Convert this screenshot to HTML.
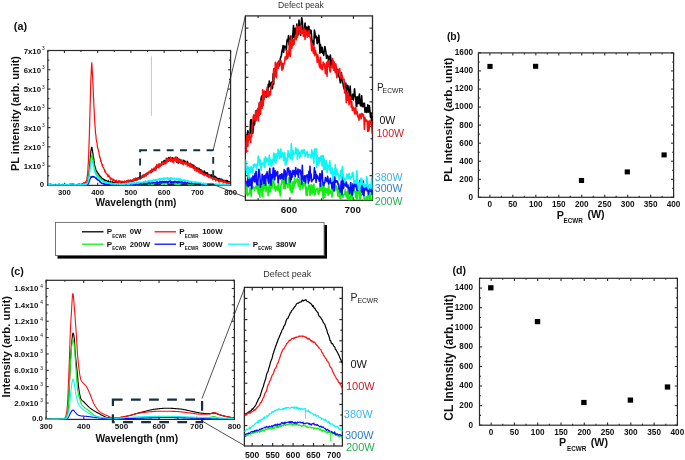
<!DOCTYPE html><html><head><meta charset="utf-8"><style>html,body{margin:0;padding:0;background:#fff;width:685px;height:460px;overflow:hidden}svg{display:block;filter:blur(0.3px)}</style></head><body><svg width="685" height="460" viewBox="0 0 685 460" font-family="'Liberation Sans', sans-serif">
<rect width="685" height="460" fill="#fff"/>
<rect x="47.8" y="50.5" width="182.8" height="134.9" fill="none" stroke="#2a2a2a" stroke-width="1.2"/>
<line x1="47.8" y1="185.4" x2="47.8" y2="183.9" stroke="#2a2a2a" stroke-width="1.08"/>
<line x1="47.8" y1="50.5" x2="47.8" y2="52" stroke="#2a2a2a" stroke-width="1.08"/>
<line x1="64.42" y1="185.4" x2="64.42" y2="182.8" stroke="#2a2a2a" stroke-width="1.08"/>
<line x1="64.42" y1="50.5" x2="64.42" y2="53.1" stroke="#2a2a2a" stroke-width="1.08"/>
<line x1="81.04" y1="185.4" x2="81.04" y2="183.9" stroke="#2a2a2a" stroke-width="1.08"/>
<line x1="81.04" y1="50.5" x2="81.04" y2="52" stroke="#2a2a2a" stroke-width="1.08"/>
<line x1="97.65" y1="185.4" x2="97.65" y2="182.8" stroke="#2a2a2a" stroke-width="1.08"/>
<line x1="97.65" y1="50.5" x2="97.65" y2="53.1" stroke="#2a2a2a" stroke-width="1.08"/>
<line x1="114.27" y1="185.4" x2="114.27" y2="183.9" stroke="#2a2a2a" stroke-width="1.08"/>
<line x1="114.27" y1="50.5" x2="114.27" y2="52" stroke="#2a2a2a" stroke-width="1.08"/>
<line x1="130.89" y1="185.4" x2="130.89" y2="182.8" stroke="#2a2a2a" stroke-width="1.08"/>
<line x1="130.89" y1="50.5" x2="130.89" y2="53.1" stroke="#2a2a2a" stroke-width="1.08"/>
<line x1="147.51" y1="185.4" x2="147.51" y2="183.9" stroke="#2a2a2a" stroke-width="1.08"/>
<line x1="147.51" y1="50.5" x2="147.51" y2="52" stroke="#2a2a2a" stroke-width="1.08"/>
<line x1="164.13" y1="185.4" x2="164.13" y2="182.8" stroke="#2a2a2a" stroke-width="1.08"/>
<line x1="164.13" y1="50.5" x2="164.13" y2="53.1" stroke="#2a2a2a" stroke-width="1.08"/>
<line x1="180.75" y1="185.4" x2="180.75" y2="183.9" stroke="#2a2a2a" stroke-width="1.08"/>
<line x1="180.75" y1="50.5" x2="180.75" y2="52" stroke="#2a2a2a" stroke-width="1.08"/>
<line x1="197.36" y1="185.4" x2="197.36" y2="182.8" stroke="#2a2a2a" stroke-width="1.08"/>
<line x1="197.36" y1="50.5" x2="197.36" y2="53.1" stroke="#2a2a2a" stroke-width="1.08"/>
<line x1="213.98" y1="185.4" x2="213.98" y2="183.9" stroke="#2a2a2a" stroke-width="1.08"/>
<line x1="213.98" y1="50.5" x2="213.98" y2="52" stroke="#2a2a2a" stroke-width="1.08"/>
<line x1="230.6" y1="185.4" x2="230.6" y2="182.8" stroke="#2a2a2a" stroke-width="1.08"/>
<line x1="230.6" y1="50.5" x2="230.6" y2="53.1" stroke="#2a2a2a" stroke-width="1.08"/>
<line x1="47.8" y1="185.4" x2="50.4" y2="185.4" stroke="#2a2a2a" stroke-width="1.08"/>
<line x1="230.6" y1="185.4" x2="228" y2="185.4" stroke="#2a2a2a" stroke-width="1.08"/>
<line x1="47.8" y1="175.76" x2="49.3" y2="175.76" stroke="#2a2a2a" stroke-width="1.08"/>
<line x1="230.6" y1="175.76" x2="229.1" y2="175.76" stroke="#2a2a2a" stroke-width="1.08"/>
<line x1="47.8" y1="166.13" x2="50.4" y2="166.13" stroke="#2a2a2a" stroke-width="1.08"/>
<line x1="230.6" y1="166.13" x2="228" y2="166.13" stroke="#2a2a2a" stroke-width="1.08"/>
<line x1="47.8" y1="156.49" x2="49.3" y2="156.49" stroke="#2a2a2a" stroke-width="1.08"/>
<line x1="230.6" y1="156.49" x2="229.1" y2="156.49" stroke="#2a2a2a" stroke-width="1.08"/>
<line x1="47.8" y1="146.86" x2="50.4" y2="146.86" stroke="#2a2a2a" stroke-width="1.08"/>
<line x1="230.6" y1="146.86" x2="228" y2="146.86" stroke="#2a2a2a" stroke-width="1.08"/>
<line x1="47.8" y1="137.22" x2="49.3" y2="137.22" stroke="#2a2a2a" stroke-width="1.08"/>
<line x1="230.6" y1="137.22" x2="229.1" y2="137.22" stroke="#2a2a2a" stroke-width="1.08"/>
<line x1="47.8" y1="127.59" x2="50.4" y2="127.59" stroke="#2a2a2a" stroke-width="1.08"/>
<line x1="230.6" y1="127.59" x2="228" y2="127.59" stroke="#2a2a2a" stroke-width="1.08"/>
<line x1="47.8" y1="117.95" x2="49.3" y2="117.95" stroke="#2a2a2a" stroke-width="1.08"/>
<line x1="230.6" y1="117.95" x2="229.1" y2="117.95" stroke="#2a2a2a" stroke-width="1.08"/>
<line x1="47.8" y1="108.31" x2="50.4" y2="108.31" stroke="#2a2a2a" stroke-width="1.08"/>
<line x1="230.6" y1="108.31" x2="228" y2="108.31" stroke="#2a2a2a" stroke-width="1.08"/>
<line x1="47.8" y1="98.68" x2="49.3" y2="98.68" stroke="#2a2a2a" stroke-width="1.08"/>
<line x1="230.6" y1="98.68" x2="229.1" y2="98.68" stroke="#2a2a2a" stroke-width="1.08"/>
<line x1="47.8" y1="89.04" x2="50.4" y2="89.04" stroke="#2a2a2a" stroke-width="1.08"/>
<line x1="230.6" y1="89.04" x2="228" y2="89.04" stroke="#2a2a2a" stroke-width="1.08"/>
<line x1="47.8" y1="79.41" x2="49.3" y2="79.41" stroke="#2a2a2a" stroke-width="1.08"/>
<line x1="230.6" y1="79.41" x2="229.1" y2="79.41" stroke="#2a2a2a" stroke-width="1.08"/>
<line x1="47.8" y1="69.77" x2="50.4" y2="69.77" stroke="#2a2a2a" stroke-width="1.08"/>
<line x1="230.6" y1="69.77" x2="228" y2="69.77" stroke="#2a2a2a" stroke-width="1.08"/>
<line x1="47.8" y1="60.14" x2="49.3" y2="60.14" stroke="#2a2a2a" stroke-width="1.08"/>
<line x1="230.6" y1="60.14" x2="229.1" y2="60.14" stroke="#2a2a2a" stroke-width="1.08"/>
<line x1="47.8" y1="50.5" x2="50.4" y2="50.5" stroke="#2a2a2a" stroke-width="1.08"/>
<line x1="230.6" y1="50.5" x2="228" y2="50.5" stroke="#2a2a2a" stroke-width="1.08"/>
<rect x="245.4" y="15.9" width="127.1" height="184.4" fill="none" stroke="#2a2a2a" stroke-width="1.3"/>
<line x1="258.11" y1="200.3" x2="258.11" y2="198.3" stroke="#2a2a2a" stroke-width="1.1700000000000002"/>
<line x1="258.11" y1="15.9" x2="258.11" y2="17.9" stroke="#2a2a2a" stroke-width="1.1700000000000002"/>
<line x1="289.88" y1="200.3" x2="289.88" y2="197.3" stroke="#2a2a2a" stroke-width="1.1700000000000002"/>
<line x1="289.88" y1="15.9" x2="289.88" y2="18.9" stroke="#2a2a2a" stroke-width="1.1700000000000002"/>
<line x1="321.66" y1="200.3" x2="321.66" y2="198.3" stroke="#2a2a2a" stroke-width="1.1700000000000002"/>
<line x1="321.66" y1="15.9" x2="321.66" y2="17.9" stroke="#2a2a2a" stroke-width="1.1700000000000002"/>
<line x1="353.44" y1="200.3" x2="353.44" y2="197.3" stroke="#2a2a2a" stroke-width="1.1700000000000002"/>
<line x1="353.44" y1="15.9" x2="353.44" y2="18.9" stroke="#2a2a2a" stroke-width="1.1700000000000002"/>
<line x1="245.4" y1="188" x2="247.4" y2="188" stroke="#2a2a2a" stroke-width="1.1700000000000002"/>
<line x1="372.5" y1="188" x2="370.5" y2="188" stroke="#2a2a2a" stroke-width="1.1700000000000002"/>
<line x1="245.4" y1="175.7" x2="248.4" y2="175.7" stroke="#2a2a2a" stroke-width="1.1700000000000002"/>
<line x1="372.5" y1="175.7" x2="369.5" y2="175.7" stroke="#2a2a2a" stroke-width="1.1700000000000002"/>
<line x1="245.4" y1="163.4" x2="247.4" y2="163.4" stroke="#2a2a2a" stroke-width="1.1700000000000002"/>
<line x1="372.5" y1="163.4" x2="370.5" y2="163.4" stroke="#2a2a2a" stroke-width="1.1700000000000002"/>
<line x1="245.4" y1="151.1" x2="248.4" y2="151.1" stroke="#2a2a2a" stroke-width="1.1700000000000002"/>
<line x1="372.5" y1="151.1" x2="369.5" y2="151.1" stroke="#2a2a2a" stroke-width="1.1700000000000002"/>
<line x1="245.4" y1="138.8" x2="247.4" y2="138.8" stroke="#2a2a2a" stroke-width="1.1700000000000002"/>
<line x1="372.5" y1="138.8" x2="370.5" y2="138.8" stroke="#2a2a2a" stroke-width="1.1700000000000002"/>
<line x1="245.4" y1="126.5" x2="248.4" y2="126.5" stroke="#2a2a2a" stroke-width="1.1700000000000002"/>
<line x1="372.5" y1="126.5" x2="369.5" y2="126.5" stroke="#2a2a2a" stroke-width="1.1700000000000002"/>
<line x1="245.4" y1="114.2" x2="247.4" y2="114.2" stroke="#2a2a2a" stroke-width="1.1700000000000002"/>
<line x1="372.5" y1="114.2" x2="370.5" y2="114.2" stroke="#2a2a2a" stroke-width="1.1700000000000002"/>
<line x1="245.4" y1="101.9" x2="248.4" y2="101.9" stroke="#2a2a2a" stroke-width="1.1700000000000002"/>
<line x1="372.5" y1="101.9" x2="369.5" y2="101.9" stroke="#2a2a2a" stroke-width="1.1700000000000002"/>
<line x1="245.4" y1="89.6" x2="247.4" y2="89.6" stroke="#2a2a2a" stroke-width="1.1700000000000002"/>
<line x1="372.5" y1="89.6" x2="370.5" y2="89.6" stroke="#2a2a2a" stroke-width="1.1700000000000002"/>
<line x1="245.4" y1="77.3" x2="248.4" y2="77.3" stroke="#2a2a2a" stroke-width="1.1700000000000002"/>
<line x1="372.5" y1="77.3" x2="369.5" y2="77.3" stroke="#2a2a2a" stroke-width="1.1700000000000002"/>
<line x1="245.4" y1="65" x2="247.4" y2="65" stroke="#2a2a2a" stroke-width="1.1700000000000002"/>
<line x1="372.5" y1="65" x2="370.5" y2="65" stroke="#2a2a2a" stroke-width="1.1700000000000002"/>
<line x1="245.4" y1="52.7" x2="248.4" y2="52.7" stroke="#2a2a2a" stroke-width="1.1700000000000002"/>
<line x1="372.5" y1="52.7" x2="369.5" y2="52.7" stroke="#2a2a2a" stroke-width="1.1700000000000002"/>
<line x1="245.4" y1="40.4" x2="247.4" y2="40.4" stroke="#2a2a2a" stroke-width="1.1700000000000002"/>
<line x1="372.5" y1="40.4" x2="370.5" y2="40.4" stroke="#2a2a2a" stroke-width="1.1700000000000002"/>
<line x1="245.4" y1="28.1" x2="248.4" y2="28.1" stroke="#2a2a2a" stroke-width="1.1700000000000002"/>
<line x1="372.5" y1="28.1" x2="369.5" y2="28.1" stroke="#2a2a2a" stroke-width="1.1700000000000002"/>
<rect x="46.1" y="280.3" width="188.3" height="139.1" fill="none" stroke="#2a2a2a" stroke-width="1.2"/>
<line x1="46.1" y1="419.4" x2="46.1" y2="416.8" stroke="#2a2a2a" stroke-width="1.08"/>
<line x1="46.1" y1="280.3" x2="46.1" y2="282.9" stroke="#2a2a2a" stroke-width="1.08"/>
<line x1="64.93" y1="419.4" x2="64.93" y2="417.9" stroke="#2a2a2a" stroke-width="1.08"/>
<line x1="64.93" y1="280.3" x2="64.93" y2="281.8" stroke="#2a2a2a" stroke-width="1.08"/>
<line x1="83.76" y1="419.4" x2="83.76" y2="416.8" stroke="#2a2a2a" stroke-width="1.08"/>
<line x1="83.76" y1="280.3" x2="83.76" y2="282.9" stroke="#2a2a2a" stroke-width="1.08"/>
<line x1="102.59" y1="419.4" x2="102.59" y2="417.9" stroke="#2a2a2a" stroke-width="1.08"/>
<line x1="102.59" y1="280.3" x2="102.59" y2="281.8" stroke="#2a2a2a" stroke-width="1.08"/>
<line x1="121.42" y1="419.4" x2="121.42" y2="416.8" stroke="#2a2a2a" stroke-width="1.08"/>
<line x1="121.42" y1="280.3" x2="121.42" y2="282.9" stroke="#2a2a2a" stroke-width="1.08"/>
<line x1="140.25" y1="419.4" x2="140.25" y2="417.9" stroke="#2a2a2a" stroke-width="1.08"/>
<line x1="140.25" y1="280.3" x2="140.25" y2="281.8" stroke="#2a2a2a" stroke-width="1.08"/>
<line x1="159.08" y1="419.4" x2="159.08" y2="416.8" stroke="#2a2a2a" stroke-width="1.08"/>
<line x1="159.08" y1="280.3" x2="159.08" y2="282.9" stroke="#2a2a2a" stroke-width="1.08"/>
<line x1="177.91" y1="419.4" x2="177.91" y2="417.9" stroke="#2a2a2a" stroke-width="1.08"/>
<line x1="177.91" y1="280.3" x2="177.91" y2="281.8" stroke="#2a2a2a" stroke-width="1.08"/>
<line x1="196.74" y1="419.4" x2="196.74" y2="416.8" stroke="#2a2a2a" stroke-width="1.08"/>
<line x1="196.74" y1="280.3" x2="196.74" y2="282.9" stroke="#2a2a2a" stroke-width="1.08"/>
<line x1="215.57" y1="419.4" x2="215.57" y2="417.9" stroke="#2a2a2a" stroke-width="1.08"/>
<line x1="215.57" y1="280.3" x2="215.57" y2="281.8" stroke="#2a2a2a" stroke-width="1.08"/>
<line x1="234.4" y1="419.4" x2="234.4" y2="416.8" stroke="#2a2a2a" stroke-width="1.08"/>
<line x1="234.4" y1="280.3" x2="234.4" y2="282.9" stroke="#2a2a2a" stroke-width="1.08"/>
<line x1="46.1" y1="419.4" x2="48.7" y2="419.4" stroke="#2a2a2a" stroke-width="1.08"/>
<line x1="234.4" y1="419.4" x2="231.8" y2="419.4" stroke="#2a2a2a" stroke-width="1.08"/>
<line x1="46.1" y1="411.22" x2="47.6" y2="411.22" stroke="#2a2a2a" stroke-width="1.08"/>
<line x1="234.4" y1="411.22" x2="232.9" y2="411.22" stroke="#2a2a2a" stroke-width="1.08"/>
<line x1="46.1" y1="403.04" x2="48.7" y2="403.04" stroke="#2a2a2a" stroke-width="1.08"/>
<line x1="234.4" y1="403.04" x2="231.8" y2="403.04" stroke="#2a2a2a" stroke-width="1.08"/>
<line x1="46.1" y1="394.85" x2="47.6" y2="394.85" stroke="#2a2a2a" stroke-width="1.08"/>
<line x1="234.4" y1="394.85" x2="232.9" y2="394.85" stroke="#2a2a2a" stroke-width="1.08"/>
<line x1="46.1" y1="386.67" x2="48.7" y2="386.67" stroke="#2a2a2a" stroke-width="1.08"/>
<line x1="234.4" y1="386.67" x2="231.8" y2="386.67" stroke="#2a2a2a" stroke-width="1.08"/>
<line x1="46.1" y1="378.49" x2="47.6" y2="378.49" stroke="#2a2a2a" stroke-width="1.08"/>
<line x1="234.4" y1="378.49" x2="232.9" y2="378.49" stroke="#2a2a2a" stroke-width="1.08"/>
<line x1="46.1" y1="370.31" x2="48.7" y2="370.31" stroke="#2a2a2a" stroke-width="1.08"/>
<line x1="234.4" y1="370.31" x2="231.8" y2="370.31" stroke="#2a2a2a" stroke-width="1.08"/>
<line x1="46.1" y1="362.12" x2="47.6" y2="362.12" stroke="#2a2a2a" stroke-width="1.08"/>
<line x1="234.4" y1="362.12" x2="232.9" y2="362.12" stroke="#2a2a2a" stroke-width="1.08"/>
<line x1="46.1" y1="353.94" x2="48.7" y2="353.94" stroke="#2a2a2a" stroke-width="1.08"/>
<line x1="234.4" y1="353.94" x2="231.8" y2="353.94" stroke="#2a2a2a" stroke-width="1.08"/>
<line x1="46.1" y1="345.76" x2="47.6" y2="345.76" stroke="#2a2a2a" stroke-width="1.08"/>
<line x1="234.4" y1="345.76" x2="232.9" y2="345.76" stroke="#2a2a2a" stroke-width="1.08"/>
<line x1="46.1" y1="337.58" x2="48.7" y2="337.58" stroke="#2a2a2a" stroke-width="1.08"/>
<line x1="234.4" y1="337.58" x2="231.8" y2="337.58" stroke="#2a2a2a" stroke-width="1.08"/>
<line x1="46.1" y1="329.39" x2="47.6" y2="329.39" stroke="#2a2a2a" stroke-width="1.08"/>
<line x1="234.4" y1="329.39" x2="232.9" y2="329.39" stroke="#2a2a2a" stroke-width="1.08"/>
<line x1="46.1" y1="321.21" x2="48.7" y2="321.21" stroke="#2a2a2a" stroke-width="1.08"/>
<line x1="234.4" y1="321.21" x2="231.8" y2="321.21" stroke="#2a2a2a" stroke-width="1.08"/>
<line x1="46.1" y1="313.03" x2="47.6" y2="313.03" stroke="#2a2a2a" stroke-width="1.08"/>
<line x1="234.4" y1="313.03" x2="232.9" y2="313.03" stroke="#2a2a2a" stroke-width="1.08"/>
<line x1="46.1" y1="304.85" x2="48.7" y2="304.85" stroke="#2a2a2a" stroke-width="1.08"/>
<line x1="234.4" y1="304.85" x2="231.8" y2="304.85" stroke="#2a2a2a" stroke-width="1.08"/>
<line x1="46.1" y1="296.66" x2="47.6" y2="296.66" stroke="#2a2a2a" stroke-width="1.08"/>
<line x1="234.4" y1="296.66" x2="232.9" y2="296.66" stroke="#2a2a2a" stroke-width="1.08"/>
<line x1="46.1" y1="288.48" x2="48.7" y2="288.48" stroke="#2a2a2a" stroke-width="1.08"/>
<line x1="234.4" y1="288.48" x2="231.8" y2="288.48" stroke="#2a2a2a" stroke-width="1.08"/>
<line x1="46.1" y1="280.3" x2="47.6" y2="280.3" stroke="#2a2a2a" stroke-width="1.08"/>
<line x1="234.4" y1="280.3" x2="232.9" y2="280.3" stroke="#2a2a2a" stroke-width="1.08"/>
<rect x="244.4" y="287.4" width="98" height="158.6" fill="none" stroke="#2a2a2a" stroke-width="1.3"/>
<line x1="252.2" y1="446" x2="252.2" y2="443" stroke="#2a2a2a" stroke-width="1.1700000000000002"/>
<line x1="252.2" y1="287.4" x2="252.2" y2="290.4" stroke="#2a2a2a" stroke-width="1.1700000000000002"/>
<line x1="262.42" y1="446" x2="262.42" y2="444" stroke="#2a2a2a" stroke-width="1.1700000000000002"/>
<line x1="262.42" y1="287.4" x2="262.42" y2="289.4" stroke="#2a2a2a" stroke-width="1.1700000000000002"/>
<line x1="272.64" y1="446" x2="272.64" y2="443" stroke="#2a2a2a" stroke-width="1.1700000000000002"/>
<line x1="272.64" y1="287.4" x2="272.64" y2="290.4" stroke="#2a2a2a" stroke-width="1.1700000000000002"/>
<line x1="282.86" y1="446" x2="282.86" y2="444" stroke="#2a2a2a" stroke-width="1.1700000000000002"/>
<line x1="282.86" y1="287.4" x2="282.86" y2="289.4" stroke="#2a2a2a" stroke-width="1.1700000000000002"/>
<line x1="293.08" y1="446" x2="293.08" y2="443" stroke="#2a2a2a" stroke-width="1.1700000000000002"/>
<line x1="293.08" y1="287.4" x2="293.08" y2="290.4" stroke="#2a2a2a" stroke-width="1.1700000000000002"/>
<line x1="303.3" y1="446" x2="303.3" y2="444" stroke="#2a2a2a" stroke-width="1.1700000000000002"/>
<line x1="303.3" y1="287.4" x2="303.3" y2="289.4" stroke="#2a2a2a" stroke-width="1.1700000000000002"/>
<line x1="313.52" y1="446" x2="313.52" y2="443" stroke="#2a2a2a" stroke-width="1.1700000000000002"/>
<line x1="313.52" y1="287.4" x2="313.52" y2="290.4" stroke="#2a2a2a" stroke-width="1.1700000000000002"/>
<line x1="323.74" y1="446" x2="323.74" y2="444" stroke="#2a2a2a" stroke-width="1.1700000000000002"/>
<line x1="323.74" y1="287.4" x2="323.74" y2="289.4" stroke="#2a2a2a" stroke-width="1.1700000000000002"/>
<line x1="333.96" y1="446" x2="333.96" y2="443" stroke="#2a2a2a" stroke-width="1.1700000000000002"/>
<line x1="333.96" y1="287.4" x2="333.96" y2="290.4" stroke="#2a2a2a" stroke-width="1.1700000000000002"/>
<line x1="244.4" y1="298.4" x2="247.4" y2="298.4" stroke="#2a2a2a" stroke-width="1.1700000000000002"/>
<line x1="342.4" y1="298.4" x2="339.4" y2="298.4" stroke="#2a2a2a" stroke-width="1.1700000000000002"/>
<line x1="244.4" y1="309" x2="246.4" y2="309" stroke="#2a2a2a" stroke-width="1.1700000000000002"/>
<line x1="342.4" y1="309" x2="340.4" y2="309" stroke="#2a2a2a" stroke-width="1.1700000000000002"/>
<line x1="244.4" y1="319.6" x2="247.4" y2="319.6" stroke="#2a2a2a" stroke-width="1.1700000000000002"/>
<line x1="342.4" y1="319.6" x2="339.4" y2="319.6" stroke="#2a2a2a" stroke-width="1.1700000000000002"/>
<line x1="244.4" y1="330.2" x2="246.4" y2="330.2" stroke="#2a2a2a" stroke-width="1.1700000000000002"/>
<line x1="342.4" y1="330.2" x2="340.4" y2="330.2" stroke="#2a2a2a" stroke-width="1.1700000000000002"/>
<line x1="244.4" y1="340.8" x2="247.4" y2="340.8" stroke="#2a2a2a" stroke-width="1.1700000000000002"/>
<line x1="342.4" y1="340.8" x2="339.4" y2="340.8" stroke="#2a2a2a" stroke-width="1.1700000000000002"/>
<line x1="244.4" y1="351.4" x2="246.4" y2="351.4" stroke="#2a2a2a" stroke-width="1.1700000000000002"/>
<line x1="342.4" y1="351.4" x2="340.4" y2="351.4" stroke="#2a2a2a" stroke-width="1.1700000000000002"/>
<line x1="244.4" y1="362" x2="247.4" y2="362" stroke="#2a2a2a" stroke-width="1.1700000000000002"/>
<line x1="342.4" y1="362" x2="339.4" y2="362" stroke="#2a2a2a" stroke-width="1.1700000000000002"/>
<line x1="244.4" y1="372.6" x2="246.4" y2="372.6" stroke="#2a2a2a" stroke-width="1.1700000000000002"/>
<line x1="342.4" y1="372.6" x2="340.4" y2="372.6" stroke="#2a2a2a" stroke-width="1.1700000000000002"/>
<line x1="244.4" y1="383.2" x2="247.4" y2="383.2" stroke="#2a2a2a" stroke-width="1.1700000000000002"/>
<line x1="342.4" y1="383.2" x2="339.4" y2="383.2" stroke="#2a2a2a" stroke-width="1.1700000000000002"/>
<line x1="244.4" y1="393.8" x2="246.4" y2="393.8" stroke="#2a2a2a" stroke-width="1.1700000000000002"/>
<line x1="342.4" y1="393.8" x2="340.4" y2="393.8" stroke="#2a2a2a" stroke-width="1.1700000000000002"/>
<line x1="244.4" y1="404.4" x2="247.4" y2="404.4" stroke="#2a2a2a" stroke-width="1.1700000000000002"/>
<line x1="342.4" y1="404.4" x2="339.4" y2="404.4" stroke="#2a2a2a" stroke-width="1.1700000000000002"/>
<line x1="244.4" y1="415" x2="246.4" y2="415" stroke="#2a2a2a" stroke-width="1.1700000000000002"/>
<line x1="342.4" y1="415" x2="340.4" y2="415" stroke="#2a2a2a" stroke-width="1.1700000000000002"/>
<line x1="244.4" y1="425.6" x2="247.4" y2="425.6" stroke="#2a2a2a" stroke-width="1.1700000000000002"/>
<line x1="342.4" y1="425.6" x2="339.4" y2="425.6" stroke="#2a2a2a" stroke-width="1.1700000000000002"/>
<line x1="244.4" y1="436.2" x2="246.4" y2="436.2" stroke="#2a2a2a" stroke-width="1.1700000000000002"/>
<line x1="342.4" y1="436.2" x2="340.4" y2="436.2" stroke="#2a2a2a" stroke-width="1.1700000000000002"/>
<rect x="478.4" y="52.9" width="195.2" height="144.4" fill="none" stroke="#2a2a2a" stroke-width="1.2"/>
<line x1="489.88" y1="197.3" x2="489.88" y2="194.7" stroke="#2a2a2a" stroke-width="1.08"/>
<line x1="489.88" y1="52.9" x2="489.88" y2="55.5" stroke="#2a2a2a" stroke-width="1.08"/>
<line x1="501.36" y1="197.3" x2="501.36" y2="195.8" stroke="#2a2a2a" stroke-width="1.08"/>
<line x1="501.36" y1="52.9" x2="501.36" y2="54.4" stroke="#2a2a2a" stroke-width="1.08"/>
<line x1="512.85" y1="197.3" x2="512.85" y2="194.7" stroke="#2a2a2a" stroke-width="1.08"/>
<line x1="512.85" y1="52.9" x2="512.85" y2="55.5" stroke="#2a2a2a" stroke-width="1.08"/>
<line x1="524.33" y1="197.3" x2="524.33" y2="195.8" stroke="#2a2a2a" stroke-width="1.08"/>
<line x1="524.33" y1="52.9" x2="524.33" y2="54.4" stroke="#2a2a2a" stroke-width="1.08"/>
<line x1="535.81" y1="197.3" x2="535.81" y2="194.7" stroke="#2a2a2a" stroke-width="1.08"/>
<line x1="535.81" y1="52.9" x2="535.81" y2="55.5" stroke="#2a2a2a" stroke-width="1.08"/>
<line x1="547.29" y1="197.3" x2="547.29" y2="195.8" stroke="#2a2a2a" stroke-width="1.08"/>
<line x1="547.29" y1="52.9" x2="547.29" y2="54.4" stroke="#2a2a2a" stroke-width="1.08"/>
<line x1="558.78" y1="197.3" x2="558.78" y2="194.7" stroke="#2a2a2a" stroke-width="1.08"/>
<line x1="558.78" y1="52.9" x2="558.78" y2="55.5" stroke="#2a2a2a" stroke-width="1.08"/>
<line x1="570.26" y1="197.3" x2="570.26" y2="195.8" stroke="#2a2a2a" stroke-width="1.08"/>
<line x1="570.26" y1="52.9" x2="570.26" y2="54.4" stroke="#2a2a2a" stroke-width="1.08"/>
<line x1="581.74" y1="197.3" x2="581.74" y2="194.7" stroke="#2a2a2a" stroke-width="1.08"/>
<line x1="581.74" y1="52.9" x2="581.74" y2="55.5" stroke="#2a2a2a" stroke-width="1.08"/>
<line x1="593.22" y1="197.3" x2="593.22" y2="195.8" stroke="#2a2a2a" stroke-width="1.08"/>
<line x1="593.22" y1="52.9" x2="593.22" y2="54.4" stroke="#2a2a2a" stroke-width="1.08"/>
<line x1="604.71" y1="197.3" x2="604.71" y2="194.7" stroke="#2a2a2a" stroke-width="1.08"/>
<line x1="604.71" y1="52.9" x2="604.71" y2="55.5" stroke="#2a2a2a" stroke-width="1.08"/>
<line x1="616.19" y1="197.3" x2="616.19" y2="195.8" stroke="#2a2a2a" stroke-width="1.08"/>
<line x1="616.19" y1="52.9" x2="616.19" y2="54.4" stroke="#2a2a2a" stroke-width="1.08"/>
<line x1="627.67" y1="197.3" x2="627.67" y2="194.7" stroke="#2a2a2a" stroke-width="1.08"/>
<line x1="627.67" y1="52.9" x2="627.67" y2="55.5" stroke="#2a2a2a" stroke-width="1.08"/>
<line x1="639.15" y1="197.3" x2="639.15" y2="195.8" stroke="#2a2a2a" stroke-width="1.08"/>
<line x1="639.15" y1="52.9" x2="639.15" y2="54.4" stroke="#2a2a2a" stroke-width="1.08"/>
<line x1="650.64" y1="197.3" x2="650.64" y2="194.7" stroke="#2a2a2a" stroke-width="1.08"/>
<line x1="650.64" y1="52.9" x2="650.64" y2="55.5" stroke="#2a2a2a" stroke-width="1.08"/>
<line x1="662.12" y1="197.3" x2="662.12" y2="195.8" stroke="#2a2a2a" stroke-width="1.08"/>
<line x1="662.12" y1="52.9" x2="662.12" y2="54.4" stroke="#2a2a2a" stroke-width="1.08"/>
<line x1="673.6" y1="197.3" x2="673.6" y2="194.7" stroke="#2a2a2a" stroke-width="1.08"/>
<line x1="673.6" y1="52.9" x2="673.6" y2="55.5" stroke="#2a2a2a" stroke-width="1.08"/>
<line x1="478.4" y1="197.3" x2="481" y2="197.3" stroke="#2a2a2a" stroke-width="1.08"/>
<line x1="673.6" y1="197.3" x2="671" y2="197.3" stroke="#2a2a2a" stroke-width="1.08"/>
<line x1="478.4" y1="188.28" x2="479.9" y2="188.28" stroke="#2a2a2a" stroke-width="1.08"/>
<line x1="673.6" y1="188.28" x2="672.1" y2="188.28" stroke="#2a2a2a" stroke-width="1.08"/>
<line x1="478.4" y1="179.25" x2="481" y2="179.25" stroke="#2a2a2a" stroke-width="1.08"/>
<line x1="673.6" y1="179.25" x2="671" y2="179.25" stroke="#2a2a2a" stroke-width="1.08"/>
<line x1="478.4" y1="170.23" x2="479.9" y2="170.23" stroke="#2a2a2a" stroke-width="1.08"/>
<line x1="673.6" y1="170.23" x2="672.1" y2="170.23" stroke="#2a2a2a" stroke-width="1.08"/>
<line x1="478.4" y1="161.2" x2="481" y2="161.2" stroke="#2a2a2a" stroke-width="1.08"/>
<line x1="673.6" y1="161.2" x2="671" y2="161.2" stroke="#2a2a2a" stroke-width="1.08"/>
<line x1="478.4" y1="152.18" x2="479.9" y2="152.18" stroke="#2a2a2a" stroke-width="1.08"/>
<line x1="673.6" y1="152.18" x2="672.1" y2="152.18" stroke="#2a2a2a" stroke-width="1.08"/>
<line x1="478.4" y1="143.15" x2="481" y2="143.15" stroke="#2a2a2a" stroke-width="1.08"/>
<line x1="673.6" y1="143.15" x2="671" y2="143.15" stroke="#2a2a2a" stroke-width="1.08"/>
<line x1="478.4" y1="134.12" x2="479.9" y2="134.12" stroke="#2a2a2a" stroke-width="1.08"/>
<line x1="673.6" y1="134.12" x2="672.1" y2="134.12" stroke="#2a2a2a" stroke-width="1.08"/>
<line x1="478.4" y1="125.1" x2="481" y2="125.1" stroke="#2a2a2a" stroke-width="1.08"/>
<line x1="673.6" y1="125.1" x2="671" y2="125.1" stroke="#2a2a2a" stroke-width="1.08"/>
<line x1="478.4" y1="116.08" x2="479.9" y2="116.08" stroke="#2a2a2a" stroke-width="1.08"/>
<line x1="673.6" y1="116.08" x2="672.1" y2="116.08" stroke="#2a2a2a" stroke-width="1.08"/>
<line x1="478.4" y1="107.05" x2="481" y2="107.05" stroke="#2a2a2a" stroke-width="1.08"/>
<line x1="673.6" y1="107.05" x2="671" y2="107.05" stroke="#2a2a2a" stroke-width="1.08"/>
<line x1="478.4" y1="98.03" x2="479.9" y2="98.03" stroke="#2a2a2a" stroke-width="1.08"/>
<line x1="673.6" y1="98.03" x2="672.1" y2="98.03" stroke="#2a2a2a" stroke-width="1.08"/>
<line x1="478.4" y1="89" x2="481" y2="89" stroke="#2a2a2a" stroke-width="1.08"/>
<line x1="673.6" y1="89" x2="671" y2="89" stroke="#2a2a2a" stroke-width="1.08"/>
<line x1="478.4" y1="79.98" x2="479.9" y2="79.98" stroke="#2a2a2a" stroke-width="1.08"/>
<line x1="673.6" y1="79.98" x2="672.1" y2="79.98" stroke="#2a2a2a" stroke-width="1.08"/>
<line x1="478.4" y1="70.95" x2="481" y2="70.95" stroke="#2a2a2a" stroke-width="1.08"/>
<line x1="673.6" y1="70.95" x2="671" y2="70.95" stroke="#2a2a2a" stroke-width="1.08"/>
<line x1="478.4" y1="61.93" x2="479.9" y2="61.93" stroke="#2a2a2a" stroke-width="1.08"/>
<line x1="673.6" y1="61.93" x2="672.1" y2="61.93" stroke="#2a2a2a" stroke-width="1.08"/>
<line x1="478.4" y1="52.9" x2="481" y2="52.9" stroke="#2a2a2a" stroke-width="1.08"/>
<line x1="673.6" y1="52.9" x2="671" y2="52.9" stroke="#2a2a2a" stroke-width="1.08"/>
<rect x="479.5" y="278.3" width="197.9" height="146.9" fill="none" stroke="#2a2a2a" stroke-width="1.2"/>
<line x1="491.14" y1="425.2" x2="491.14" y2="422.6" stroke="#2a2a2a" stroke-width="1.08"/>
<line x1="491.14" y1="278.3" x2="491.14" y2="280.9" stroke="#2a2a2a" stroke-width="1.08"/>
<line x1="502.78" y1="425.2" x2="502.78" y2="423.7" stroke="#2a2a2a" stroke-width="1.08"/>
<line x1="502.78" y1="278.3" x2="502.78" y2="279.8" stroke="#2a2a2a" stroke-width="1.08"/>
<line x1="514.42" y1="425.2" x2="514.42" y2="422.6" stroke="#2a2a2a" stroke-width="1.08"/>
<line x1="514.42" y1="278.3" x2="514.42" y2="280.9" stroke="#2a2a2a" stroke-width="1.08"/>
<line x1="526.06" y1="425.2" x2="526.06" y2="423.7" stroke="#2a2a2a" stroke-width="1.08"/>
<line x1="526.06" y1="278.3" x2="526.06" y2="279.8" stroke="#2a2a2a" stroke-width="1.08"/>
<line x1="537.71" y1="425.2" x2="537.71" y2="422.6" stroke="#2a2a2a" stroke-width="1.08"/>
<line x1="537.71" y1="278.3" x2="537.71" y2="280.9" stroke="#2a2a2a" stroke-width="1.08"/>
<line x1="549.35" y1="425.2" x2="549.35" y2="423.7" stroke="#2a2a2a" stroke-width="1.08"/>
<line x1="549.35" y1="278.3" x2="549.35" y2="279.8" stroke="#2a2a2a" stroke-width="1.08"/>
<line x1="560.99" y1="425.2" x2="560.99" y2="422.6" stroke="#2a2a2a" stroke-width="1.08"/>
<line x1="560.99" y1="278.3" x2="560.99" y2="280.9" stroke="#2a2a2a" stroke-width="1.08"/>
<line x1="572.63" y1="425.2" x2="572.63" y2="423.7" stroke="#2a2a2a" stroke-width="1.08"/>
<line x1="572.63" y1="278.3" x2="572.63" y2="279.8" stroke="#2a2a2a" stroke-width="1.08"/>
<line x1="584.27" y1="425.2" x2="584.27" y2="422.6" stroke="#2a2a2a" stroke-width="1.08"/>
<line x1="584.27" y1="278.3" x2="584.27" y2="280.9" stroke="#2a2a2a" stroke-width="1.08"/>
<line x1="595.91" y1="425.2" x2="595.91" y2="423.7" stroke="#2a2a2a" stroke-width="1.08"/>
<line x1="595.91" y1="278.3" x2="595.91" y2="279.8" stroke="#2a2a2a" stroke-width="1.08"/>
<line x1="607.55" y1="425.2" x2="607.55" y2="422.6" stroke="#2a2a2a" stroke-width="1.08"/>
<line x1="607.55" y1="278.3" x2="607.55" y2="280.9" stroke="#2a2a2a" stroke-width="1.08"/>
<line x1="619.19" y1="425.2" x2="619.19" y2="423.7" stroke="#2a2a2a" stroke-width="1.08"/>
<line x1="619.19" y1="278.3" x2="619.19" y2="279.8" stroke="#2a2a2a" stroke-width="1.08"/>
<line x1="630.84" y1="425.2" x2="630.84" y2="422.6" stroke="#2a2a2a" stroke-width="1.08"/>
<line x1="630.84" y1="278.3" x2="630.84" y2="280.9" stroke="#2a2a2a" stroke-width="1.08"/>
<line x1="642.48" y1="425.2" x2="642.48" y2="423.7" stroke="#2a2a2a" stroke-width="1.08"/>
<line x1="642.48" y1="278.3" x2="642.48" y2="279.8" stroke="#2a2a2a" stroke-width="1.08"/>
<line x1="654.12" y1="425.2" x2="654.12" y2="422.6" stroke="#2a2a2a" stroke-width="1.08"/>
<line x1="654.12" y1="278.3" x2="654.12" y2="280.9" stroke="#2a2a2a" stroke-width="1.08"/>
<line x1="665.76" y1="425.2" x2="665.76" y2="423.7" stroke="#2a2a2a" stroke-width="1.08"/>
<line x1="665.76" y1="278.3" x2="665.76" y2="279.8" stroke="#2a2a2a" stroke-width="1.08"/>
<line x1="677.4" y1="425.2" x2="677.4" y2="422.6" stroke="#2a2a2a" stroke-width="1.08"/>
<line x1="677.4" y1="278.3" x2="677.4" y2="280.9" stroke="#2a2a2a" stroke-width="1.08"/>
<line x1="479.5" y1="425.2" x2="482.1" y2="425.2" stroke="#2a2a2a" stroke-width="1.08"/>
<line x1="677.4" y1="425.2" x2="674.8" y2="425.2" stroke="#2a2a2a" stroke-width="1.08"/>
<line x1="479.5" y1="415.41" x2="481" y2="415.41" stroke="#2a2a2a" stroke-width="1.08"/>
<line x1="677.4" y1="415.41" x2="675.9" y2="415.41" stroke="#2a2a2a" stroke-width="1.08"/>
<line x1="479.5" y1="405.61" x2="482.1" y2="405.61" stroke="#2a2a2a" stroke-width="1.08"/>
<line x1="677.4" y1="405.61" x2="674.8" y2="405.61" stroke="#2a2a2a" stroke-width="1.08"/>
<line x1="479.5" y1="395.82" x2="481" y2="395.82" stroke="#2a2a2a" stroke-width="1.08"/>
<line x1="677.4" y1="395.82" x2="675.9" y2="395.82" stroke="#2a2a2a" stroke-width="1.08"/>
<line x1="479.5" y1="386.03" x2="482.1" y2="386.03" stroke="#2a2a2a" stroke-width="1.08"/>
<line x1="677.4" y1="386.03" x2="674.8" y2="386.03" stroke="#2a2a2a" stroke-width="1.08"/>
<line x1="479.5" y1="376.23" x2="481" y2="376.23" stroke="#2a2a2a" stroke-width="1.08"/>
<line x1="677.4" y1="376.23" x2="675.9" y2="376.23" stroke="#2a2a2a" stroke-width="1.08"/>
<line x1="479.5" y1="366.44" x2="482.1" y2="366.44" stroke="#2a2a2a" stroke-width="1.08"/>
<line x1="677.4" y1="366.44" x2="674.8" y2="366.44" stroke="#2a2a2a" stroke-width="1.08"/>
<line x1="479.5" y1="356.65" x2="481" y2="356.65" stroke="#2a2a2a" stroke-width="1.08"/>
<line x1="677.4" y1="356.65" x2="675.9" y2="356.65" stroke="#2a2a2a" stroke-width="1.08"/>
<line x1="479.5" y1="346.85" x2="482.1" y2="346.85" stroke="#2a2a2a" stroke-width="1.08"/>
<line x1="677.4" y1="346.85" x2="674.8" y2="346.85" stroke="#2a2a2a" stroke-width="1.08"/>
<line x1="479.5" y1="337.06" x2="481" y2="337.06" stroke="#2a2a2a" stroke-width="1.08"/>
<line x1="677.4" y1="337.06" x2="675.9" y2="337.06" stroke="#2a2a2a" stroke-width="1.08"/>
<line x1="479.5" y1="327.27" x2="482.1" y2="327.27" stroke="#2a2a2a" stroke-width="1.08"/>
<line x1="677.4" y1="327.27" x2="674.8" y2="327.27" stroke="#2a2a2a" stroke-width="1.08"/>
<line x1="479.5" y1="317.47" x2="481" y2="317.47" stroke="#2a2a2a" stroke-width="1.08"/>
<line x1="677.4" y1="317.47" x2="675.9" y2="317.47" stroke="#2a2a2a" stroke-width="1.08"/>
<line x1="479.5" y1="307.68" x2="482.1" y2="307.68" stroke="#2a2a2a" stroke-width="1.08"/>
<line x1="677.4" y1="307.68" x2="674.8" y2="307.68" stroke="#2a2a2a" stroke-width="1.08"/>
<line x1="479.5" y1="297.89" x2="481" y2="297.89" stroke="#2a2a2a" stroke-width="1.08"/>
<line x1="677.4" y1="297.89" x2="675.9" y2="297.89" stroke="#2a2a2a" stroke-width="1.08"/>
<line x1="479.5" y1="288.09" x2="482.1" y2="288.09" stroke="#2a2a2a" stroke-width="1.08"/>
<line x1="677.4" y1="288.09" x2="674.8" y2="288.09" stroke="#2a2a2a" stroke-width="1.08"/>
<line x1="479.5" y1="278.3" x2="481" y2="278.3" stroke="#2a2a2a" stroke-width="1.08"/>
<line x1="677.4" y1="278.3" x2="675.9" y2="278.3" stroke="#2a2a2a" stroke-width="1.08"/>
<clipPath id="ca"><rect x="47.8" y="50.5" width="182.8" height="134.9"/></clipPath>
<polyline points="47.8,185.1 48,184.59 48.2,184.64 48.4,185.31 48.6,185.22 48.8,185.31 49,184.89 49.2,185.13 49.4,184.82 49.59,185.82 49.79,184.51 49.99,185.15 50.19,184.85 50.39,185.16 50.59,185.26 50.79,184.93 50.99,184.79 51.19,185.19 51.39,185.17 51.59,184.85 51.79,185.44 51.99,185.69 52.19,184.96 52.39,185.37 52.59,185.85 52.79,185.42 52.98,185.29 53.18,185.57 53.38,185.68 53.58,185.09 53.78,184.76 53.98,185.2 54.18,185.4 54.38,184.96 54.58,184.83 54.78,185.22 54.98,184.9 55.18,184.71 55.38,185.19 55.58,185.42 55.78,184.97 55.98,185.01 56.18,184.68 56.37,185.6 56.57,185.36 56.77,185.43 56.97,185.78 57.17,185.06 57.37,184.9 57.57,185.39 57.77,184.57 57.97,184.79 58.17,184.87 58.37,184.95 58.57,184.74 58.77,185.62 58.97,184.87 59.17,184.87 59.37,185.79 59.57,184.97 59.77,185.2 59.96,184.8 60.16,185.28 60.36,185.11 60.56,184.97 60.76,185.44 60.96,184.87 61.16,185.15 61.36,184.92 61.56,185.31 61.76,184.69 61.96,184.87 62.16,185.17 62.36,184.86 62.56,184.62 62.76,184.41 62.96,185.71 63.16,184.76 63.35,184.92 63.55,185.14 63.75,185.49 63.95,184.62 64.15,185.59 64.35,184.88 64.55,184.6 64.75,185.72 64.95,185.22 65.15,185.61 65.35,185.01 65.55,184.52 65.75,184.32 65.95,185.79 66.15,185.32 66.35,184.83 66.55,184.49 66.74,184.94 66.94,185.39 67.14,184.98 67.34,185.1 67.54,185.17 67.74,185.38 67.94,184.95 68.14,184.98 68.34,185.13 68.54,185.18 68.74,185.59 68.94,185.28 69.14,184.63 69.34,185.16 69.54,185.65 69.74,184.57 69.94,184.88 70.13,184.27 70.33,185.06 70.53,185.26 70.73,185.64 70.93,184.57 71.13,184.09 71.33,185.4 71.53,185.33 71.73,184.85 71.93,185.4 72.13,185.18 72.33,185.21 72.53,185 72.73,184.65 72.93,185.06 73.13,184.71 73.33,185.23 73.52,184.94 73.72,185.89 73.92,185.62 74.12,184.75 74.32,185.29 74.52,184.83 74.72,184.84 74.92,184.54 75.12,184.73 75.32,184.65 75.52,185.09 75.72,185.31 75.92,185.32 76.12,185.22 76.32,185.47 76.52,185.24 76.72,185.06 76.92,184.92 77.11,185.15 77.31,185.75 77.51,185.03 77.71,184.91 77.91,184.58 78.11,184.77 78.31,185.23 78.51,185.26 78.71,184.19 78.91,184.67 79.11,184.25 79.31,184.13 79.51,185.26 79.71,184.79 79.91,184.75 80.11,184.7 80.31,184.7 80.5,184.82 80.7,184.82 80.9,185.46 81.1,184.93 81.3,185.14 81.5,184.79 81.7,185.01 81.9,184.57 82.1,184.48 82.3,184.66 82.5,184.64 82.7,184.71 82.9,184.9 83.1,184.77 83.3,184.88 83.5,184.51 83.7,184.63 83.89,184.39 84.09,185.1 84.29,184.21 84.49,184.82 84.69,184.77 84.89,184.52 85.09,184.62 85.29,184.22 85.49,184.49 85.69,184.6 85.89,184.42 86.09,183.44 86.29,183.78 86.49,184.07 86.69,183.36 86.89,183.67 87.09,181.97 87.28,182.83 87.48,181.46 87.68,180.75 87.88,180.75 88.08,179.07 88.28,177.66 88.48,176.58 88.68,175.2 88.88,173.24 89.08,171.76 89.28,169.69 89.48,167.78 89.68,165.18 89.88,163.61 90.08,160.43 90.28,158.74 90.48,156.79 90.67,153.93 90.87,151.31 91.07,149.99 91.27,149.37 91.47,147.65 91.67,147.56 91.87,147.2 92.07,147.93 92.27,150.21 92.47,150.01 92.67,151.9 92.87,153.07 93.07,154.88 93.27,156.34 93.47,157.5 93.67,158.05 93.87,159.04 94.07,161.19 94.26,161.91 94.46,163.72 94.66,165.56 94.86,165.56 95.06,166.31 95.26,167.52 95.46,167.91 95.66,168.44 95.86,169.69 96.06,170.51 96.26,170.44 96.46,170.9 96.66,171.39 96.86,171.2 97.06,171.26 97.26,172.58 97.46,172.43 97.65,172.67 97.85,173.09 98.05,173.26 98.25,174.19 98.45,173.99 98.65,173.72 98.85,174.53 99.05,175.42 99.25,175.15 99.45,175.12 99.65,175.75 99.85,176.39 100.05,175.72 100.25,177.14 100.45,176.61 100.65,177.05 100.85,177.76 101.04,176.93 101.24,177.5 101.44,178.33 101.64,177.76 101.84,178.38 102.04,179.17 102.24,178.83 102.44,178.59 102.64,178.59 102.84,178.95 103.04,179.15 103.24,179.11 103.44,179.54 103.64,179.09 103.84,179.66 104.04,179.73 104.24,179.75 104.43,180.53 104.63,180.51 104.83,179.69 105.03,180.29 105.23,180.66 105.43,180.5 105.63,180.94 105.83,180.72 106.03,181.21 106.23,180.91 106.43,181.77 106.63,180.64 106.83,181.49 107.03,182.02 107.23,181.53 107.43,181.66 107.63,181.52 107.82,182.13 108.02,181.55 108.22,180.28 108.42,182.38 108.62,181.76 108.82,182.09 109.02,181.94 109.22,182.82 109.42,182.6 109.62,181.98 109.82,182.24 110.02,181.59 110.22,182.6 110.42,182.28 110.62,181.18 110.82,182.75 111.02,182.85 111.21,182.52 111.41,182.56 111.61,182.22 111.81,182.55 112.01,182.95 112.21,182.57 112.41,181.58 112.61,182.18 112.81,183.9 113.01,182.81 113.21,183.14 113.41,182.53 113.61,182.89 113.81,182.02 114.01,182.45 114.21,182.48 114.41,182.8 114.61,182.9 114.8,182.75 115,182.36 115.2,182.69 115.4,183.07 115.6,182.39 115.8,182.85 116,182.97 116.2,183.28 116.4,183.19 116.6,183.22 116.8,184.15 117,182.51 117.2,182.7 117.4,183.04 117.6,182.49 117.8,182.75 118,182.77 118.19,184 118.39,183.02 118.59,182.68 118.79,182.2 118.99,182.09 119.19,182.26 119.39,183.38 119.59,183.83 119.79,182.6 119.99,182.83 120.19,182.4 120.39,182.86 120.59,182.7 120.79,183.44 120.99,182.56 121.19,182.94 121.39,182.57 121.58,182.5 121.78,182.73 121.98,182.52 122.18,182.65 122.38,182.27 122.58,182.37 122.78,182.82 122.98,182.81 123.18,181.73 123.38,182.54 123.58,182.01 123.78,182.26 123.98,182.67 124.18,182.73 124.38,182.3 124.58,182.2 124.78,182 124.97,182.85 125.17,182.5 125.37,182.24 125.57,181.41 125.77,183.23 125.97,181.88 126.17,182.31 126.37,181.81 126.57,182.21 126.77,181.76 126.97,181.15 127.17,181.69 127.37,181.61 127.57,181.6 127.77,182.1 127.97,181.43 128.17,181.75 128.36,182 128.56,181.58 128.76,181.62 128.96,181.1 129.16,181.44 129.36,181.63 129.56,180.6 129.76,180.78 129.96,180.59 130.16,180.87 130.36,181.18 130.56,181.28 130.76,181.16 130.96,180.48 131.16,180.85 131.36,181.61 131.56,180.82 131.76,181.47 131.95,180.6 132.15,181.25 132.35,181.22 132.55,180.44 132.75,180.49 132.95,181.26 133.15,179.93 133.35,179.11 133.55,180.98 133.75,179.16 133.95,180.43 134.15,180.26 134.35,180.03 134.55,180.65 134.75,179.09 134.95,179.46 135.15,180.07 135.34,179.74 135.54,180.35 135.74,179.63 135.94,178.85 136.14,180.25 136.34,179.46 136.54,179.06 136.74,178.47 136.94,178.22 137.14,179.17 137.34,179.26 137.54,178.49 137.74,178.88 137.94,178.77 138.14,177.88 138.34,177.43 138.54,178.18 138.73,178.37 138.93,177.83 139.13,179.2 139.33,178 139.53,178.54 139.73,176.37 139.93,177.29 140.13,177.55 140.33,177.66 140.53,178.99 140.73,176.92 140.93,176.25 141.13,177.62 141.33,176.64 141.53,176.52 141.73,177.85 141.93,176.18 142.12,175.81 142.32,176.43 142.52,176.51 142.72,175.86 142.92,177.27 143.12,176.1 143.32,175.37 143.52,176.77 143.72,175.19 143.92,176.02 144.12,177.02 144.32,175.59 144.52,176.07 144.72,175.08 144.92,175.99 145.12,174.35 145.32,175.47 145.51,174.6 145.71,175.15 145.91,174.84 146.11,173.66 146.31,174.23 146.51,174.54 146.71,175.04 146.91,173.19 147.11,173.37 147.31,174.02 147.51,173.48 147.71,174.29 147.91,174.16 148.11,173.9 148.31,172.9 148.51,172.81 148.71,173.47 148.91,172.22 149.1,172.05 149.3,172.39 149.5,171.59 149.7,172.48 149.9,172.21 150.1,171.63 150.3,171.89 150.5,171.1 150.7,172.58 150.9,170.33 151.1,171.95 151.3,171.32 151.5,172.16 151.7,170.43 151.9,169.74 152.1,169.76 152.3,169.81 152.49,171.65 152.69,170.87 152.89,170.46 153.09,170.72 153.29,168.84 153.49,169.49 153.69,169.53 153.89,168.94 154.09,170.04 154.29,169.86 154.49,169.7 154.69,168.35 154.89,168.34 155.09,167.98 155.29,167.39 155.49,169.41 155.69,168.56 155.88,167.78 156.08,168.98 156.28,168.1 156.48,166.54 156.68,166.31 156.88,166.18 157.08,166.98 157.28,167.07 157.48,165.72 157.68,166.93 157.88,166.11 158.08,165.03 158.28,166.49 158.48,166.57 158.68,165.85 158.88,165.11 159.08,165.08 159.27,165.25 159.47,164.71 159.67,166.68 159.87,165.81 160.07,164.65 160.27,165.6 160.47,165.87 160.67,165.6 160.87,165.16 161.07,164.27 161.27,164.99 161.47,163.57 161.67,161.92 161.87,163.68 162.07,162.06 162.27,162.94 162.47,164.28 162.66,163.24 162.86,163.87 163.06,161.89 163.26,163.79 163.46,161.02 163.66,161.68 163.86,164.34 164.06,161.19 164.26,160.23 164.46,162.64 164.66,160.59 164.86,163.5 165.06,161.14 165.26,163.12 165.46,160.64 165.66,163.04 165.86,163.87 166.05,160.39 166.25,158.17 166.45,161.29 166.65,159.58 166.85,160.29 167.05,160.68 167.25,159.52 167.45,158.26 167.65,161.44 167.85,159.3 168.05,159.46 168.25,161.41 168.45,157.85 168.65,157.39 168.85,160.66 169.05,157.5 169.25,159.38 169.45,159.58 169.64,157.61 169.84,159.05 170.04,158.92 170.24,157.53 170.44,157.79 170.64,158.26 170.84,160.92 171.04,161.12 171.24,158 171.44,160.39 171.64,159.15 171.84,160.58 172.04,159.56 172.24,160.84 172.44,157.49 172.64,160.57 172.84,159.55 173.03,159.64 173.23,158.05 173.43,161.1 173.63,159.52 173.83,159.75 174.03,158.92 174.23,159.01 174.43,160.11 174.63,159.33 174.83,160.07 175.03,159.13 175.23,159.82 175.43,160.48 175.63,159.8 175.83,159.38 176.03,157.24 176.23,160.43 176.42,159.56 176.62,158.28 176.82,162.36 177.02,162.01 177.22,161.43 177.42,160.25 177.62,157.4 177.82,159.77 178.02,158.89 178.22,160.56 178.42,163.13 178.62,163.01 178.82,159.31 179.02,160.3 179.22,162.02 179.42,159.37 179.62,162.4 179.81,159.47 180.01,159.17 180.21,161.7 180.41,162.14 180.61,160.04 180.81,162.25 181.01,160.15 181.21,162.48 181.41,160.34 181.61,161.19 181.81,161.84 182.01,162.41 182.21,161.24 182.41,163.64 182.61,161.94 182.81,162.14 183.01,161.05 183.2,163.22 183.4,160.08 183.6,162.35 183.8,163.31 184,160.68 184.2,160.46 184.4,162.52 184.6,163.35 184.8,162.47 185,163.3 185.2,162.98 185.4,161.08 185.6,162.4 185.8,162.74 186,162.62 186.2,163.13 186.4,162.28 186.6,162.33 186.79,163.72 186.99,163.31 187.19,161.02 187.39,163.17 187.59,163.88 187.79,161.68 187.99,163.87 188.19,165.09 188.39,163.38 188.59,165.07 188.79,164.76 188.99,164.02 189.19,164.57 189.39,165.31 189.59,165.19 189.79,165.33 189.99,163.67 190.18,165.65 190.38,165.6 190.58,163.12 190.78,165.77 190.98,163.87 191.18,164.15 191.38,165.68 191.58,167.01 191.78,165.3 191.98,165.19 192.18,165.01 192.38,165.98 192.58,165 192.78,164.93 192.98,167.36 193.18,165.11 193.38,166.4 193.57,167.21 193.77,167.08 193.97,165.14 194.17,166.08 194.37,168.76 194.57,167.13 194.77,167.44 194.97,167.58 195.17,168 195.37,168.96 195.57,166.96 195.77,168.7 195.97,168.29 196.17,168.61 196.37,168.83 196.57,167.62 196.77,168.05 196.96,169.1 197.16,169.44 197.36,169.13 197.56,167.98 197.76,168.83 197.96,168.85 198.16,169.44 198.36,169.49 198.56,169.19 198.76,171.06 198.96,168.22 199.16,170.37 199.36,170.29 199.56,168.8 199.76,169.84 199.96,170.1 200.16,170.73 200.35,171.65 200.55,170.31 200.75,169.59 200.95,171.42 201.15,169.68 201.35,171.82 201.55,171.6 201.75,170.71 201.95,171.23 202.15,170.78 202.35,172.03 202.55,172.37 202.75,173.13 202.95,172.71 203.15,172.71 203.35,173.09 203.55,171.84 203.75,172.7 203.94,173.83 204.14,170.5 204.34,173.14 204.54,173.57 204.74,171.78 204.94,171.94 205.14,173.79 205.34,174.13 205.54,173.88 205.74,172.4 205.94,173.57 206.14,174.04 206.34,173.57 206.54,172.77 206.74,174.76 206.94,174.13 207.14,174.95 207.33,172.49 207.53,172.85 207.73,173.58 207.93,174.45 208.13,173.99 208.33,176.03 208.53,174.45 208.73,175.68 208.93,175.76 209.13,175.43 209.33,175.28 209.53,174.74 209.73,174.75 209.93,175.15 210.13,176.06 210.33,175.06 210.53,175.69 210.72,174.91 210.92,176.4 211.12,177.72 211.32,176.29 211.52,174.66 211.72,175.85 211.92,176.38 212.12,175.77 212.32,176.11 212.52,176.22 212.72,176.94 212.92,176.65 213.12,176.66 213.32,177.28 213.52,177.66 213.72,176.96 213.92,176.53 214.11,176.81 214.31,176.99 214.51,177.07 214.71,175.88 214.91,177.39 215.11,177 215.31,176.53 215.51,177.76 215.71,177.72 215.91,177.33 216.11,177.03 216.31,177.93 216.51,177.98 216.71,178.22 216.91,179.06 217.11,177.77 217.31,178.65 217.5,179.58 217.7,178.74 217.9,179.73 218.1,179.38 218.3,178.87 218.5,179.47 218.7,178.41 218.9,179.92 219.1,179.01 219.3,178.92 219.5,178.49 219.7,178.86 219.9,179.31 220.1,179.47 220.3,179.61 220.5,179.02 220.7,180.07 220.89,179.49 221.09,179.89 221.29,179.78 221.49,180.12 221.69,178.89 221.89,180.45 222.09,180.03 222.29,180.08 222.49,179.97 222.69,180.11 222.89,180.19 223.09,179.96 223.29,181.32 223.49,180.58 223.69,181.29 223.89,180.58 224.09,181.37 224.29,181.31 224.48,180.91 224.68,180.22 224.88,180.69 225.08,180.89 225.28,180.39 225.48,181.63 225.68,182.25 225.88,181.47 226.08,181.45 226.28,180.74 226.48,180.35 226.68,182.12 226.88,180.29 227.08,180.79 227.28,181.2 227.48,181.48 227.68,180.52 227.87,181.71 228.07,182.03 228.27,181.78 228.47,182.55 228.67,181.71 228.87,182.04 229.07,181.87 229.27,181.9 229.47,182.62 229.67,181.53 229.87,182.68 230.07,181.82 230.27,183.03 230.47,182.15" fill="none" stroke="#000000" stroke-width="1.2" stroke-linejoin="round" clip-path="url(#ca)"/>
<polyline points="47.8,185.11 48,184.55 48.2,184.71 48.4,184.72 48.6,184.24 48.8,185.76 49,185.45 49.2,185.82 49.4,185.17 49.59,184.57 49.79,185.12 49.99,184.84 50.19,186.14 50.39,185.03 50.59,185.6 50.79,184.15 50.99,184.63 51.19,184.6 51.39,185.14 51.59,184.78 51.79,184.75 51.99,185.3 52.19,185.38 52.39,185.17 52.59,185.44 52.79,185.43 52.98,185.26 53.18,185.5 53.38,184.7 53.58,185.97 53.78,184.66 53.98,185.45 54.18,185.4 54.38,185.84 54.58,185.19 54.78,185.24 54.98,185 55.18,185.4 55.38,185.06 55.58,184.13 55.78,184.89 55.98,185.42 56.18,184.59 56.37,185.18 56.57,184.79 56.77,184.78 56.97,185.32 57.17,186.15 57.37,185.29 57.57,184.81 57.77,185.31 57.97,184.87 58.17,184.58 58.37,185.4 58.57,184.44 58.77,184.23 58.97,184.52 59.17,184.48 59.37,184.51 59.57,183.89 59.77,185 59.96,185.1 60.16,184.78 60.36,185.59 60.56,185.94 60.76,185.58 60.96,184.9 61.16,184.85 61.36,185.93 61.56,186.12 61.76,185.27 61.96,185.2 62.16,185.13 62.36,184.74 62.56,184.44 62.76,184.98 62.96,184.77 63.16,185.69 63.35,185.73 63.55,184.97 63.75,184.74 63.95,184.71 64.15,184.78 64.35,184.67 64.55,184.66 64.75,186.04 64.95,185.49 65.15,184.85 65.35,184.77 65.55,185.91 65.75,184.46 65.95,185.33 66.15,185.22 66.35,184.94 66.55,184.69 66.74,185.86 66.94,184.55 67.14,185.05 67.34,185.5 67.54,185.23 67.74,186.26 67.94,185.43 68.14,184.98 68.34,185.46 68.54,185.26 68.74,185.16 68.94,185.05 69.14,184.52 69.34,185.09 69.54,185.21 69.74,184.78 69.94,183.95 70.13,185.25 70.33,184.79 70.53,185.91 70.73,184.33 70.93,184.7 71.13,184.33 71.33,185.08 71.53,185.61 71.73,184.57 71.93,184.64 72.13,185.51 72.33,185.83 72.53,184.79 72.73,185.12 72.93,183.61 73.13,185.35 73.33,185.3 73.52,185.07 73.72,185.91 73.92,185.48 74.12,184.11 74.32,185.06 74.52,185.31 74.72,185.66 74.92,184.66 75.12,184.61 75.32,184.82 75.52,185.16 75.72,184.77 75.92,184.72 76.12,185.29 76.32,184.57 76.52,186.05 76.72,185.59 76.92,185.04 77.11,184.93 77.31,185.48 77.51,184.66 77.71,184.25 77.91,184.57 78.11,184.67 78.31,184.33 78.51,184.54 78.71,185.36 78.91,184.83 79.11,184 79.31,185.3 79.51,184.63 79.71,184.85 79.91,185.1 80.11,185.13 80.31,184.5 80.5,184.35 80.7,184.33 80.9,185.25 81.1,184.58 81.3,184.2 81.5,183.83 81.7,183.94 81.9,183.81 82.1,183.62 82.3,183.72 82.5,184.56 82.7,184.03 82.9,184.4 83.1,185.25 83.3,184.8 83.5,182.67 83.7,184.35 83.89,184.89 84.09,183.9 84.29,182.65 84.49,183.41 84.69,183.04 84.89,183.28 85.09,183.03 85.29,182.11 85.49,182.15 85.69,182.37 85.89,181.51 86.09,181.01 86.29,181.23 86.49,180.34 86.69,179.58 86.89,179.13 87.09,176.9 87.28,176.19 87.48,174.66 87.68,173.13 87.88,170.32 88.08,165.55 88.28,163.64 88.48,158.53 88.68,154.37 88.88,148.52 89.08,142.64 89.28,137.32 89.48,130.21 89.68,122.79 89.88,115.41 90.08,108.07 90.28,100.92 90.48,92.92 90.67,85.51 90.87,80.08 91.07,75.96 91.27,70.38 91.47,67.31 91.67,64.64 91.87,62.65 92.07,67.45 92.27,70.42 92.47,74.9 92.67,78.3 92.87,82.85 93.07,85.32 93.27,91.16 93.47,96.59 93.67,98.95 93.87,106.24 94.07,108.59 94.26,112.46 94.46,116.54 94.66,120.62 94.86,123.63 95.06,126.62 95.26,128.3 95.46,132.99 95.66,133.7 95.86,135.11 96.06,137.39 96.26,139.89 96.46,140.22 96.66,141.97 96.86,142.16 97.06,142.97 97.26,145.09 97.46,147.62 97.65,147.48 97.85,149.03 98.05,148.93 98.25,149.22 98.45,151.11 98.65,150.87 98.85,152.12 99.05,153.54 99.25,155.43 99.45,155.53 99.65,157.35 99.85,156.48 100.05,157.84 100.25,157.75 100.45,159.17 100.65,161.3 100.85,160.3 101.04,160.77 101.24,160.94 101.44,163.24 101.64,163.81 101.84,163.76 102.04,165.04 102.24,165.79 102.44,166.15 102.64,164.36 102.84,166.89 103.04,167.62 103.24,167.75 103.44,167.94 103.64,167.6 103.84,168.26 104.04,168.78 104.24,169.65 104.43,169.99 104.63,170.86 104.83,171.77 105.03,169.99 105.23,171.86 105.43,171.32 105.63,172.46 105.83,172.65 106.03,173.01 106.23,174.06 106.43,173.58 106.63,173.6 106.83,173.61 107.03,174.09 107.23,174.04 107.43,174.74 107.63,175.17 107.82,176.58 108.02,175.97 108.22,174.96 108.42,176.03 108.62,175.85 108.82,176.66 109.02,177.13 109.22,175.72 109.42,176.91 109.62,176.43 109.82,177.18 110.02,177.84 110.22,179.16 110.42,177.95 110.62,179.08 110.82,179.62 111.02,177.74 111.21,178.18 111.41,178.37 111.61,178.86 111.81,179.04 112.01,178.9 112.21,179.18 112.41,179.34 112.61,179.07 112.81,181.05 113.01,179.2 113.21,180.19 113.41,179.42 113.61,179.33 113.81,180.61 114.01,179.74 114.21,179.84 114.41,180.8 114.61,180.78 114.8,180.49 115,181.94 115.2,180.97 115.4,180.67 115.6,181.11 115.8,181.85 116,181.2 116.2,180.14 116.4,180.3 116.6,181.21 116.8,181.67 117,181.25 117.2,181.28 117.4,181.73 117.6,181.57 117.8,181.04 118,180.9 118.19,182.93 118.39,180.94 118.59,181.47 118.79,180.9 118.99,181.62 119.19,181.37 119.39,180.68 119.59,183.46 119.79,180.75 119.99,181.61 120.19,182.83 120.39,183.35 120.59,181.58 120.79,182.4 120.99,181.19 121.19,181.67 121.39,181.89 121.58,181.21 121.78,181.7 121.98,181.37 122.18,181.32 122.38,181.63 122.58,181.34 122.78,181.34 122.98,182.65 123.18,181.98 123.38,181.88 123.58,182.03 123.78,182.77 123.98,182.13 124.18,181.56 124.38,181.64 124.58,180.8 124.78,182.11 124.97,181.98 125.17,182.05 125.37,181.88 125.57,182.04 125.77,182.81 125.97,181.4 126.17,180.98 126.37,180.87 126.57,182.23 126.77,181.64 126.97,180.33 127.17,181.54 127.37,181.22 127.57,181.51 127.77,180.74 127.97,180.73 128.17,179.82 128.36,180.96 128.56,180.96 128.76,181.99 128.96,181.44 129.16,181.59 129.36,181.31 129.56,181.91 129.76,180.22 129.96,181.66 130.16,180.75 130.36,181.71 130.56,180.61 130.76,179.7 130.96,181.29 131.16,180.46 131.36,180.7 131.56,180.42 131.76,180.27 131.95,180.93 132.15,180.57 132.35,180.8 132.55,180.9 132.75,181.12 132.95,179.58 133.15,180.68 133.35,179.67 133.55,179.68 133.75,180.69 133.95,179.22 134.15,180.48 134.35,179.38 134.55,178.74 134.75,180.19 134.95,180.28 135.15,180.22 135.34,177.88 135.54,179.69 135.74,180.25 135.94,178.71 136.14,179.35 136.34,179.17 136.54,179.79 136.74,180.61 136.94,179.46 137.14,179.62 137.34,179.96 137.54,179.5 137.74,179.32 137.94,177.96 138.14,177.95 138.34,178.01 138.54,178.71 138.73,179.17 138.93,177.93 139.13,177.72 139.33,177.23 139.53,177.91 139.73,177.9 139.93,177.48 140.13,178.34 140.33,178.16 140.53,176.96 140.73,178.33 140.93,177.33 141.13,176.57 141.33,176.89 141.53,176.65 141.73,177.76 141.93,176.89 142.12,176.9 142.32,176.11 142.52,176.16 142.72,176.36 142.92,174.76 143.12,175.74 143.32,176.31 143.52,176.47 143.72,175.89 143.92,176.23 144.12,174.31 144.32,175.07 144.52,175.69 144.72,175.87 144.92,176.11 145.12,175.33 145.32,173.88 145.51,174.16 145.71,174.8 145.91,174.52 146.11,176.12 146.31,173.76 146.51,174.48 146.71,172.98 146.91,174.21 147.11,174.36 147.31,173.62 147.51,174.25 147.71,172.38 147.91,173.19 148.11,172.99 148.31,172.89 148.51,173.38 148.71,172.5 148.91,172.65 149.1,171.08 149.3,172.5 149.5,172.08 149.7,172.71 149.9,172.5 150.1,172.3 150.3,170.68 150.5,171.67 150.7,170.69 150.9,171.72 151.1,171.68 151.3,173.03 151.5,170.26 151.7,168.94 151.9,171 152.1,169.25 152.3,169.67 152.49,171.03 152.69,169.47 152.89,170.97 153.09,170.24 153.29,168.58 153.49,169.5 153.69,170.69 153.89,167.94 154.09,170.34 154.29,169.25 154.49,169.29 154.69,168.96 154.89,169.53 155.09,170.2 155.29,166.44 155.49,169.2 155.69,169 155.88,170.49 156.08,167.69 156.28,166.27 156.48,166 156.68,164.39 156.88,165.58 157.08,166.6 157.28,166.87 157.48,165.19 157.68,166.64 157.88,166.23 158.08,167.36 158.28,166.05 158.48,163.82 158.68,165.94 158.88,165.27 159.08,168.27 159.27,163.91 159.47,164.86 159.67,163.54 159.87,164.72 160.07,165.83 160.27,166.28 160.47,164 160.67,164.47 160.87,165.43 161.07,164.24 161.27,164.77 161.47,163.05 161.67,164.25 161.87,165.08 162.07,163.6 162.27,164.04 162.47,161.48 162.66,163.67 162.86,164.57 163.06,162.93 163.26,163.04 163.46,162.28 163.66,162.22 163.86,163.62 164.06,162.3 164.26,162.25 164.46,163.48 164.66,162.59 164.86,161.51 165.06,163.63 165.26,162.89 165.46,162.01 165.66,161.43 165.86,160.57 166.05,162.82 166.25,160.62 166.45,160.11 166.65,158.83 166.85,161.23 167.05,161.77 167.25,162.47 167.45,159.71 167.65,158.67 167.85,161.12 168.05,159.58 168.25,158.95 168.45,158.74 168.65,160.41 168.85,158.98 169.05,159.8 169.25,160.9 169.45,159.26 169.64,159.08 169.84,160.77 170.04,158.9 170.24,156.86 170.44,161.42 170.64,158.55 170.84,158.27 171.04,159.4 171.24,159.05 171.44,159.83 171.64,157.73 171.84,160.74 172.04,159.72 172.24,162.09 172.44,159.16 172.64,159.12 172.84,161.81 173.03,160.79 173.23,159.06 173.43,160.35 173.63,161.32 173.83,163.03 174.03,159.36 174.23,157.33 174.43,160.48 174.63,159.36 174.83,159.41 175.03,160.1 175.23,159.9 175.43,159.92 175.63,161.23 175.83,156.93 176.03,156.68 176.23,159.83 176.42,157.98 176.62,161.38 176.82,160.66 177.02,158.97 177.22,161.94 177.42,162.18 177.62,160.13 177.82,163.15 178.02,158.48 178.22,159.77 178.42,160.47 178.62,159.98 178.82,162.04 179.02,162.13 179.22,159.95 179.42,159.88 179.62,160.94 179.81,161.25 180.01,161.93 180.21,159.57 180.41,163.25 180.61,162.53 180.81,162.2 181.01,163.5 181.21,163.33 181.41,163.03 181.61,160.57 181.81,159.67 182.01,161.55 182.21,164.06 182.41,162.89 182.61,162.39 182.81,162.64 183.01,162.84 183.2,161.85 183.4,164.93 183.6,163.35 183.8,162.48 184,161.96 184.2,162.57 184.4,162.98 184.6,163.25 184.8,163.98 185,163.16 185.2,163.6 185.4,164.29 185.6,162.12 185.8,162.23 186,164.17 186.2,163.1 186.4,162.52 186.6,163.71 186.79,163.98 186.99,163.65 187.19,166.24 187.39,166.08 187.59,163.92 187.79,164.31 187.99,163.16 188.19,165.41 188.39,163.69 188.59,163.84 188.79,162.92 188.99,166.17 189.19,165.77 189.39,165.17 189.59,165.29 189.79,166.81 189.99,166.44 190.18,167.37 190.38,163.47 190.58,166.22 190.78,166.26 190.98,167.04 191.18,166.45 191.38,165.73 191.58,167.07 191.78,166.85 191.98,164.59 192.18,166.06 192.38,166.91 192.58,167.73 192.78,167.42 192.98,168.31 193.18,167.34 193.38,168.46 193.57,168.64 193.77,168.42 193.97,169.23 194.17,168.03 194.37,165.74 194.57,169.12 194.77,170.31 194.97,167.74 195.17,168.95 195.37,166.94 195.57,168.7 195.77,168.27 195.97,170.12 196.17,171.06 196.37,169.76 196.57,169.03 196.77,170.68 196.96,171.53 197.16,170.66 197.36,170.63 197.56,170.63 197.76,170.47 197.96,168.22 198.16,170.65 198.36,171.28 198.56,171.96 198.76,170.26 198.96,172.67 199.16,169.89 199.36,171.39 199.56,172.93 199.76,171.45 199.96,171.85 200.16,170.71 200.35,173.37 200.55,171.9 200.75,172.22 200.95,171.47 201.15,173.48 201.35,173.26 201.55,170.87 201.75,172.27 201.95,174.23 202.15,172.71 202.35,173.83 202.55,173.85 202.75,174.43 202.95,172.58 203.15,174.04 203.35,173.5 203.55,173.72 203.75,175.23 203.94,174.65 204.14,173.45 204.34,175.58 204.54,174.12 204.74,174.53 204.94,173.99 205.14,174.07 205.34,174.06 205.54,174.81 205.74,174.75 205.94,175.66 206.14,175.63 206.34,174.53 206.54,175.87 206.74,174.63 206.94,174.76 207.14,176.34 207.33,175.32 207.53,176.55 207.73,175.71 207.93,176.71 208.13,175.91 208.33,176.14 208.53,177.21 208.73,174.83 208.93,175.8 209.13,177.93 209.33,176.48 209.53,177.18 209.73,175.33 209.93,177.08 210.13,176.82 210.33,177.36 210.53,176.82 210.72,177.81 210.92,178.18 211.12,177.96 211.32,177.99 211.52,177.28 211.72,177.78 211.92,178.26 212.12,178.32 212.32,178.79 212.52,178.09 212.72,179.78 212.92,178.52 213.12,177.56 213.32,178.79 213.52,179.08 213.72,178.65 213.92,179.44 214.11,179.4 214.31,178.43 214.51,179.46 214.71,177.67 214.91,178.77 215.11,179.31 215.31,179.75 215.51,179.57 215.71,181.07 215.91,179.36 216.11,178.98 216.31,179.28 216.51,180.06 216.71,179.4 216.91,179.45 217.11,180.06 217.31,179.8 217.5,179.39 217.7,179.86 217.9,180.5 218.1,180.3 218.3,180.27 218.5,181.53 218.7,180.42 218.9,180.66 219.1,182.09 219.3,181.85 219.5,179.56 219.7,180.75 219.9,179.99 220.1,181.19 220.3,179.99 220.5,180.69 220.7,181.57 220.89,181 221.09,180.21 221.29,179.73 221.49,181.01 221.69,181.69 221.89,182.02 222.09,181.07 222.29,180.86 222.49,181.52 222.69,181.74 222.89,181.19 223.09,181.46 223.29,181.57 223.49,182.84 223.69,182.13 223.89,180.77 224.09,182.02 224.29,180.53 224.48,181.87 224.68,182.33 224.88,182.02 225.08,181.87 225.28,182.74 225.48,182.18 225.68,182.64 225.88,181.52 226.08,182.75 226.28,182.44 226.48,183.48 226.68,183.43 226.88,182.69 227.08,183.23 227.28,182.89 227.48,182.61 227.68,182.45 227.87,183.69 228.07,182.98 228.27,182.51 228.47,183.35 228.67,183.77 228.87,183.43 229.07,182.07 229.27,183.07 229.47,182.19 229.67,183.34 229.87,182.48 230.07,184.08 230.27,183.4 230.47,183.23" fill="none" stroke="#ff0d0d" stroke-width="1.2" stroke-linejoin="round" clip-path="url(#ca)"/>
<polyline points="47.8,184.41 48,186.3 48.2,184.74 48.4,185.08 48.6,184.6 48.8,184.96 49,184.41 49.2,185.1 49.4,185.31 49.59,184.89 49.79,184.94 49.99,185.25 50.19,185.21 50.39,184.83 50.59,184.84 50.79,185.3 50.99,185.25 51.19,185.81 51.39,184.46 51.59,185.2 51.79,184.6 51.99,184.95 52.19,184.36 52.39,184.52 52.59,184.99 52.79,184.54 52.98,185.48 53.18,184.63 53.38,185.68 53.58,184.98 53.78,184.7 53.98,185.02 54.18,185.25 54.38,185.42 54.58,185.24 54.78,184.71 54.98,184.77 55.18,185.21 55.38,185.59 55.58,184.85 55.78,185.67 55.98,185.32 56.18,185.39 56.37,184.82 56.57,185.02 56.77,184.93 56.97,185.01 57.17,185.37 57.37,184.9 57.57,184.57 57.77,185.12 57.97,184.87 58.17,185.16 58.37,184.71 58.57,184.85 58.77,184.77 58.97,184.98 59.17,184.48 59.37,185.25 59.57,185.24 59.77,185.34 59.96,184.87 60.16,185.35 60.36,185.36 60.56,184.83 60.76,184.66 60.96,184.89 61.16,186.14 61.36,185.48 61.56,185.52 61.76,185.57 61.96,185.27 62.16,184.41 62.36,185.23 62.56,185.39 62.76,184.84 62.96,185.08 63.16,185.06 63.35,185.37 63.55,185.11 63.75,184.94 63.95,185.85 64.15,185.73 64.35,184.69 64.55,184.78 64.75,185.3 64.95,185.5 65.15,185.18 65.35,185.57 65.55,185.24 65.75,184.47 65.95,185.06 66.15,184.66 66.35,185.19 66.55,184.96 66.74,184.57 66.94,185.62 67.14,185.24 67.34,185.17 67.54,185 67.74,184.51 67.94,184.84 68.14,185.68 68.34,185.21 68.54,185.45 68.74,185.46 68.94,184.32 69.14,185.51 69.34,185.01 69.54,185.38 69.74,184.77 69.94,184.97 70.13,185.05 70.33,185.13 70.53,184.66 70.73,185.46 70.93,185.38 71.13,185.53 71.33,184.58 71.53,185.21 71.73,185.5 71.93,185.26 72.13,184.13 72.33,185.14 72.53,184.77 72.73,184.91 72.93,185.1 73.13,185.36 73.33,185.22 73.52,185.23 73.72,185.94 73.92,184.09 74.12,184.73 74.32,185.04 74.52,185.16 74.72,185.39 74.92,184.71 75.12,185.15 75.32,184.89 75.52,185.61 75.72,184.93 75.92,184.3 76.12,185.18 76.32,184.76 76.52,185.05 76.72,184.63 76.92,184.65 77.11,185.03 77.31,185.27 77.51,184.94 77.71,185.03 77.91,185.28 78.11,184.86 78.31,184.87 78.51,185.37 78.71,185.07 78.91,183.89 79.11,184.7 79.31,184.97 79.51,184.03 79.71,185.17 79.91,185.95 80.11,185.72 80.31,185.57 80.5,184.87 80.7,184.59 80.9,185.79 81.1,184.52 81.3,185.41 81.5,184.83 81.7,184.74 81.9,184.74 82.1,184.89 82.3,184.82 82.5,185.31 82.7,184.75 82.9,184.47 83.1,184.47 83.3,183.8 83.5,184.38 83.7,184.5 83.89,184.12 84.09,184.65 84.29,185.22 84.49,185.56 84.69,184.17 84.89,184.41 85.09,184.27 85.29,184.68 85.49,184.36 85.69,183.7 85.89,184.22 86.09,184.69 86.29,184.3 86.49,183.44 86.69,184.21 86.89,184.56 87.09,184.16 87.28,183.42 87.48,182.13 87.68,181.88 87.88,181.58 88.08,181.04 88.28,179.69 88.48,178.69 88.68,177.7 88.88,176.27 89.08,175.06 89.28,172.39 89.48,172.54 89.68,169.68 89.88,168.38 90.08,165.75 90.28,164.36 90.48,162.3 90.67,160.55 90.87,159.19 91.07,157.47 91.27,157.56 91.47,155.55 91.67,155.58 91.87,155.13 92.07,155.21 92.27,156.21 92.47,156.69 92.67,159.76 92.87,160.18 93.07,160.37 93.27,162.52 93.47,163.21 93.67,163.45 93.87,164.95 94.07,166.84 94.26,167.18 94.46,168.01 94.66,169.11 94.86,169.96 95.06,170.55 95.26,171.91 95.46,171.76 95.66,172.76 95.86,172.63 96.06,173.05 96.26,174.02 96.46,173.74 96.66,174.19 96.86,174.68 97.06,174.66 97.26,175.4 97.46,175.66 97.65,175.78 97.85,176.09 98.05,175.84 98.25,177.56 98.45,176.93 98.65,177.87 98.85,177.47 99.05,177.36 99.25,177.68 99.45,177.48 99.65,177.95 99.85,179.41 100.05,178.93 100.25,178.01 100.45,178.19 100.65,178.96 100.85,179.81 101.04,178.44 101.24,180.35 101.44,179.52 101.64,179.82 101.84,179.85 102.04,180.56 102.24,180.39 102.44,179.92 102.64,180.69 102.84,181.18 103.04,180.75 103.24,180.83 103.44,181.03 103.64,181.41 103.84,180.98 104.04,181.36 104.24,181.89 104.43,181.43 104.63,181.62 104.83,181.65 105.03,182.48 105.23,182.2 105.43,181.79 105.63,181.69 105.83,182 106.03,182.16 106.23,182.01 106.43,181.98 106.63,181.74 106.83,182.32 107.03,182.8 107.23,182.45 107.43,183.48 107.63,182.75 107.82,183.01 108.02,182.9 108.22,182.75 108.42,182.98 108.62,183.63 108.82,183.25 109.02,183.48 109.22,183.22 109.42,183.12 109.62,183.69 109.82,183.07 110.02,182.89 110.22,183.55 110.42,183.2 110.62,184.11 110.82,183.78 111.02,183.23 111.21,184.34 111.41,183.88 111.61,184.07 111.81,183.3 112.01,183.34 112.21,184.06 112.41,183.8 112.61,184.91 112.81,183.58 113.01,183.8 113.21,183.45 113.41,184.93 113.61,183.89 113.81,184.19 114.01,185.1 114.21,184.37 114.41,184.15 114.61,183.83 114.8,184.09 115,184.39 115.2,184.04 115.4,184.27 115.6,184.5 115.8,184.67 116,184.23 116.2,184.24 116.4,183.6 116.6,184.51 116.8,183.73 117,184.23 117.2,183.92 117.4,184.75 117.6,184.76 117.8,184.55 118,184.09 118.19,184.38 118.39,184.17 118.59,184.35 118.79,184.08 118.99,184.42 119.19,184.71 119.39,184.32 119.59,184.49 119.79,183.85 119.99,184.61 120.19,184.51 120.39,184.68 120.59,184.12 120.79,184.24 120.99,184.33 121.19,185.08 121.39,185.2 121.58,184.51 121.78,184.33 121.98,184.04 122.18,185.33 122.38,184.7 122.58,185.3 122.78,185.02 122.98,184.73 123.18,184.27 123.38,184.86 123.58,184.94 123.78,184.79 123.98,184.17 124.18,183.72 124.38,185.28 124.58,184.79 124.78,184.85 124.97,184.22 125.17,184.51 125.37,184.08 125.57,185.09 125.77,184.69 125.97,184.87 126.17,185.13 126.37,184.76 126.57,185.16 126.77,183.84 126.97,184.54 127.17,185.1 127.37,184.94 127.57,184.02 127.77,184.89 127.97,184.43 128.17,184.47 128.36,184.27 128.56,184.45 128.76,184.78 128.96,184.93 129.16,185.4 129.36,184.72 129.56,184.64 129.76,184.84 129.96,184.75 130.16,185.17 130.36,183.83 130.56,184.89 130.76,185.1 130.96,184.92 131.16,184.75 131.36,184.39 131.56,185.64 131.76,184.47 131.95,184.92 132.15,184.74 132.35,184.27 132.55,184.36 132.75,184.93 132.95,184.7 133.15,183.91 133.35,184.11 133.55,184.31 133.75,184.64 133.95,184.26 134.15,184.48 134.35,184.86 134.55,185.03 134.75,184.42 134.95,184.47 135.15,184.14 135.34,184.81 135.54,184.05 135.74,184.76 135.94,184.1 136.14,184.38 136.34,184.83 136.54,184.97 136.74,184.64 136.94,184.69 137.14,184.2 137.34,184.85 137.54,185.16 137.74,184.57 137.94,183.79 138.14,183.9 138.34,184.8 138.54,184.65 138.73,184.41 138.93,184.8 139.13,184.63 139.33,184.63 139.53,184.94 139.73,184.76 139.93,184.7 140.13,184.4 140.33,184.97 140.53,184.44 140.73,184.88 140.93,184.8 141.13,184.92 141.33,182.84 141.53,183.95 141.73,183.91 141.93,184.11 142.12,184.53 142.32,184.4 142.52,184.31 142.72,184.24 142.92,184.17 143.12,183.78 143.32,185.6 143.52,184.62 143.72,184.11 143.92,184.52 144.12,184.43 144.32,183.76 144.52,184.28 144.72,183.62 144.92,184.36 145.12,184.24 145.32,184.76 145.51,185.13 145.71,184.48 145.91,184.28 146.11,184.44 146.31,184.84 146.51,184.01 146.71,184.25 146.91,184.26 147.11,184.58 147.31,183.57 147.51,183.64 147.71,184.11 147.91,184.28 148.11,184.12 148.31,183.51 148.51,183.04 148.71,184.19 148.91,184.36 149.1,184.93 149.3,183.01 149.5,184.62 149.7,183.79 149.9,183.94 150.1,183.59 150.3,184.49 150.5,184.79 150.7,184.05 150.9,183.93 151.1,183.62 151.3,184.79 151.5,184.27 151.7,184.18 151.9,184.63 152.1,184.12 152.3,183.71 152.49,184.05 152.69,184.63 152.89,183.88 153.09,183.65 153.29,183.78 153.49,183.66 153.69,184.68 153.89,183.78 154.09,183.72 154.29,184.12 154.49,183.98 154.69,184.27 154.89,183.42 155.09,184.05 155.29,184.32 155.49,183.83 155.69,183.85 155.88,183.61 156.08,184.24 156.28,184.16 156.48,183.71 156.68,182.91 156.88,183.65 157.08,184.42 157.28,183.76 157.48,184.16 157.68,184.6 157.88,184.1 158.08,184.05 158.28,183.62 158.48,183.22 158.68,183.29 158.88,183.43 159.08,183.95 159.27,183.69 159.47,183.76 159.67,183.14 159.87,184.01 160.07,183.96 160.27,183.08 160.47,183.46 160.67,183.9 160.87,183.63 161.07,183.62 161.27,183.6 161.47,183.33 161.67,183.51 161.87,183.74 162.07,183.87 162.27,184.39 162.47,183.83 162.66,183.14 162.86,183.53 163.06,183.91 163.26,183.72 163.46,183.98 163.66,183.48 163.86,182.74 164.06,182.82 164.26,183.08 164.46,183.25 164.66,183.68 164.86,184.12 165.06,183.57 165.26,183.77 165.46,183.21 165.66,183.5 165.86,183.81 166.05,183.37 166.25,182.3 166.45,183.96 166.65,183.07 166.85,183.31 167.05,183.61 167.25,183.89 167.45,183.56 167.65,183.47 167.85,183.23 168.05,183.26 168.25,183.43 168.45,183.87 168.65,183.44 168.85,183.78 169.05,184.03 169.25,183.19 169.45,183.87 169.64,184.1 169.84,183.55 170.04,184.42 170.24,183.62 170.44,183.4 170.64,183.78 170.84,183.5 171.04,182.67 171.24,182.99 171.44,183.21 171.64,183.35 171.84,183.84 172.04,183.68 172.24,183.75 172.44,183.62 172.64,183.58 172.84,183.99 173.03,182.95 173.23,184.09 173.43,183.49 173.63,183.21 173.83,183.67 174.03,183.95 174.23,183.66 174.43,182.84 174.63,183.41 174.83,183.81 175.03,183.44 175.23,183.78 175.43,184.5 175.63,183.6 175.83,183.27 176.03,183.22 176.23,183.75 176.42,184.33 176.62,183.22 176.82,183.81 177.02,183.43 177.22,183.27 177.42,183.62 177.62,183.79 177.82,184.04 178.02,183.97 178.22,183.77 178.42,183.99 178.62,183.65 178.82,184.64 179.02,184.25 179.22,183.84 179.42,184.13 179.62,184.07 179.81,184.33 180.01,183.57 180.21,183.17 180.41,184.3 180.61,183.39 180.81,184.5 181.01,183.83 181.21,184.75 181.41,183.7 181.61,183.91 181.81,183.87 182.01,183.42 182.21,183.69 182.41,183.96 182.61,184.3 182.81,183.95 183.01,184.27 183.2,184.16 183.4,183.37 183.6,183.63 183.8,183.89 184,183.75 184.2,184.63 184.4,183.99 184.6,184.75 184.8,184.33 185,183.91 185.2,183.91 185.4,183.79 185.6,184.02 185.8,184.08 186,184.11 186.2,183.53 186.4,183.58 186.6,184.74 186.79,184.09 186.99,183.62 187.19,184.27 187.39,184.08 187.59,184.43 187.79,184.69 187.99,184.15 188.19,184.38 188.39,184.29 188.59,184.83 188.79,184.72 188.99,184.31 189.19,184.45 189.39,184.05 189.59,184.72 189.79,184.01 189.99,184.07 190.18,184.28 190.38,184.06 190.58,184.37 190.78,184.43 190.98,184.37 191.18,184.89 191.38,184.39 191.58,184.06 191.78,185.05 191.98,184.13 192.18,184.67 192.38,184.57 192.58,184.4 192.78,184.34 192.98,183.89 193.18,184.52 193.38,183.77 193.57,184.46 193.77,184.28 193.97,184.21 194.17,184.76 194.37,184.95 194.57,184.46 194.77,184.23 194.97,184.17 195.17,184.67 195.37,183.82 195.57,184.59 195.77,184.81 195.97,184.07 196.17,184.05 196.37,184.93 196.57,184.22 196.77,185.06 196.96,184.54 197.16,183.65 197.36,184.05 197.56,184.28 197.76,184.31 197.96,184.91 198.16,184.45 198.36,184.41 198.56,185 198.76,184.51 198.96,184.38 199.16,184.52 199.36,184.44 199.56,184.71 199.76,185.07 199.96,184.62 200.16,185.4 200.35,184.93 200.55,184.21 200.75,183.94 200.95,184.5 201.15,185.62 201.35,184.14 201.55,184.46 201.75,184.76 201.95,184.39 202.15,184.47 202.35,185.17 202.55,185.22 202.75,184.3 202.95,185.62 203.15,184.48 203.35,184.6 203.55,184.34 203.75,184.04 203.94,184.21 204.14,184.13 204.34,184.42 204.54,184.55 204.74,184.33 204.94,184.76 205.14,185.12 205.34,184.8 205.54,185.41 205.74,185 205.94,183.97 206.14,184.59 206.34,184.86 206.54,185.04 206.74,185.5 206.94,185.02 207.14,185.12 207.33,184.82 207.53,184.8 207.73,184.86 207.93,185.59 208.13,184.27 208.33,184.67 208.53,184.85 208.73,184.98 208.93,184.69 209.13,184.38 209.33,184.63 209.53,185.33 209.73,185.37 209.93,185.81 210.13,184.84 210.33,184.62 210.53,184.43 210.72,184.86 210.92,184.59 211.12,185.27 211.32,184.72 211.52,184.97 211.72,185.19 211.92,185.59 212.12,184.49 212.32,185.82 212.52,184.7 212.72,185.26 212.92,184.72 213.12,185.17 213.32,184.67 213.52,185.05 213.72,185.37 213.92,185.17 214.11,185.6 214.31,184.87 214.51,184.57 214.71,184.82 214.91,184.94 215.11,184.48 215.31,185.44 215.51,184.77 215.71,184.99 215.91,185.18 216.11,184.78 216.31,185.44 216.51,185.05 216.71,184.87 216.91,185.46 217.11,185.1 217.31,184.81 217.5,184.64 217.7,185.38 217.9,184.67 218.1,185.13 218.3,184.99 218.5,185.24 218.7,184.72 218.9,185.3 219.1,184.92 219.3,184.88 219.5,184.74 219.7,185.44 219.9,184.74 220.1,185.02 220.3,184.48 220.5,185.17 220.7,185.26 220.89,185.07 221.09,185.17 221.29,185.11 221.49,185.54 221.69,185.86 221.89,185.62 222.09,185.28 222.29,184.89 222.49,185.18 222.69,185.43 222.89,185.12 223.09,185.04 223.29,183.99 223.49,184.57 223.69,184.99 223.89,185.63 224.09,185.14 224.29,185.19 224.48,184.85 224.68,184.25 224.88,185.1 225.08,185.83 225.28,185.12 225.48,185.72 225.68,184.75 225.88,184.65 226.08,184.95 226.28,185.65 226.48,185.15 226.68,184.61 226.88,185.47 227.08,185.31 227.28,184.98 227.48,184.89 227.68,185.05 227.87,184.95 228.07,185 228.27,185.31 228.47,185.12 228.67,184.98 228.87,185.51 229.07,185.01 229.27,185.05 229.47,184.91 229.67,184.95 229.87,185.49 230.07,185.57 230.27,184.99 230.47,185.15" fill="none" stroke="#12ee12" stroke-width="1.2" stroke-linejoin="round" clip-path="url(#ca)"/>
<polyline points="47.8,184.84 48,185.49 48.2,185.72 48.4,186.24 48.6,185.25 48.8,184.63 49,185.1 49.2,184.91 49.4,184.72 49.59,185.45 49.79,184.09 49.99,185.45 50.19,184.97 50.39,184.05 50.59,185.15 50.79,185.07 50.99,185.31 51.19,184.98 51.39,185.93 51.59,185.36 51.79,184.46 51.99,185.03 52.19,185.2 52.39,184.97 52.59,184.95 52.79,185.05 52.98,184.89 53.18,185.75 53.38,184.88 53.58,185.37 53.78,184.81 53.98,185.12 54.18,185.5 54.38,185.14 54.58,185.5 54.78,184.72 54.98,185.12 55.18,184.78 55.38,185.54 55.58,184.49 55.78,185.23 55.98,184.58 56.18,184.78 56.37,185.53 56.57,184.99 56.77,185.32 56.97,184.95 57.17,184.56 57.37,184.84 57.57,184.7 57.77,185.56 57.97,185.03 58.17,184.97 58.37,184.69 58.57,185.35 58.77,184.89 58.97,184.94 59.17,185.7 59.37,185.51 59.57,184.94 59.77,185.56 59.96,185.58 60.16,184.76 60.36,185 60.56,185.2 60.76,185.07 60.96,185.27 61.16,185.32 61.36,185.29 61.56,184.96 61.76,184.6 61.96,185.29 62.16,185.14 62.36,185.19 62.56,185.6 62.76,185.01 62.96,184.78 63.16,185.43 63.35,184.79 63.55,185.33 63.75,184.67 63.95,184.64 64.15,185.26 64.35,185.88 64.55,185.24 64.75,185.65 64.95,185.62 65.15,185.21 65.35,184.58 65.55,185.14 65.75,185.19 65.95,185.82 66.15,185.34 66.35,185.65 66.55,184.91 66.74,185.31 66.94,185.13 67.14,185.11 67.34,185.18 67.54,184.74 67.74,184.92 67.94,185.23 68.14,185.05 68.34,184.89 68.54,184.58 68.74,185.06 68.94,184.55 69.14,185.34 69.34,185.2 69.54,185.68 69.74,184.79 69.94,185.51 70.13,185.51 70.33,184.78 70.53,185.31 70.73,185.4 70.93,184.74 71.13,185.18 71.33,184.75 71.53,185.26 71.73,184.83 71.93,184.69 72.13,185.07 72.33,184.41 72.53,185.26 72.73,185.19 72.93,185.08 73.13,184.72 73.33,185.22 73.52,185.27 73.72,185.01 73.92,184.62 74.12,185.27 74.32,185.6 74.52,185.16 74.72,184.86 74.92,185.31 75.12,185.06 75.32,185.83 75.52,185.1 75.72,185.06 75.92,184.86 76.12,184.98 76.32,184.81 76.52,185.49 76.72,184.85 76.92,185.74 77.11,185.33 77.31,184.68 77.51,184.77 77.71,185.82 77.91,184.88 78.11,185.27 78.31,185.4 78.51,185.02 78.71,185.05 78.91,184.56 79.11,185.66 79.31,185.27 79.51,185.16 79.71,185.81 79.91,184.65 80.11,184.42 80.31,185.34 80.5,184.95 80.7,185.2 80.9,185 81.1,185.36 81.3,184.78 81.5,185.55 81.7,184.57 81.9,184.96 82.1,184.16 82.3,185.74 82.5,185.13 82.7,185.59 82.9,185.15 83.1,184.93 83.3,185.45 83.5,185.65 83.7,185.76 83.89,185.01 84.09,184.6 84.29,184.64 84.49,185.08 84.69,185.46 84.89,185.23 85.09,185.66 85.29,185.68 85.49,184.65 85.69,185.16 85.89,184.92 86.09,185.12 86.29,184.47 86.49,184.39 86.69,185.19 86.89,184.96 87.09,185 87.28,184.11 87.48,184 87.68,184.44 87.88,183.22 88.08,183.87 88.28,184.08 88.48,184.08 88.68,182.97 88.88,182.38 89.08,182.29 89.28,181.42 89.48,180.57 89.68,180.54 89.88,179.62 90.08,178.74 90.28,178.69 90.48,178.63 90.67,177.76 90.87,177.32 91.07,176.33 91.27,177.17 91.47,177.49 91.67,176.67 91.87,176.65 92.07,176.97 92.27,176.55 92.47,176.66 92.67,176.28 92.87,177.14 93.07,177.11 93.27,176.85 93.47,177.09 93.67,176.4 93.87,176.75 94.07,177.07 94.26,176.51 94.46,177.03 94.66,176.93 94.86,177.12 95.06,177.64 95.26,177.77 95.46,177.84 95.66,178.44 95.86,178.28 96.06,177.95 96.26,178.34 96.46,179.02 96.66,177.83 96.86,179.41 97.06,178.91 97.26,179.05 97.46,179.01 97.65,180.07 97.85,179.89 98.05,180.17 98.25,179.81 98.45,180.3 98.65,180.48 98.85,180.61 99.05,180.22 99.25,180.91 99.45,181.01 99.65,181.91 99.85,181.42 100.05,182.36 100.25,181.65 100.45,182.12 100.65,182.68 100.85,182.93 101.04,182.65 101.24,182.71 101.44,183.11 101.64,183.14 101.84,183.26 102.04,183.46 102.24,183.44 102.44,183.36 102.64,183.06 102.84,183.41 103.04,183.98 103.24,183.2 103.44,183.45 103.64,184.09 103.84,183.67 104.04,184.34 104.24,184.49 104.43,184.54 104.63,183.68 104.83,184.31 105.03,184.28 105.23,184.42 105.43,184.65 105.63,184.34 105.83,184.3 106.03,183.83 106.23,184.95 106.43,184.05 106.63,184.41 106.83,185.37 107.03,184.34 107.23,184.1 107.43,184.32 107.63,184.67 107.82,184.72 108.02,185.56 108.22,184.68 108.42,184.74 108.62,185.18 108.82,184.75 109.02,185.09 109.22,183.96 109.42,185.32 109.62,185.2 109.82,185.7 110.02,185.02 110.22,184.82 110.42,184.87 110.62,185.13 110.82,184.54 111.02,184.79 111.21,184.42 111.41,184.92 111.61,185.57 111.81,184.94 112.01,185.28 112.21,184.56 112.41,185.12 112.61,184.98 112.81,184.89 113.01,185.47 113.21,185.03 113.41,184.53 113.61,185.1 113.81,184.94 114.01,184.81 114.21,185.13 114.41,184.98 114.61,184.69 114.8,185.01 115,184.84 115.2,184.91 115.4,185.26 115.6,185.36 115.8,184.07 116,184.3 116.2,184.89 116.4,184.46 116.6,184.4 116.8,184.45 117,184.97 117.2,185.38 117.4,185.31 117.6,184.9 117.8,184.27 118,184.19 118.19,184.89 118.39,184.92 118.59,184.31 118.79,183.97 118.99,185.14 119.19,184.58 119.39,184.71 119.59,184.89 119.79,184.88 119.99,184.88 120.19,184.74 120.39,185.35 120.59,184.73 120.79,184.41 120.99,184.42 121.19,184.4 121.39,184.58 121.58,184.63 121.78,183.93 121.98,184.76 122.18,184.62 122.38,184.18 122.58,184.66 122.78,185.18 122.98,184.88 123.18,184.82 123.38,184.71 123.58,184.82 123.78,184.24 123.98,184.34 124.18,184.43 124.38,184.77 124.58,184.2 124.78,184.2 124.97,183.72 125.17,184.83 125.37,184.62 125.57,184.01 125.77,184.99 125.97,184.45 126.17,184.46 126.37,184.51 126.57,184.91 126.77,184.5 126.97,185.11 127.17,184.03 127.37,184.69 127.57,184.43 127.77,184.49 127.97,184.4 128.17,184.42 128.36,184.29 128.56,184.6 128.76,184.43 128.96,184.88 129.16,184.85 129.36,184.76 129.56,184.82 129.76,184.95 129.96,184.64 130.16,184.13 130.36,184.21 130.56,184.53 130.76,184.23 130.96,184.2 131.16,183.25 131.36,184.97 131.56,184.21 131.76,184.84 131.95,183.78 132.15,184.37 132.35,184.09 132.55,184.18 132.75,183.96 132.95,185.43 133.15,184.7 133.35,184.18 133.55,184.75 133.75,183.96 133.95,183.67 134.15,184.7 134.35,184.33 134.55,183.89 134.75,183.39 134.95,183.7 135.15,183.81 135.34,184.46 135.54,184.07 135.74,184.02 135.94,184.31 136.14,183.88 136.34,184.16 136.54,184.21 136.74,183.13 136.94,184.07 137.14,183.2 137.34,184.13 137.54,183.99 137.74,184.47 137.94,184.17 138.14,183.26 138.34,183.9 138.54,184.73 138.73,183.29 138.93,184.24 139.13,184.03 139.33,183.86 139.53,184.62 139.73,183.17 139.93,183.26 140.13,183.93 140.33,183.62 140.53,183.88 140.73,184 140.93,183.83 141.13,184.33 141.33,183.87 141.53,183.92 141.73,182.85 141.93,184.28 142.12,183.1 142.32,183.32 142.52,183.54 142.72,183.85 142.92,182.8 143.12,182.93 143.32,183.56 143.52,183.61 143.72,183.43 143.92,182.71 144.12,183.87 144.32,183.42 144.52,182.95 144.72,184.03 144.92,183.44 145.12,182.91 145.32,183.57 145.51,183.41 145.71,184.02 145.91,183.16 146.11,183.82 146.31,183.46 146.51,183.12 146.71,183.5 146.91,182.85 147.11,182.9 147.31,182.98 147.51,182.75 147.71,183.23 147.91,184.1 148.11,182.74 148.31,182.76 148.51,183.3 148.71,183.44 148.91,182.54 149.1,183.24 149.3,183.19 149.5,183.2 149.7,181.93 149.9,183.28 150.1,184.11 150.3,182.98 150.5,183.39 150.7,183.7 150.9,182.84 151.1,183.12 151.3,182.47 151.5,183 151.7,182.3 151.9,182.37 152.1,182.78 152.3,182.43 152.49,181.94 152.69,182.43 152.89,183.37 153.09,182.67 153.29,182.59 153.49,182.09 153.69,182.7 153.89,182.11 154.09,182.66 154.29,182.57 154.49,182.68 154.69,182.54 154.89,182.6 155.09,182.36 155.29,182.85 155.49,182.96 155.69,182.5 155.88,182.37 156.08,182.61 156.28,182.22 156.48,182.23 156.68,181.58 156.88,183.03 157.08,181.41 157.28,183.41 157.48,183.13 157.68,182.17 157.88,182.72 158.08,182.4 158.28,182.46 158.48,182.85 158.68,182.86 158.88,182.38 159.08,182.02 159.27,181.88 159.47,182.07 159.67,182.29 159.87,181.55 160.07,183.14 160.27,182.07 160.47,181.47 160.67,181.29 160.87,181.46 161.07,181.38 161.27,181.51 161.47,181.92 161.67,183.04 161.87,182.19 162.07,182.07 162.27,181.16 162.47,182.11 162.66,182.06 162.86,181.56 163.06,182.33 163.26,181.83 163.46,181.57 163.66,181.98 163.86,181.84 164.06,182.66 164.26,182.39 164.46,181.9 164.66,181.22 164.86,182.04 165.06,182.21 165.26,182.14 165.46,181.43 165.66,182.43 165.86,181.66 166.05,181.91 166.25,181.7 166.45,182.1 166.65,181.69 166.85,181.07 167.05,181.87 167.25,181.97 167.45,182.98 167.65,181.51 167.85,182.05 168.05,181.56 168.25,181.69 168.45,182.13 168.65,182.06 168.85,182.41 169.05,180.79 169.25,181.31 169.45,181.36 169.64,181.18 169.84,181.09 170.04,181.35 170.24,181.28 170.44,180.58 170.64,182.61 170.84,181.69 171.04,182.09 171.24,181.77 171.44,183.02 171.64,182.33 171.84,181.42 172.04,182.42 172.24,181.56 172.44,182.23 172.64,181.92 172.84,182.58 173.03,182.15 173.23,182.59 173.43,181.61 173.63,182.72 173.83,181.73 174.03,182.16 174.23,181.99 174.43,181.23 174.63,182.05 174.83,182.24 175.03,181.93 175.23,181.62 175.43,182.22 175.63,181.16 175.83,181.9 176.03,182.16 176.23,182.31 176.42,182.09 176.62,181.76 176.82,181.53 177.02,182.01 177.22,182.34 177.42,182.09 177.62,183.08 177.82,181.57 178.02,181.72 178.22,182.22 178.42,181.81 178.62,182.61 178.82,181.31 179.02,182.22 179.22,182.37 179.42,181.18 179.62,182.6 179.81,181.96 180.01,182.56 180.21,182.43 180.41,182.32 180.61,182.47 180.81,181.53 181.01,181.72 181.21,182.51 181.41,181.15 181.61,182.3 181.81,182.38 182.01,182.13 182.21,182.81 182.41,181.73 182.61,182.79 182.81,182.97 183.01,181.92 183.2,182.86 183.4,182.57 183.6,183.04 183.8,182.71 184,182.48 184.2,183.65 184.4,182.61 184.6,182.97 184.8,181.98 185,181.72 185.2,182.43 185.4,182.42 185.6,182.23 185.8,182.25 186,183.4 186.2,183.37 186.4,183.02 186.6,183.45 186.79,183 186.99,182.82 187.19,183.25 187.39,182.7 187.59,182.29 187.79,182.93 187.99,182.78 188.19,183.01 188.39,183.05 188.59,183.27 188.79,183.56 188.99,182.83 189.19,182.62 189.39,183.14 189.59,183.09 189.79,183.76 189.99,183.29 190.18,183.07 190.38,183.26 190.58,183.22 190.78,183.7 190.98,183.84 191.18,183.41 191.38,182.67 191.58,183.51 191.78,184.01 191.98,183.66 192.18,183.49 192.38,182.9 192.58,182.97 192.78,183.8 192.98,183.91 193.18,183.6 193.38,183.52 193.57,183.96 193.77,183.14 193.97,183.76 194.17,183.48 194.37,183.69 194.57,183.41 194.77,183.69 194.97,183.56 195.17,183.16 195.37,183.6 195.57,183.1 195.77,184.27 195.97,183.83 196.17,184.21 196.37,184.38 196.57,183.82 196.77,183.02 196.96,183.74 197.16,183.44 197.36,184.67 197.56,183.79 197.76,184.39 197.96,183.83 198.16,183.52 198.36,184.16 198.56,183.53 198.76,184.32 198.96,183.97 199.16,184.29 199.36,184.01 199.56,184.13 199.76,184.99 199.96,184.25 200.16,184.32 200.35,183.44 200.55,185.17 200.75,184.13 200.95,183.84 201.15,183.42 201.35,183.68 201.55,184.24 201.75,183.65 201.95,184.3 202.15,184.34 202.35,184.42 202.55,184.44 202.75,183.69 202.95,184.98 203.15,184.96 203.35,183.96 203.55,184.17 203.75,184.03 203.94,184.49 204.14,184.14 204.34,184.51 204.54,184.64 204.74,184.62 204.94,184.4 205.14,184.44 205.34,184.64 205.54,183.86 205.74,184.33 205.94,184.66 206.14,185.06 206.34,184.57 206.54,185.21 206.74,184.92 206.94,185.04 207.14,184.95 207.33,184.53 207.53,185.91 207.73,184.05 207.93,184.47 208.13,184.83 208.33,184.92 208.53,184.4 208.73,184.74 208.93,184.01 209.13,184.77 209.33,185.09 209.53,185.3 209.73,184.78 209.93,184.34 210.13,185.24 210.33,184.27 210.53,184.44 210.72,184.91 210.92,184.28 211.12,185.48 211.32,185.67 211.52,184.7 211.72,184.65 211.92,184.68 212.12,184.85 212.32,185.42 212.52,184.63 212.72,184.99 212.92,184.52 213.12,184.78 213.32,185.33 213.52,184.64 213.72,184.57 213.92,184.58 214.11,185.17 214.31,185.31 214.51,184.6 214.71,184.94 214.91,184.97 215.11,184.53 215.31,184.52 215.51,184.74 215.71,185.03 215.91,184.36 216.11,185.36 216.31,184.96 216.51,184.83 216.71,185.5 216.91,185.25 217.11,184.63 217.31,185.01 217.5,185.4 217.7,184.34 217.9,184.92 218.1,184.95 218.3,184.29 218.5,185.58 218.7,185.22 218.9,185.37 219.1,184.5 219.3,185.34 219.5,184.1 219.7,184.84 219.9,184.91 220.1,184.65 220.3,185.12 220.5,185.39 220.7,185.28 220.89,185.04 221.09,185.43 221.29,185 221.49,185.3 221.69,185.14 221.89,185.09 222.09,184.45 222.29,184.17 222.49,184.33 222.69,185.1 222.89,185.3 223.09,184.61 223.29,184.5 223.49,184.65 223.69,185.24 223.89,184.89 224.09,185.11 224.29,184.61 224.48,184.65 224.68,184.93 224.88,185.17 225.08,184.34 225.28,184.94 225.48,184.69 225.68,184.8 225.88,184.71 226.08,184.56 226.28,185.15 226.48,185.19 226.68,184.78 226.88,186.26 227.08,185.05 227.28,185.21 227.48,184.74 227.68,184.89 227.87,185.1 228.07,185.48 228.27,185.1 228.47,185.16 228.67,185.01 228.87,184.95 229.07,185.31 229.27,184.84 229.47,185.25 229.67,184.89 229.87,184.94 230.07,184.56 230.27,185.05 230.47,184.43" fill="none" stroke="#0c0cff" stroke-width="1.2" stroke-linejoin="round" clip-path="url(#ca)"/>
<polyline points="47.8,185.66 48,185.47 48.2,184.96 48.4,185.31 48.6,184.91 48.8,184.8 49,185.67 49.2,184.72 49.4,185.34 49.59,184.3 49.79,184.83 49.99,185.32 50.19,185.03 50.39,185.03 50.59,184.98 50.79,184.57 50.99,184.9 51.19,184.47 51.39,184.87 51.59,185.18 51.79,185.7 51.99,185.71 52.19,185.03 52.39,184.84 52.59,184.55 52.79,185.35 52.98,185.08 53.18,185.42 53.38,185.27 53.58,185.99 53.78,184.82 53.98,185.39 54.18,185.14 54.38,184.94 54.58,184.98 54.78,185.62 54.98,184.52 55.18,184.82 55.38,184.92 55.58,185.36 55.78,185.73 55.98,185.74 56.18,185.19 56.37,185.05 56.57,185.38 56.77,184.4 56.97,184.99 57.17,184.72 57.37,184.76 57.57,185.52 57.77,184.73 57.97,184.94 58.17,185.6 58.37,184.83 58.57,184.7 58.77,184.73 58.97,184.7 59.17,185.65 59.37,185.2 59.57,185.32 59.77,185.09 59.96,185.07 60.16,184.67 60.36,184.82 60.56,185.43 60.76,184.76 60.96,184.48 61.16,184.99 61.36,185.69 61.56,185.36 61.76,185.18 61.96,185.73 62.16,185.16 62.36,185.6 62.56,184.8 62.76,184.84 62.96,185.14 63.16,185.59 63.35,185 63.55,185.35 63.75,185.37 63.95,184.68 64.15,185.4 64.35,185.64 64.55,184.8 64.75,184.42 64.95,184.48 65.15,184.8 65.35,184.3 65.55,185.24 65.75,184.27 65.95,184.3 66.15,185.24 66.35,184.94 66.55,185.6 66.74,185.5 66.94,184.89 67.14,185.55 67.34,185.02 67.54,184.92 67.74,185.05 67.94,184.72 68.14,184.35 68.34,185.03 68.54,184.71 68.74,184.52 68.94,185.27 69.14,185.35 69.34,186.03 69.54,184.92 69.74,184.68 69.94,184.92 70.13,184.28 70.33,184.5 70.53,184.77 70.73,185.1 70.93,185.42 71.13,185.04 71.33,184.89 71.53,185.11 71.73,185.2 71.93,185.23 72.13,184.81 72.33,185.74 72.53,185.2 72.73,185.05 72.93,184.81 73.13,184.8 73.33,185.16 73.52,185.3 73.72,185.52 73.92,184.62 74.12,184.84 74.32,184.99 74.52,185.35 74.72,185.5 74.92,184.61 75.12,185.07 75.32,184.88 75.52,184.36 75.72,185.65 75.92,185.35 76.12,184.91 76.32,184.81 76.52,185.45 76.72,185.08 76.92,185.28 77.11,185.26 77.31,184.89 77.51,184.96 77.71,184.57 77.91,184.79 78.11,184.45 78.31,185.34 78.51,184.86 78.71,185.56 78.91,185.66 79.11,185.55 79.31,184.73 79.51,184.92 79.71,185.63 79.91,184.49 80.11,184.61 80.31,185.05 80.5,185.07 80.7,184.97 80.9,185.43 81.1,184.05 81.3,185.13 81.5,185.01 81.7,185.06 81.9,185.18 82.1,185.26 82.3,184.77 82.5,185.37 82.7,185.28 82.9,185.18 83.1,184.54 83.3,185.23 83.5,185.21 83.7,184.68 83.89,185.23 84.09,184.9 84.29,184.41 84.49,184.57 84.69,184.7 84.89,184.09 85.09,184.81 85.29,184.85 85.49,185.25 85.69,184.5 85.89,184.2 86.09,184.62 86.29,183.52 86.49,183.72 86.69,183.6 86.89,184.23 87.09,183.39 87.28,183.05 87.48,183.63 87.68,182.37 87.88,181.91 88.08,181.87 88.28,180.22 88.48,178.71 88.68,178.26 88.88,177.82 89.08,176.35 89.28,174.43 89.48,173.85 89.68,171.83 89.88,170.42 90.08,168.78 90.28,166.54 90.48,166.51 90.67,163.83 90.87,162.96 91.07,162 91.27,161.82 91.47,160.15 91.67,160.02 91.87,161.14 92.07,160.93 92.27,161.52 92.47,162.18 92.67,162.83 92.87,163.83 93.07,163.65 93.27,164.86 93.47,166.37 93.67,166.66 93.87,167.25 94.07,168.9 94.26,170.55 94.46,170.57 94.66,170.82 94.86,172.55 95.06,172.7 95.26,172.83 95.46,173.21 95.66,173.79 95.86,174.4 96.06,174.99 96.26,175.51 96.46,175.14 96.66,175.47 96.86,176.34 97.06,176.69 97.26,176.11 97.46,176.46 97.65,177.43 97.85,178.02 98.05,177.49 98.25,177.4 98.45,177.54 98.65,177.79 98.85,178.97 99.05,178.48 99.25,178.84 99.45,179.16 99.65,177.93 99.85,179.18 100.05,179.23 100.25,179.62 100.45,179.36 100.65,179.3 100.85,180.04 101.04,180.07 101.24,180.38 101.44,180.74 101.64,180.52 101.84,180.43 102.04,180.68 102.24,180.9 102.44,181.68 102.64,180.89 102.84,181.06 103.04,180.61 103.24,181.59 103.44,181.99 103.64,182.31 103.84,181.88 104.04,181.73 104.24,181.69 104.43,182.51 104.63,182.18 104.83,181.63 105.03,182.08 105.23,182.32 105.43,182.4 105.63,182.96 105.83,182.96 106.03,182.67 106.23,182.03 106.43,182.12 106.63,182.71 106.83,182.45 107.03,182.59 107.23,182.35 107.43,183.15 107.63,182.81 107.82,182.58 108.02,183.52 108.22,183.09 108.42,183 108.62,182.98 108.82,182.98 109.02,182.99 109.22,182.87 109.42,182.75 109.62,183.19 109.82,182.5 110.02,183.6 110.22,183.52 110.42,183.34 110.62,183.82 110.82,184.13 111.02,184.09 111.21,183.13 111.41,183.88 111.61,184.18 111.81,182.91 112.01,183.54 112.21,183.64 112.41,184.13 112.61,183.65 112.81,183.99 113.01,183.71 113.21,183.83 113.41,183.94 113.61,183.78 113.81,184.24 114.01,184.07 114.21,184.23 114.41,183.77 114.61,183.66 114.8,183.63 115,184.74 115.2,183.28 115.4,184.08 115.6,184.05 115.8,184.03 116,184.05 116.2,183.52 116.4,183.99 116.6,183.93 116.8,183.67 117,183.53 117.2,184.47 117.4,184.56 117.6,184.85 117.8,184.85 118,183.96 118.19,184.05 118.39,184.1 118.59,183.96 118.79,183.97 118.99,183.61 119.19,183.41 119.39,184.42 119.59,183.49 119.79,183.66 119.99,184.42 120.19,184.02 120.39,184.27 120.59,184.78 120.79,184.07 120.99,184.75 121.19,184.07 121.39,184.51 121.58,184.21 121.78,183.75 121.98,184.02 122.18,184.4 122.38,183.97 122.58,183.78 122.78,183.66 122.98,184.39 123.18,183.58 123.38,184.11 123.58,184.26 123.78,183.54 123.98,183.76 124.18,183.73 124.38,183.95 124.58,184.73 124.78,183.79 124.97,183.74 125.17,184.01 125.37,183.25 125.57,183.89 125.77,183.23 125.97,183.43 126.17,184.19 126.37,184.25 126.57,184.02 126.77,183.9 126.97,183.58 127.17,184.11 127.37,184.28 127.57,182.93 127.77,183.8 127.97,183.68 128.17,183.05 128.36,183.73 128.56,184.74 128.76,183.54 128.96,183.99 129.16,183.3 129.36,184.46 129.56,183.61 129.76,183.33 129.96,183.05 130.16,183.23 130.36,183.22 130.56,183.61 130.76,183.6 130.96,184 131.16,183.15 131.36,182.88 131.56,183.26 131.76,183.88 131.95,184.09 132.15,183.69 132.35,182.77 132.55,183.36 132.75,183.83 132.95,183.55 133.15,183.02 133.35,183.64 133.55,183.54 133.75,183.55 133.95,183.69 134.15,182.43 134.35,183.61 134.55,183.12 134.75,182.7 134.95,183.24 135.15,183.35 135.34,183.22 135.54,183.13 135.74,183.2 135.94,183.28 136.14,183.23 136.34,182.99 136.54,182.23 136.74,183.18 136.94,182.61 137.14,183.03 137.34,183.35 137.54,183.41 137.74,182.73 137.94,183.43 138.14,182.63 138.34,182.95 138.54,182.01 138.73,183.22 138.93,182.22 139.13,182.06 139.33,182.29 139.53,182.88 139.73,182.45 139.93,182.52 140.13,182.63 140.33,182.12 140.53,182.54 140.73,182.36 140.93,181.95 141.13,182.46 141.33,182.56 141.53,182.27 141.73,182.56 141.93,183.38 142.12,182.51 142.32,182.32 142.52,182.77 142.72,183.06 142.92,181.94 143.12,182.44 143.32,181.8 143.52,181.85 143.72,181.31 143.92,181.73 144.12,181.54 144.32,181.29 144.52,182.07 144.72,181.34 144.92,181.27 145.12,182.68 145.32,182.29 145.51,181.68 145.71,180.89 145.91,181.84 146.11,182.27 146.31,182.39 146.51,181.44 146.71,181.45 146.91,181.84 147.11,181.35 147.31,181.64 147.51,180.86 147.71,182.08 147.91,181.59 148.11,180.77 148.31,181.6 148.51,181.69 148.71,181.37 148.91,180.27 149.1,181.02 149.3,180.41 149.5,181.55 149.7,181.15 149.9,180.67 150.1,180.85 150.3,181.21 150.5,182.04 150.7,180.6 150.9,180.46 151.1,180.56 151.3,181.64 151.5,181.46 151.7,181 151.9,181.19 152.1,180.09 152.3,181.16 152.49,180.73 152.69,181.1 152.89,181.4 153.09,179.93 153.29,180.33 153.49,180.75 153.69,180.33 153.89,181.46 154.09,179.44 154.29,180.78 154.49,181.21 154.69,180.73 154.89,180.01 155.09,180.09 155.29,179.7 155.49,179.65 155.69,179.96 155.88,179.4 156.08,180.9 156.28,179.62 156.48,179.59 156.68,179.62 156.88,179.86 157.08,180.03 157.28,180.03 157.48,180.59 157.68,179.91 157.88,179.01 158.08,178.77 158.28,179.79 158.48,179.8 158.68,179.74 158.88,179.51 159.08,179.4 159.27,179.1 159.47,178.54 159.67,180.43 159.87,179.86 160.07,179.5 160.27,179.24 160.47,178.95 160.67,178.15 160.87,179.64 161.07,178.72 161.27,179.1 161.47,178.99 161.67,178.82 161.87,178.48 162.07,178.86 162.27,179.53 162.47,178.61 162.66,178.58 162.86,179.72 163.06,178.56 163.26,178.83 163.46,178.86 163.66,178.69 163.86,177.72 164.06,179.65 164.26,178.57 164.46,179.74 164.66,178.63 164.86,178.1 165.06,179.66 165.26,177.94 165.46,178.31 165.66,178.64 165.86,178.66 166.05,178.56 166.25,178.51 166.45,178.57 166.65,177.94 166.85,178.08 167.05,179.06 167.25,177.92 167.45,177.48 167.65,177.61 167.85,178.37 168.05,179.46 168.25,178.85 168.45,178.62 168.65,178.61 168.85,179.41 169.05,178.22 169.25,178.05 169.45,179.36 169.64,179.02 169.84,179.17 170.04,178.58 170.24,177.95 170.44,179.81 170.64,177.72 170.84,178.07 171.04,179.4 171.24,177.72 171.44,177.99 171.64,178.37 171.84,178.51 172.04,179.23 172.24,178.45 172.44,179.21 172.64,178.72 172.84,178.18 173.03,179.01 173.23,179.18 173.43,178.53 173.63,178.31 173.83,178.31 174.03,179.01 174.23,178.12 174.43,178 174.63,179.14 174.83,178.64 175.03,180.01 175.23,179.11 175.43,179.64 175.63,179 175.83,179.45 176.03,180.44 176.23,178.8 176.42,179.74 176.62,178.54 176.82,178.42 177.02,178.93 177.22,179.32 177.42,179.17 177.62,180.13 177.82,179.31 178.02,178.85 178.22,179.03 178.42,180.02 178.62,178.64 178.82,179.23 179.02,180.06 179.22,179.32 179.42,180.11 179.62,179.9 179.81,179.64 180.01,178.68 180.21,178.37 180.41,180.58 180.61,179.83 180.81,179.91 181.01,179.5 181.21,179.7 181.41,180.25 181.61,179.79 181.81,180.35 182.01,180.47 182.21,179.77 182.41,180.01 182.61,180.46 182.81,179.83 183.01,180.42 183.2,180.65 183.4,180.34 183.6,179.99 183.8,180.67 184,179.63 184.2,180.54 184.4,180.3 184.6,180.08 184.8,180.53 185,180.89 185.2,180.7 185.4,180.14 185.6,180.02 185.8,180.38 186,180.97 186.2,181.27 186.4,181.1 186.6,181.08 186.79,180.77 186.99,180.93 187.19,181.35 187.39,180.64 187.59,181.39 187.79,181.02 187.99,181.47 188.19,180.61 188.39,180.97 188.59,181.1 188.79,180.69 188.99,180.81 189.19,181.94 189.39,181.25 189.59,181.89 189.79,181.71 189.99,181.67 190.18,182.19 190.38,182.13 190.58,181.52 190.78,181.55 190.98,181.39 191.18,181.75 191.38,181.91 191.58,181.91 191.78,181.94 191.98,182.2 192.18,181.82 192.38,182.35 192.58,182.42 192.78,182.69 192.98,181.96 193.18,182.38 193.38,182.21 193.57,182.08 193.77,182.58 193.97,182.11 194.17,182.21 194.37,182.28 194.57,183.17 194.77,181.86 194.97,182.12 195.17,182.12 195.37,181.64 195.57,182.93 195.77,181.61 195.97,182.61 196.17,182.14 196.37,182.05 196.57,183.07 196.77,182.51 196.96,182.93 197.16,182.5 197.36,183.38 197.56,182 197.76,182.6 197.96,182.93 198.16,183.23 198.36,182.29 198.56,183.13 198.76,182.59 198.96,183.49 199.16,182.76 199.36,183.85 199.56,182.91 199.76,183.52 199.96,183.56 200.16,182.75 200.35,182.88 200.55,183.47 200.75,183.56 200.95,182.8 201.15,183.94 201.35,183.44 201.55,183.66 201.75,183.37 201.95,183.43 202.15,183.5 202.35,183.97 202.55,183.37 202.75,183.3 202.95,183.71 203.15,182.83 203.35,183.76 203.55,183.6 203.75,182.79 203.94,183.76 204.14,183.72 204.34,184.31 204.54,183.71 204.74,183.91 204.94,183.63 205.14,184.23 205.34,183.31 205.54,183.61 205.74,183.48 205.94,184.02 206.14,184.61 206.34,183.77 206.54,183.94 206.74,184.14 206.94,183.3 207.14,183.87 207.33,183.94 207.53,183.83 207.73,183.9 207.93,183.89 208.13,183.75 208.33,184.04 208.53,184.28 208.73,184.45 208.93,184.05 209.13,183.96 209.33,183.86 209.53,184.51 209.73,184.81 209.93,184.8 210.13,183.66 210.33,184.02 210.53,184.28 210.72,184.41 210.92,183.43 211.12,184 211.32,184.05 211.52,184.56 211.72,183.9 211.92,184.53 212.12,184.69 212.32,183.86 212.52,184.28 212.72,184.16 212.92,185.03 213.12,184.61 213.32,184.81 213.52,184.4 213.72,184.54 213.92,184.52 214.11,184.83 214.31,183.99 214.51,185.07 214.71,184.39 214.91,184.6 215.11,184.19 215.31,184.99 215.51,184.22 215.71,184.96 215.91,184.54 216.11,184.73 216.31,183.73 216.51,185.18 216.71,184.95 216.91,185.41 217.11,185.12 217.31,184.8 217.5,184.89 217.7,185.08 217.9,185.03 218.1,184.86 218.3,184.74 218.5,184.15 218.7,184.65 218.9,184.82 219.1,184.96 219.3,184.56 219.5,184.32 219.7,184.94 219.9,184.47 220.1,184.65 220.3,185.67 220.5,184.12 220.7,184.51 220.89,185.41 221.09,185.63 221.29,184.81 221.49,185.08 221.69,184.7 221.89,185.05 222.09,184.43 222.29,185.13 222.49,184.75 222.69,184.66 222.89,185.03 223.09,184.57 223.29,184.88 223.49,184.93 223.69,185.01 223.89,185.85 224.09,185.33 224.29,184.24 224.48,185.09 224.68,185.26 224.88,185.03 225.08,185.04 225.28,184.16 225.48,185.39 225.68,185.24 225.88,184.73 226.08,185.66 226.28,185.6 226.48,185.47 226.68,185.26 226.88,184.6 227.08,184.49 227.28,184.8 227.48,184.24 227.68,185.72 227.87,184.6 228.07,185.27 228.27,184.82 228.47,185.12 228.67,185.56 228.87,184.57 229.07,184.47 229.27,184.92 229.47,185.34 229.67,184.25 229.87,185.92 230.07,184.95 230.27,185.37 230.47,185.3" fill="none" stroke="#0cf6f6" stroke-width="1.2" stroke-linejoin="round" clip-path="url(#ca)"/>
<line x1="151.4" y1="56.3" x2="151.4" y2="115.8" stroke="#b8b8b8" stroke-width="0.8"/>
<text x="64.42" y="194.9" font-size="7.7" font-weight="bold" text-anchor="middle" fill="#111">300</text>
<text x="97.65" y="194.9" font-size="7.7" font-weight="bold" text-anchor="middle" fill="#111">400</text>
<text x="130.89" y="194.9" font-size="7.7" font-weight="bold" text-anchor="middle" fill="#111">500</text>
<text x="164.13" y="194.9" font-size="7.7" font-weight="bold" text-anchor="middle" fill="#111">600</text>
<text x="197.36" y="194.9" font-size="7.7" font-weight="bold" text-anchor="middle" fill="#111">700</text>
<text x="230.6" y="194.9" font-size="7.7" font-weight="bold" text-anchor="middle" fill="#111">800</text>
<text x="44.2" y="187.4" font-size="7.8" font-weight="bold" text-anchor="end" fill="#111">0</text>
<text x="41" y="169.23" font-size="7.8" font-weight="bold" text-anchor="end" fill="#111">1x10</text>
<text x="42.1" y="165.73" font-size="4.8" font-weight="normal" text-anchor="start" fill="#111">3</text>
<text x="41" y="149.96" font-size="7.8" font-weight="bold" text-anchor="end" fill="#111">2x10</text>
<text x="42.1" y="146.46" font-size="4.8" font-weight="normal" text-anchor="start" fill="#111">3</text>
<text x="41" y="130.69" font-size="7.8" font-weight="bold" text-anchor="end" fill="#111">3x10</text>
<text x="42.1" y="127.19" font-size="4.8" font-weight="normal" text-anchor="start" fill="#111">3</text>
<text x="41" y="111.41" font-size="7.8" font-weight="bold" text-anchor="end" fill="#111">4x10</text>
<text x="42.1" y="107.91" font-size="4.8" font-weight="normal" text-anchor="start" fill="#111">3</text>
<text x="41" y="92.14" font-size="7.8" font-weight="bold" text-anchor="end" fill="#111">5x10</text>
<text x="42.1" y="88.64" font-size="4.8" font-weight="normal" text-anchor="start" fill="#111">3</text>
<text x="41" y="72.87" font-size="7.8" font-weight="bold" text-anchor="end" fill="#111">6x10</text>
<text x="42.1" y="69.37" font-size="4.8" font-weight="normal" text-anchor="start" fill="#111">3</text>
<text x="41" y="53.6" font-size="7.8" font-weight="bold" text-anchor="end" fill="#111">7x10</text>
<text x="42.1" y="50.1" font-size="4.8" font-weight="normal" text-anchor="start" fill="#111">3</text>
<text x="136" y="205.6" font-size="10.1" font-weight="bold" text-anchor="middle" fill="#111">Wavelength (nm)</text>
<text x="18.6" y="113.5" font-size="10.92" font-weight="bold" text-anchor="middle" fill="#111" transform="rotate(-90 18.6 113.5)">PL intensity (arb. unit)</text>
<text x="13.8" y="30.1" font-size="10.8" font-weight="bold" text-anchor="start" fill="#111">(a)</text>
<rect x="140.1" y="150.2" width="73.1" height="34.3" fill="none" stroke="#16303f" stroke-width="1.9" stroke-dasharray="6.9 6.4"/>
<line x1="213.2" y1="150.1" x2="245.4" y2="16" stroke="#222" stroke-width="0.8"/>
<line x1="213.2" y1="184.4" x2="245.4" y2="197.2" stroke="#222" stroke-width="0.8"/>
<clipPath id="cia"><rect x="245.4" y="15.9" width="127.1" height="184.4"/></clipPath>
<polyline points="244,148.76 244.55,152.82 245.1,135.08 245.65,150.54 246.2,140.49 246.75,135.25 247.3,133.71 247.85,130.81 248.4,133.51 248.95,137.2 249.5,134.48 250.05,133.27 250.6,120.37 251.15,119.53 251.7,133.4 252.25,129.1 252.8,133.21 253.35,127.43 253.9,115.07 254.45,124.98 255,120.36 255.55,116.95 256.1,110.51 256.65,113.18 257.2,111.11 257.75,114.88 258.3,109.82 258.85,115.69 259.4,102.88 259.95,107.75 260.5,106.69 261.05,98.84 261.6,96.13 262.15,105.76 262.7,102.22 263.25,97.79 263.8,99.43 264.35,93.13 264.9,96.58 265.45,91.45 266,94.37 266.55,97.32 267.1,89.88 267.65,94.76 268.2,84.58 268.75,87.28 269.3,81.03 269.85,86.22 270.4,86.07 270.95,83.64 271.5,82.18 272.05,88.89 272.6,88.08 273.15,73.85 273.7,84.2 274.25,68.6 274.8,71.98 275.35,73.24 275.9,73.1 276.45,65.88 277,65.9 277.55,68.24 278.1,62.8 278.65,61.29 279.2,65.86 279.75,65.3 280.3,58.57 280.85,57.12 281.4,55.16 281.95,51.35 282.5,49.52 283.05,45.55 283.6,52.48 284.15,47.6 284.7,46.1 285.25,46.55 285.8,47.02 286.35,50.29 286.9,40.95 287.45,39.35 288,41.39 288.55,35.43 289.1,45.03 289.65,42.6 290.2,40.76 290.75,36.11 291.3,39.69 291.85,40.62 292.4,37.35 292.95,32.98 293.5,25.56 294.05,37.95 294.6,31.09 295.15,28.21 295.7,36.23 296.25,33.06 296.8,24.01 297.35,30.05 297.9,28.81 298.45,34.61 299,20.11 299.55,27.19 300.1,28.12 300.65,35.48 301.2,22.95 301.75,17.7 302.3,20.95 302.85,28.79 303.4,31.27 303.95,35.64 304.5,29.01 305.05,23.07 305.6,31.45 306.15,27.45 306.7,27.11 307.25,28.93 307.8,35.96 308.35,26.23 308.9,26.58 309.45,32.19 310,33.03 310.55,30.14 311.1,30.63 311.65,37.61 312.2,43.15 312.75,40.92 313.3,41.6 313.85,45.14 314.4,30.04 314.95,33.13 315.5,37.77 316.05,36.06 316.6,37.74 317.15,43.59 317.7,37.61 318.25,42.39 318.8,35.22 319.35,41.14 319.9,53.2 320.45,44.67 321,49.66 321.55,52.3 322.1,47.19 322.65,53.22 323.2,52.21 323.75,55.37 324.3,49.62 324.85,46.46 325.4,49.29 325.95,52.35 326.5,58.46 327.05,55.59 327.6,55.4 328.15,57.23 328.7,64.25 329.25,56.8 329.8,67.78 330.35,55.12 330.9,58.99 331.45,66.84 332,65.95 332.55,59.96 333.1,64.33 333.65,62.1 334.2,70.46 334.75,69.65 335.3,64.26 335.85,70.48 336.4,67.56 336.95,69.88 337.5,71.49 338.05,69.5 338.6,75.56 339.15,77.03 339.7,78.18 340.25,82.8 340.8,77.26 341.35,72.43 341.9,78.38 342.45,82.83 343,83.02 343.55,86.79 344.1,88.92 344.65,85.4 345.2,86.41 345.75,83.06 346.3,93.88 346.85,88.41 347.4,85.24 347.95,85.9 348.5,90.11 349.05,100.49 349.6,97.36 350.15,85.94 350.7,94.29 351.25,96.81 351.8,99.2 352.35,98.41 352.9,94.17 353.45,99.91 354,95.76 354.55,88.78 355.1,96.17 355.65,96.85 356.2,105.43 356.75,106.48 357.3,96.73 357.85,103.24 358.4,103.37 358.95,96.43 359.5,93.94 360.05,104.1 360.6,105.77 361.15,102.73 361.7,95.9 362.25,106.59 362.8,104.44 363.35,103.45 363.9,106.76 364.45,103.37 365,112.18 365.55,110.04 366.1,107.8 366.65,112.48 367.2,111.51 367.75,104.8 368.3,112.11 368.85,111.16 369.4,105.46 369.95,111.4 370.5,117.28 371.05,112.77 371.6,123.31 372.15,125.36 372.7,116.16" fill="none" stroke="#000000" stroke-width="1.6" stroke-linejoin="round" clip-path="url(#cia)"/>
<polyline points="244,145.15 244.55,144.37 245.1,142.18 245.65,143.8 246.2,152.25 246.75,135.64 247.3,146.44 247.85,146.34 248.4,136.76 248.95,133.44 249.5,137.56 250.05,139.58 250.6,142.32 251.15,134.81 251.7,136.67 252.25,125.08 252.8,121.44 253.35,115.74 253.9,116.96 254.45,119.3 255,120.5 255.55,111.61 256.1,120.54 256.65,114.56 257.2,110.46 257.75,108.42 258.3,120.66 258.85,110.2 259.4,103.6 259.95,101.96 260.5,114.3 261.05,101.13 261.6,108.48 262.15,108.33 262.7,89.8 263.25,105.45 263.8,96.58 264.35,91.08 264.9,92.55 265.45,96.81 266,94.79 266.55,93.98 267.1,87.3 267.65,96.09 268.2,96.17 268.75,96.78 269.3,91.66 269.85,95 270.4,94.9 270.95,86.97 271.5,86.67 272.05,83.94 272.6,82.45 273.15,82.59 273.7,68.55 274.25,73.89 274.8,76.43 275.35,62.33 275.9,64.19 276.45,77.71 277,63.54 277.55,65.34 278.1,68.46 278.65,63.45 279.2,60.84 279.75,61.87 280.3,61.71 280.85,60.42 281.4,63.62 281.95,70.09 282.5,63.42 283.05,69.07 283.6,64.11 284.15,63.91 284.7,61.96 285.25,56.88 285.8,59.63 286.35,58.23 286.9,50.43 287.45,58.64 288,56.83 288.55,54.74 289.1,49.03 289.65,40.22 290.2,56.39 290.75,47.51 291.3,36.2 291.85,48.29 292.4,40.16 292.95,45.35 293.5,39.86 294.05,44.31 294.6,38.38 295.15,37.23 295.7,35.42 296.25,39.69 296.8,26.25 297.35,37.33 297.9,33.97 298.45,27.04 299,29.08 299.55,26.47 300.1,28.79 300.65,33.11 301.2,25.19 301.75,32.19 302.3,33.19 302.85,31.75 303.4,36.34 303.95,28.39 304.5,32.22 305.05,39.53 305.6,30.24 306.15,30.61 306.7,32.74 307.25,37.17 307.8,32.88 308.35,36.27 308.9,30.32 309.45,35.33 310,37.16 310.55,38.24 311.1,43.51 311.65,50.8 312.2,47.12 312.75,43.94 313.3,52.83 313.85,53.61 314.4,46.99 314.95,55.59 315.5,50.56 316.05,53.6 316.6,53.92 317.15,62.32 317.7,54.98 318.25,58.16 318.8,61.32 319.35,66.15 319.9,67.52 320.45,57.34 321,68.7 321.55,64.86 322.1,69.71 322.65,69.4 323.2,61.94 323.75,65.01 324.3,63.63 324.85,67.13 325.4,73.61 325.95,65.97 326.5,62.63 327.05,76.34 327.6,61.33 328.15,66.35 328.7,66.4 329.25,60.37 329.8,70.58 330.35,71.99 330.9,66.46 331.45,67.21 332,66.2 332.55,58.45 333.1,68.36 333.65,61.19 334.2,62.73 334.75,69.53 335.3,72.37 335.85,63.93 336.4,74.19 336.95,77.77 337.5,70.53 338.05,69.97 338.6,72.06 339.15,69.88 339.7,68.51 340.25,76.74 340.8,78.13 341.35,73.63 341.9,75.95 342.45,76.99 343,78.84 343.55,79.77 344.1,79.25 344.65,92.93 345.2,88.63 345.75,92.54 346.3,102.8 346.85,93.42 347.4,100.26 347.95,92.33 348.5,97.17 349.05,104.79 349.6,101.23 350.15,96.57 350.7,97.06 351.25,107.12 351.8,101.83 352.35,110.53 352.9,109.37 353.45,107.25 354,109.24 354.55,113.94 355.1,111.15 355.65,107.06 356.2,113.95 356.75,111.25 357.3,112.45 357.85,116.92 358.4,116.31 358.95,120.18 359.5,114.85 360.05,114.02 360.6,115.03 361.15,118.9 361.7,113.55 362.25,116.04 362.8,114.04 363.35,114.69 363.9,117.91 364.45,129.44 365,117.65 365.55,121.14 366.1,120.82 366.65,120.03 367.2,121.55 367.75,131.39 368.3,121.34 368.85,130.93 369.4,127.02 369.95,120.44 370.5,122.23 371.05,123.89 371.6,121.68 372.15,133.19 372.7,130.5" fill="none" stroke="#ff0d0d" stroke-width="1.6" stroke-linejoin="round" clip-path="url(#cia)"/>
<polyline points="244,195.09 244.55,193.37 245.1,191.92 245.65,182.52 246.2,193.7 246.75,182.1 247.3,195.44 247.85,193.87 248.4,194.67 248.95,194.47 249.5,191.89 250.05,187.95 250.6,188.79 251.15,196.77 251.7,187.19 252.25,188.61 252.8,186.21 253.35,186.98 253.9,187.77 254.45,190.15 255,187.53 255.55,187.12 256.1,185.81 256.65,188.87 257.2,182.3 257.75,188.48 258.3,194.04 258.85,184.6 259.4,187.77 259.95,197.36 260.5,183.38 261.05,180.49 261.6,185.8 262.15,195.8 262.7,196.78 263.25,182.1 263.8,190.09 264.35,187.5 264.9,184.78 265.45,178.63 266,191.96 266.55,183.44 267.1,188.62 267.65,187.61 268.2,195.62 268.75,192.46 269.3,181.94 269.85,185.93 270.4,191.74 270.95,181.05 271.5,185.25 272.05,188.01 272.6,179.69 273.15,181.37 273.7,179.23 274.25,188.17 274.8,184.32 275.35,190.99 275.9,187.3 276.45,189.33 277,186.35 277.55,190.08 278.1,186.19 278.65,182.2 279.2,191.91 279.75,190.96 280.3,195.96 280.85,185.83 281.4,183.82 281.95,179.88 282.5,176.89 283.05,180.41 283.6,188.43 284.15,182.2 284.7,176.67 285.25,188.79 285.8,183.31 286.35,184.27 286.9,183.88 287.45,185.13 288,187.79 288.55,177.76 289.1,184.46 289.65,183.11 290.2,190.43 290.75,180.58 291.3,192.53 291.85,187.82 292.4,192.33 292.95,181.78 293.5,188.52 294.05,186.47 294.6,178.06 295.15,183.58 295.7,182.69 296.25,180.36 296.8,181.24 297.35,178.23 297.9,182.63 298.45,186.28 299,181.34 299.55,177.89 300.1,189.73 300.65,183.46 301.2,185.38 301.75,184.34 302.3,183.1 302.85,188.38 303.4,183.44 303.95,186.11 304.5,179.63 305.05,178.91 305.6,184.68 306.15,195.17 306.7,187.53 307.25,195.54 307.8,188.99 308.35,189.11 308.9,184.55 309.45,187.18 310,195.45 310.55,192.83 311.1,184.79 311.65,185.6 312.2,193.84 312.75,185.61 313.3,192.17 313.85,184.05 314.4,191.07 314.95,195.22 315.5,192.21 316.05,189.66 316.6,189.3 317.15,188.39 317.7,188.77 318.25,194.28 318.8,194.27 319.35,191.01 319.9,183.61 320.45,187.04 321,190.82 321.55,189.81 322.1,183.59 322.65,192.76 323.2,199.32 323.75,184.45 324.3,190.35 324.85,197.45 325.4,188.37 325.95,188.51 326.5,191.2 327.05,193.08 327.6,188.77 328.15,195.12 328.7,182.22 329.25,193.83 329.8,192.63 330.35,190.34 330.9,192.88 331.45,191.44 332,197.29 332.55,189.31 333.1,191.29 333.65,185.31 334.2,186.58 334.75,190.64 335.3,184.81 335.85,188.08 336.4,186.01 336.95,189.83 337.5,192.67 338.05,196.47 338.6,183.57 339.15,191.48 339.7,196.36 340.25,198.75 340.8,198.95 341.35,186.25 341.9,190.47 342.45,195.4 343,197.16 343.55,194.29 344.1,194.29 344.65,194.26 345.2,189.8 345.75,194.06 346.3,197.06 346.85,191.96 347.4,198.84 347.95,184.18 348.5,192.24 349.05,201.44 349.6,197.79 350.15,200.43 350.7,194.66 351.25,188.76 351.8,191.86 352.35,201.08 352.9,186.03 353.45,190.08 354,186.73 354.55,192.11 355.1,192.69 355.65,197.26 356.2,191.01 356.75,202.5 357.3,197.77 357.85,192.81 358.4,190.54 358.95,188.32 359.5,195.68 360.05,204.12 360.6,194.54 361.15,190.71 361.7,195.14 362.25,193.14 362.8,191.46 363.35,187.06 363.9,195.4 364.45,202.41 365,201.31 365.55,200.27 366.1,196.86 366.65,198.1 367.2,200.59 367.75,195.85 368.3,197.43 368.85,194.42 369.4,201.37 369.95,192.17 370.5,199.46 371.05,200.3 371.6,200.27 372.15,199.76 372.7,194.53" fill="none" stroke="#12ee12" stroke-width="1.6" stroke-linejoin="round" clip-path="url(#cia)"/>
<polyline points="244,190.78 244.55,185.96 245.1,178.9 245.65,183 246.2,182.03 246.75,182.25 247.3,185.69 247.85,176.97 248.4,186.8 248.95,177.11 249.5,181.07 250.05,185.65 250.6,184.39 251.15,178.05 251.7,188.88 252.25,182.33 252.8,176.17 253.35,180.44 253.9,176.3 254.45,181.8 255,173.62 255.55,181.64 256.1,171.34 256.65,184.09 257.2,180.24 257.75,184.99 258.3,175.57 258.85,169.24 259.4,172.42 259.95,177.41 260.5,187.28 261.05,180.96 261.6,184.23 262.15,174.33 262.7,175.83 263.25,176.68 263.8,183.4 264.35,175.55 264.9,176.74 265.45,185.31 266,174.05 266.55,177.8 267.1,171.86 267.65,176.82 268.2,181.58 268.75,183.19 269.3,171.53 269.85,168.32 270.4,180.17 270.95,185.22 271.5,174.54 272.05,178.86 272.6,177.77 273.15,168.17 273.7,168.15 274.25,177.27 274.8,179.74 275.35,170.7 275.9,176.02 276.45,173.9 277,173.1 277.55,171.6 278.1,182.64 278.65,177.39 279.2,176.26 279.75,175.07 280.3,178.94 280.85,174.87 281.4,177.82 281.95,173.57 282.5,178.54 283.05,175.52 283.6,179.36 284.15,169.67 284.7,173.03 285.25,170.92 285.8,183.43 286.35,173.47 286.9,175.79 287.45,168.18 288,171.5 288.55,167.93 289.1,174.96 289.65,170.95 290.2,182.06 290.75,171.05 291.3,179.41 291.85,174.13 292.4,176.96 292.95,170.4 293.5,174.22 294.05,173.64 294.6,170.73 295.15,176.72 295.7,167.45 296.25,173.36 296.8,173.21 297.35,174.53 297.9,168.95 298.45,177.14 299,170.11 299.55,171.48 300.1,169.89 300.65,172.51 301.2,175.98 301.75,184.23 302.3,165.37 302.85,178.54 303.4,178.47 303.95,181.18 304.5,175.78 305.05,176.79 305.6,182.84 306.15,175.33 306.7,175.77 307.25,175.01 307.8,177.11 308.35,183.17 308.9,171.28 309.45,180.68 310,166.32 310.55,177.78 311.1,173.93 311.65,181.76 312.2,179.82 312.75,179.92 313.3,179.15 313.85,178.29 314.4,167.86 314.95,178.54 315.5,171.32 316.05,182.39 316.6,174.86 317.15,178.11 317.7,176.06 318.25,178.85 318.8,179.56 319.35,181.22 319.9,173.5 320.45,186.28 321,174.61 321.55,178.82 322.1,170.77 322.65,181.21 323.2,184.42 323.75,185.62 324.3,182.68 324.85,182.67 325.4,177.65 325.95,178.96 326.5,180.01 327.05,181.73 327.6,176.36 328.15,179.7 328.7,183.87 329.25,182.37 329.8,181.18 330.35,178.24 330.9,183.36 331.45,183.02 332,189.02 332.55,182.54 333.1,187.01 333.65,176.8 334.2,190.87 334.75,176.83 335.3,182.72 335.85,181.56 336.4,180.65 336.95,181.97 337.5,181.08 338.05,184.09 338.6,184.97 339.15,189.02 339.7,189.59 340.25,192.08 340.8,186.46 341.35,180.85 341.9,194.73 342.45,187.27 343,176.1 343.55,188.49 344.1,184.55 344.65,182.13 345.2,182.74 345.75,185.85 346.3,182.07 346.85,186.93 347.4,185.24 347.95,185.33 348.5,188.32 349.05,187.92 349.6,193.79 350.15,188.87 350.7,182.58 351.25,187.12 351.8,194.82 352.35,195 352.9,183.88 353.45,190.64 354,185.66 354.55,186.68 355.1,181.1 355.65,180.81 356.2,186.93 356.75,189.5 357.3,190.76 357.85,184.76 358.4,187.71 358.95,189.44 359.5,188.3 360.05,180.23 360.6,184.53 361.15,189.84 361.7,192.1 362.25,185.48 362.8,194.36 363.35,181.01 363.9,195.66 364.45,186.89 365,190.22 365.55,186.1 366.1,185.07 366.65,189.12 367.2,190.92 367.75,185.7 368.3,194.52 368.85,189.11 369.4,191.58 369.95,188.05 370.5,188.43 371.05,191.36 371.6,185.48 372.15,194.82 372.7,186.09" fill="none" stroke="#0c0cff" stroke-width="1.6" stroke-linejoin="round" clip-path="url(#cia)"/>
<polyline points="244,171.59 244.55,169.86 245.1,167.36 245.65,160.17 246.2,169.57 246.75,173.51 247.3,173.88 247.85,166.61 248.4,178.3 248.95,177.43 249.5,167.47 250.05,167.62 250.6,172.44 251.15,166.79 251.7,168.74 252.25,173.01 252.8,172.67 253.35,164.72 253.9,164.83 254.45,164.19 255,166.37 255.55,166.54 256.1,164.22 256.65,169.21 257.2,165.71 257.75,165.3 258.3,156.13 258.85,158.51 259.4,161.36 259.95,165.85 260.5,160.03 261.05,170.61 261.6,163.9 262.15,164 262.7,162.97 263.25,164.22 263.8,165.72 264.35,158.64 264.9,167.73 265.45,156.71 266,162.11 266.55,158.42 267.1,158.18 267.65,161.55 268.2,159.06 268.75,165.04 269.3,155.21 269.85,159.55 270.4,159.62 270.95,166.26 271.5,163.92 272.05,159.77 272.6,164.07 273.15,160.32 273.7,152.94 274.25,157.92 274.8,161.92 275.35,154.02 275.9,163.22 276.45,157.92 277,153.47 277.55,158.37 278.1,149.2 278.65,153.15 279.2,151.52 279.75,158.45 280.3,151.57 280.85,149.11 281.4,157.49 281.95,153.92 282.5,152.78 283.05,153.31 283.6,160.64 284.15,156.61 284.7,152.34 285.25,165.03 285.8,157.62 286.35,163.87 286.9,159.79 287.45,161.01 288,150.71 288.55,151.86 289.1,157.11 289.65,153.61 290.2,154.11 290.75,158.44 291.3,143.88 291.85,151.62 292.4,159.83 292.95,150.63 293.5,152.76 294.05,154.14 294.6,153.72 295.15,153.59 295.7,147.89 296.25,153.53 296.8,149.29 297.35,159.12 297.9,149.26 298.45,153.35 299,151.47 299.55,157.67 300.1,153.37 300.65,156.3 301.2,150.87 301.75,152.02 302.3,149.81 302.85,153.64 303.4,153.48 303.95,150 304.5,149.78 305.05,156.48 305.6,155.29 306.15,153.15 306.7,152.44 307.25,151.8 307.8,157.39 308.35,154.67 308.9,154.32 309.45,154.75 310,155.24 310.55,156.06 311.1,157.91 311.65,149.68 312.2,156.49 312.75,152.31 313.3,156.09 313.85,163.43 314.4,149.26 314.95,152.12 315.5,155.64 316.05,148.59 316.6,167.55 317.15,155.3 317.7,165.5 318.25,157.92 318.8,163.72 319.35,162.12 319.9,157.19 320.45,160.94 321,155.84 321.55,156.79 322.1,165.83 322.65,155.53 323.2,155.72 323.75,169.77 324.3,159.14 324.85,162.86 325.4,169.57 325.95,160.72 326.5,161.13 327.05,172.66 327.6,165.1 328.15,167.15 328.7,165.19 329.25,169.76 329.8,160.88 330.35,169.36 330.9,173.62 331.45,173.87 332,167.71 332.55,173.31 333.1,180.33 333.65,171.86 334.2,174.76 334.75,170.53 335.3,164.73 335.85,176.24 336.4,168.96 336.95,170.46 337.5,174.2 338.05,174.17 338.6,173.99 339.15,179.83 339.7,175.69 340.25,175.49 340.8,170.65 341.35,179.79 341.9,170.12 342.45,166.59 343,172.53 343.55,179.5 344.1,178.05 344.65,182.33 345.2,178.54 345.75,178.52 346.3,178.45 346.85,174.19 347.4,175.12 347.95,175.24 348.5,178.24 349.05,173.35 349.6,175.76 350.15,179.03 350.7,177.58 351.25,176.81 351.8,177.29 352.35,172.83 352.9,172.45 353.45,175.14 354,183.24 354.55,182.74 355.1,180.69 355.65,182.52 356.2,183.57 356.75,170.88 357.3,178.15 357.85,184.71 358.4,189.2 358.95,182.41 359.5,189.68 360.05,187.47 360.6,183.19 361.15,178.15 361.7,178.63 362.25,183.19 362.8,184.6 363.35,183.67 363.9,186.97 364.45,187.01 365,184.84 365.55,186.78 366.1,186.31 366.65,176.64 367.2,179.51 367.75,186.82 368.3,188.98 368.85,186.11 369.4,184.47 369.95,186.86 370.5,188.09 371.05,186.91 371.6,177.3 372.15,187.74 372.7,189.67" fill="none" stroke="#0cf6f6" stroke-width="1.6" stroke-linejoin="round" clip-path="url(#cia)"/>
<text x="289" y="213.2" font-size="9.8" font-weight="bold" text-anchor="middle" fill="#111">600</text>
<text x="352.7" y="213.2" font-size="9.8" font-weight="bold" text-anchor="middle" fill="#111">700</text>
<text x="300.9" y="7.6" font-size="8.6" font-weight="normal" text-anchor="middle" fill="#333">Defect peak</text>
<text x="376.9" y="90.5" font-size="10" font-weight="normal" text-anchor="start" fill="#222">P</text>
<text x="382.6" y="92.8" font-size="6.8" font-weight="normal" text-anchor="start" fill="#222">ECWR</text>
<text x="379.4" y="124" font-size="10.6" font-weight="normal" text-anchor="start" fill="#111">0W</text>
<text x="376.4" y="136.9" font-size="10.6" font-weight="normal" text-anchor="start" fill="#c8202a">100W</text>
<text x="374.8" y="180.7" font-size="10.6" font-weight="normal" text-anchor="start" fill="#3cb4ee">380W</text>
<text x="374.8" y="191.9" font-size="10.6" font-weight="normal" text-anchor="start" fill="#2f7dcc">300W</text>
<text x="374.8" y="204.6" font-size="10.6" font-weight="normal" text-anchor="start" fill="#27ae55">200W</text>
<rect x="57.5" y="225" width="269.5" height="33.6" fill="#000"/>
<rect x="55.5" y="222.4" width="268.6" height="33.1" fill="#fff" stroke="#666" stroke-width="0.9"/>
<line x1="82" y1="231.8" x2="103.5" y2="231.8" stroke="#000000" stroke-width="1.3"/>
<text x="106.8" y="234.4" font-size="8.0" font-weight="bold" text-anchor="start" fill="#111">P</text>
<text x="112.2" y="237.8" font-size="4.5" font-weight="bold" text-anchor="start" fill="#111">ECWR</text>
<text x="129.7" y="234.4" font-size="7.8" font-weight="bold" text-anchor="start" fill="#111">0W</text>
<line x1="154.5" y1="231.8" x2="176" y2="231.8" stroke="#ff0d0d" stroke-width="1.3"/>
<text x="179.3" y="234.4" font-size="8.0" font-weight="bold" text-anchor="start" fill="#111">P</text>
<text x="184.7" y="237.8" font-size="4.5" font-weight="bold" text-anchor="start" fill="#111">ECWR</text>
<text x="202.2" y="234.4" font-size="7.8" font-weight="bold" text-anchor="start" fill="#111">100W</text>
<line x1="82" y1="244.2" x2="103.5" y2="244.2" stroke="#12ee12" stroke-width="1.3"/>
<text x="106.8" y="246.8" font-size="8.0" font-weight="bold" text-anchor="start" fill="#111">P</text>
<text x="112.2" y="250.2" font-size="4.5" font-weight="bold" text-anchor="start" fill="#111">ECWR</text>
<text x="129.7" y="246.8" font-size="7.8" font-weight="bold" text-anchor="start" fill="#111">200W</text>
<line x1="154.5" y1="244.2" x2="176" y2="244.2" stroke="#0c0cff" stroke-width="1.3"/>
<text x="179.3" y="246.8" font-size="8.0" font-weight="bold" text-anchor="start" fill="#111">P</text>
<text x="184.7" y="250.2" font-size="4.5" font-weight="bold" text-anchor="start" fill="#111">ECWR</text>
<text x="202.2" y="246.8" font-size="7.8" font-weight="bold" text-anchor="start" fill="#111">300W</text>
<line x1="228" y1="244.2" x2="249.5" y2="244.2" stroke="#0cf6f6" stroke-width="1.3"/>
<text x="252.8" y="246.8" font-size="8.0" font-weight="bold" text-anchor="start" fill="#111">P</text>
<text x="258.2" y="250.2" font-size="4.5" font-weight="bold" text-anchor="start" fill="#111">ECWR</text>
<text x="275.7" y="246.8" font-size="7.8" font-weight="bold" text-anchor="start" fill="#111">380W</text>
<clipPath id="cc"><rect x="46.1" y="280.3" width="188.3" height="142.1"/></clipPath>
<polyline points="45.5,419.1 46,419.1 46.5,419.1 47,419.1 47.5,419.1 48,419.1 48.5,419.1 49,419.1 49.5,419.09 50,419.09 50.5,419.09 51,419.09 51.5,419.09 52,419.08 52.5,419.08 53,419.08 53.5,419.07 54,419.07 54.5,419.06 55,419.06 55.5,419.06 56,419.05 56.5,419.05 57,419.04 57.5,419.03 58,419.03 58.5,419.02 59,419.01 59.5,419.01 60,419 60.5,418.99 61,418.97 61.5,418.93 62,418.89 62.5,418.84 63,418.77 63.5,418.69 64,418.6 64.5,418.42 65,418.08 65.5,417.6 66,417 66.5,416.1 67,414.66 67.5,412.65 68,410 68.5,403.77 69,393.04 69.5,380.78 70,370 70.5,360.7 71,351.87 71.5,345 72,339.49 72.5,334.91 73,333 73.5,333.88 74,336.31 74.5,340 75,350 75.5,356.21 76,361.07 76.5,365.4 77,370 77.5,375.36 78,380.95 78.5,386.07 79,390 79.5,392.99 80,395.62 80.5,397.7 81,399 81.5,399.75 82,400.32 82.5,400.77 83,401.16 83.5,401.55 84,402 84.5,402.51 85,403.03 85.5,403.56 86,404.1 86.5,404.64 87,405.17 87.5,405.69 88,406.2 88.5,406.69 89,407.15 89.5,407.59 90,408 90.5,408.38 91,408.75 91.5,409.11 92,409.46 92.5,409.79 93,410.12 93.5,410.44 94,410.74 94.5,411.05 95,411.34 95.5,411.63 96,411.91 96.5,412.19 97,412.46 97.5,412.73 98,413 98.5,413.27 99,413.55 99.5,413.84 100,414.13 100.5,414.42 101,414.72 101.5,415.01 102,415.29 102.5,415.57 103,415.84 103.5,416.11 104,416.35 104.5,416.58 105,416.8 105.5,416.99 106,417.17 106.5,417.32 107,417.44 107.5,417.54 108,417.6 108.5,417.65 109,417.69 109.5,417.74 110,417.78 110.5,417.82 111,417.85 111.5,417.89 112,417.91 112.5,417.94 113,417.96 113.5,417.98 114,417.99 114.5,418 115,418 115.5,417.99 116,417.98 116.5,417.95 117,417.91 117.5,417.87 118,417.81 118.5,417.75 119,417.68 119.5,417.6 120,417.52 120.5,417.44 121,417.35 121.5,417.26 122,417.17 122.5,417.07 123,416.98 123.5,416.88 124,416.78 124.5,416.69 125,416.6 125.5,416.51 126,416.41 126.5,416.3 127,416.19 127.5,416.08 128,415.96 128.5,415.83 129,415.7 129.5,415.57 130,415.44 130.5,415.3 131,415.16 131.5,415.01 132,414.87 132.5,414.72 133,414.57 133.5,414.43 134,414.28 134.5,414.13 135,413.98 135.5,413.83 136,413.69 136.5,413.54 137,413.4 137.5,413.26 138,413.12 138.5,412.99 139,412.85 139.5,412.72 140,412.6 140.5,412.48 141,412.35 141.5,412.22 142,412.09 142.5,411.96 143,411.83 143.5,411.7 144,411.57 144.5,411.44 145,411.31 145.5,411.18 146,411.05 146.5,410.92 147,410.79 147.5,410.67 148,410.54 148.5,410.42 149,410.3 149.5,410.19 150,410.08 150.5,409.97 151,409.86 151.5,409.76 152,409.67 152.5,409.57 153,409.49 153.5,409.41 154,409.33 154.5,409.26 155,409.2 155.5,409.14 156,409.08 156.5,409.02 157,408.96 157.5,408.9 158,408.84 158.5,408.78 159,408.73 159.5,408.67 160,408.62 160.5,408.57 161,408.52 161.5,408.47 162,408.43 162.5,408.39 163,408.35 163.5,408.32 164,408.29 164.5,408.26 165,408.24 165.5,408.22 166,408.21 166.5,408.2 167,408.2 167.5,408.2 168,408.21 168.5,408.22 169,408.23 169.5,408.24 170,408.26 170.5,408.28 171,408.3 171.5,408.33 172,408.35 172.5,408.38 173,408.42 173.5,408.45 174,408.48 174.5,408.52 175,408.56 175.5,408.6 176,408.64 176.5,408.68 177,408.73 177.5,408.77 178,408.82 178.5,408.86 179,408.91 179.5,408.95 180,409 180.5,409.05 181,409.11 181.5,409.17 182,409.25 182.5,409.32 183,409.41 183.5,409.5 184,409.59 184.5,409.69 185,409.8 185.5,409.9 186,410.01 186.5,410.12 187,410.24 187.5,410.36 188,410.47 188.5,410.59 189,410.71 189.5,410.83 190,410.95 190.5,411.07 191,411.18 191.5,411.3 192,411.41 192.5,411.52 193,411.62 193.5,411.72 194,411.82 194.5,411.91 195,412 195.5,412.09 196,412.18 196.5,412.27 197,412.36 197.5,412.46 198,412.55 198.5,412.65 199,412.74 199.5,412.83 200,412.92 200.5,413.01 201,413.09 201.5,413.16 202,413.24 202.5,413.3 203,413.36 203.5,413.41 204,413.45 204.5,413.48 205,413.5 205.5,413.52 206,413.53 206.5,413.55 207,413.56 207.5,413.57 208,413.58 208.5,413.59 209,413.59 209.5,413.6 210,413.6 210.5,413.58 211,413.54 211.5,413.47 212,413.4 212.5,413.33 213,413.26 213.5,413.22 214,413.2 214.5,413.22 215,413.27 215.5,413.36 216,413.47 216.5,413.6 217,413.76 217.5,413.93 218,414.11 218.5,414.3 219,414.49 219.5,414.68 220,414.87 220.5,415.05 221,415.22 221.5,415.37 222,415.5 222.5,415.62 223,415.74 223.5,415.86 224,415.97 224.5,416.09 225,416.2 225.5,416.31 226,416.42 226.5,416.53 227,416.64 227.5,416.75 228,416.85 228.5,416.95 229,417.05 229.5,417.15 230,417.25 230.5,417.34 231,417.43 231.5,417.52 232,417.61 232.5,417.7 233,417.78 233.5,417.86 234,417.94" fill="none" stroke="#000000" stroke-width="1.1" stroke-linejoin="round" clip-path="url(#cc)"/>
<polyline points="45.5,419.1 46,419.1 46.5,419.1 47,419.1 47.5,419.1 48,419.1 48.5,419.1 49,419.1 49.5,419.09 50,419.09 50.5,419.09 51,419.09 51.5,419.09 52,419.08 52.5,419.08 53,419.08 53.5,419.07 54,419.07 54.5,419.06 55,419.06 55.5,419.06 56,419.05 56.5,419.05 57,419.04 57.5,419.03 58,419.03 58.5,419.02 59,419.01 59.5,419.01 60,419 60.5,418.99 61,418.97 61.5,418.93 62,418.89 62.5,418.84 63,418.77 63.5,418.69 64,418.6 64.5,418.4 65,418 65.5,417.1 66,415.43 66.5,413.03 67,410 67.5,404.1 68,394.28 68.5,382.31 69,370 69.5,355.87 70,340.34 70.5,327.92 71,318.85 71.5,311 72,302.18 72.5,294.7 73,293.49 73.5,297.19 74,303.28 74.5,309.81 75,315.96 75.5,322.85 76,330 76.5,337.8 77,346.18 77.5,353.98 78,360 78.5,364.62 79,368.9 79.5,372.72 80,375.93 80.5,378.4 81,380 81.5,380.99 82,381.77 82.5,382.41 83,382.95 83.5,383.46 84,384 84.5,384.51 85,384.96 85.5,385.43 86,386 86.5,386.71 87,387.56 87.5,388.5 88,389.53 88.5,390.62 89,391.74 89.5,392.88 90,394 90.5,395.18 91,396.48 91.5,397.84 92,399.22 92.5,400.58 93,401.86 93.5,403.01 94,404 94.5,404.87 95,405.72 95.5,406.54 96,407.32 96.5,408.07 97,408.77 97.5,409.44 98,410.05 98.5,410.62 99,411.14 99.5,411.6 100,412 100.5,412.36 101,412.7 101.5,413.01 102,413.3 102.5,413.58 103,413.84 103.5,414.09 104,414.32 104.5,414.55 105,414.76 105.5,414.98 106,415.18 106.5,415.38 107,415.59 107.5,415.79 108,416 108.5,416.22 109,416.45 109.5,416.7 110,416.94 110.5,417.18 111,417.41 111.5,417.63 112,417.82 112.5,417.97 113,418.1 113.5,418.17 114,418.2 114.5,418.19 115,418.18 115.5,418.15 116,418.11 116.5,418.06 117,418 117.5,417.93 118,417.86 118.5,417.78 119,417.69 119.5,417.6 120,417.51 120.5,417.41 121,417.31 121.5,417.21 122,417.1 122.5,417 123,416.89 123.5,416.79 124,416.69 124.5,416.59 125,416.5 125.5,416.4 126,416.3 126.5,416.2 127,416.08 127.5,415.97 128,415.85 128.5,415.72 129,415.59 129.5,415.46 130,415.33 130.5,415.2 131,415.06 131.5,414.93 132,414.79 132.5,414.65 133,414.52 133.5,414.39 134,414.25 134.5,414.12 135,414 135.5,413.87 136,413.76 136.5,413.64 137,413.53 137.5,413.43 138,413.33 138.5,413.23 139,413.15 139.5,413.07 140,413 140.5,412.93 141,412.87 141.5,412.8 142,412.73 142.5,412.67 143,412.6 143.5,412.54 144,412.47 144.5,412.41 145,412.35 145.5,412.28 146,412.22 146.5,412.16 147,412.1 147.5,412.04 148,411.98 148.5,411.93 149,411.87 149.5,411.82 150,411.77 150.5,411.72 151,411.67 151.5,411.62 152,411.58 152.5,411.54 153,411.5 153.5,411.46 154,411.42 154.5,411.39 155,411.36 155.5,411.33 156,411.3 156.5,411.28 157,411.26 157.5,411.24 158,411.23 158.5,411.22 159,411.21 159.5,411.2 160,411.2 160.5,411.2 161,411.2 161.5,411.2 162,411.2 162.5,411.21 163,411.21 163.5,411.21 164,411.22 164.5,411.22 165,411.23 165.5,411.23 166,411.24 166.5,411.24 167,411.25 167.5,411.26 168,411.26 168.5,411.27 169,411.28 169.5,411.29 170,411.3 170.5,411.3 171,411.31 171.5,411.32 172,411.33 172.5,411.34 173,411.35 173.5,411.37 174,411.38 174.5,411.39 175,411.4 175.5,411.41 176,411.43 176.5,411.46 177,411.49 177.5,411.52 178,411.56 178.5,411.6 179,411.65 179.5,411.7 180,411.75 180.5,411.8 181,411.86 181.5,411.92 182,411.98 182.5,412.04 183,412.11 183.5,412.17 184,412.24 184.5,412.31 185,412.37 185.5,412.44 186,412.51 186.5,412.57 187,412.64 187.5,412.7 188,412.77 188.5,412.83 189,412.89 189.5,412.94 190,413 190.5,413.06 191,413.12 191.5,413.18 192,413.25 192.5,413.31 193,413.38 193.5,413.46 194,413.53 194.5,413.6 195,413.67 195.5,413.74 196,413.81 196.5,413.88 197,413.94 197.5,414 198,414.06 198.5,414.11 199,414.16 199.5,414.2 200,414.23 200.5,414.26 201,414.28 201.5,414.3 202,414.3 202.5,414.3 203,414.29 203.5,414.28 204,414.27 204.5,414.26 205,414.24 205.5,414.22 206,414.19 206.5,414.17 207,414.14 207.5,414.11 208,414.07 208.5,414.04 209,414 209.5,413.93 210,413.8 210.5,413.64 211,413.45 211.5,413.25 212,413.06 212.5,412.88 213,412.73 213.5,412.64 214,412.6 214.5,412.64 215,412.74 215.5,412.91 216,413.11 216.5,413.34 217,413.59 217.5,413.85 218,414.09 218.5,414.31 219,414.5 219.5,414.66 220,414.83 220.5,414.98 221,415.14 221.5,415.3 222,415.45 222.5,415.59 223,415.74 223.5,415.88 224,416.01 224.5,416.14 225,416.27 225.5,416.39 226,416.5 226.5,416.61 227,416.72 227.5,416.82 228,416.93 228.5,417.03 229,417.13 229.5,417.23 230,417.32 230.5,417.41 231,417.5 231.5,417.58 232,417.66 232.5,417.74 233,417.82 233.5,417.88 234,417.95" fill="none" stroke="#ff0d0d" stroke-width="1.1" stroke-linejoin="round" clip-path="url(#cc)"/>
<polyline points="45.5,419.1 46,419.1 46.5,419.1 47,419.1 47.5,419.1 48,419.1 48.5,419.1 49,419.1 49.5,419.09 50,419.09 50.5,419.09 51,419.09 51.5,419.09 52,419.08 52.5,419.08 53,419.08 53.5,419.07 54,419.07 54.5,419.06 55,419.06 55.5,419.06 56,419.05 56.5,419.05 57,419.04 57.5,419.03 58,419.03 58.5,419.02 59,419.01 59.5,419.01 60,419 60.5,418.99 61,418.97 61.5,418.93 62,418.89 62.5,418.84 63,418.77 63.5,418.69 64,418.6 64.5,418.42 65,418.08 65.5,417.6 66,417 66.5,416.09 67,414.65 67.5,412.63 68,410 68.5,404.02 69,393.85 69.5,382.25 70,372 70.5,363 71,354.43 71.5,348 72,343.22 72.5,339.71 73,339.18 73.5,340.88 74,343.73 74.5,347.64 75,354.41 75.5,362.5 76,370 76.5,377.05 77,384 77.5,389.28 78,392.36 78.5,394.78 79,396.75 79.5,398.44 80,400 80.5,401.53 81,402.93 81.5,404.13 82,405 82.5,405.64 83,406.21 83.5,406.71 84,407.16 84.5,407.56 85,407.93 85.5,408.27 86,408.61 86.5,408.93 87,409.27 87.5,409.62 88,410 88.5,410.4 89,410.82 89.5,411.25 90,411.68 90.5,412.12 91,412.56 91.5,412.99 92,413.41 92.5,413.81 93,414.21 93.5,414.58 94,414.93 94.5,415.25 95,415.53 95.5,415.79 96,416 96.5,416.19 97,416.38 97.5,416.56 98,416.74 98.5,416.91 99,417.07 99.5,417.23 100,417.38 100.5,417.52 101,417.65 101.5,417.78 102,417.89 102.5,417.99 103,418.08 103.5,418.15 104,418.22 104.5,418.27 105,418.3 105.5,418.33 106,418.35 106.5,418.38 107,418.4 107.5,418.42 108,418.44 108.5,418.47 109,418.48 109.5,418.5 110,418.52 110.5,418.53 111,418.55 111.5,418.56 112,418.57 112.5,418.58 113,418.59 113.5,418.59 114,418.6 114.5,418.6 115,418.6 115.5,418.6 116,418.6 116.5,418.6 117,418.59 117.5,418.59 118,418.58 118.5,418.58 119,418.57 119.5,418.57 120,418.56 120.5,418.55 121,418.54 121.5,418.53 122,418.52 122.5,418.51 123,418.5 123.5,418.49 124,418.47 124.5,418.46 125,418.45 125.5,418.44 126,418.42 126.5,418.41 127,418.39 127.5,418.38 128,418.36 128.5,418.35 129,418.33 129.5,418.32 130,418.3 130.5,418.29 131,418.27 131.5,418.25 132,418.24 132.5,418.22 133,418.21 133.5,418.19 134,418.17 134.5,418.16 135,418.14 135.5,418.13 136,418.11 136.5,418.1 137,418.08 137.5,418.07 138,418.05 138.5,418.04 139,418.03 139.5,418.01 140,418 140.5,417.99 141,417.97 141.5,417.96 142,417.95 142.5,417.93 143,417.92 143.5,417.9 144,417.89 144.5,417.87 145,417.85 145.5,417.84 146,417.82 146.5,417.8 147,417.79 147.5,417.77 148,417.75 148.5,417.74 149,417.72 149.5,417.7 150,417.68 150.5,417.67 151,417.65 151.5,417.63 152,417.62 152.5,417.6 153,417.58 153.5,417.57 154,417.55 154.5,417.53 155,417.52 155.5,417.5 156,417.49 156.5,417.47 157,417.46 157.5,417.45 158,417.43 158.5,417.42 159,417.41 159.5,417.39 160,417.38 160.5,417.37 161,417.36 161.5,417.35 162,417.34 162.5,417.34 163,417.33 163.5,417.32 164,417.32 164.5,417.31 165,417.31 165.5,417.3 166,417.3 166.5,417.3 167,417.3 167.5,417.3 168,417.3 168.5,417.3 169,417.31 169.5,417.31 170,417.31 170.5,417.32 171,417.33 171.5,417.33 172,417.34 172.5,417.35 173,417.35 173.5,417.36 174,417.37 174.5,417.38 175,417.39 175.5,417.4 176,417.42 176.5,417.43 177,417.44 177.5,417.45 178,417.47 178.5,417.48 179,417.49 179.5,417.51 180,417.52 180.5,417.54 181,417.55 181.5,417.57 182,417.58 182.5,417.6 183,417.62 183.5,417.63 184,417.65 184.5,417.67 185,417.68 185.5,417.7 186,417.71 186.5,417.73 187,417.75 187.5,417.76 188,417.78 188.5,417.8 189,417.81 189.5,417.83 190,417.85 190.5,417.86 191,417.88 191.5,417.9 192,417.91 192.5,417.93 193,417.94 193.5,417.96 194,417.97 194.5,417.99 195,418 195.5,418.01 196,418.03 196.5,418.05 197,418.07 197.5,418.09 198,418.11 198.5,418.13 199,418.15 199.5,418.17 200,418.18 200.5,418.2 201,418.22 201.5,418.24 202,418.25 202.5,418.27 203,418.28 203.5,418.29 204,418.29 204.5,418.3 205,418.3 205.5,418.28 206,418.24 206.5,418.17 207,418.09 207.5,417.98 208,417.86 208.5,417.73 209,417.59 209.5,417.45 210,417.31 210.5,417.17 211,417.04 211.5,416.92 212,416.81 212.5,416.73 213,416.66 213.5,416.62 214,416.6 214.5,416.63 215,416.71 215.5,416.83 216,416.98 216.5,417.15 217,417.34 217.5,417.53 218,417.71 218.5,417.88 219,418.03 219.5,418.13 220,418.2 220.5,418.24 221,418.28 221.5,418.31 222,418.35 222.5,418.38 223,418.42 223.5,418.45 224,418.48 224.5,418.51 225,418.54 225.5,418.56 226,418.59 226.5,418.61 227,418.64 227.5,418.66 228,418.68 228.5,418.69 229,418.71 229.5,418.73 230,418.74 230.5,418.75 231,418.76 231.5,418.77 232,418.78 232.5,418.79 233,418.79 233.5,418.8 234,418.8" fill="none" stroke="#12ee12" stroke-width="1.1" stroke-linejoin="round" clip-path="url(#cc)"/>
<polyline points="45.5,419.3 46,419.3 46.5,419.3 47,419.3 47.5,419.3 48,419.3 48.5,419.3 49,419.3 49.5,419.29 50,419.29 50.5,419.29 51,419.29 51.5,419.29 52,419.29 52.5,419.28 53,419.28 53.5,419.28 54,419.28 54.5,419.27 55,419.27 55.5,419.27 56,419.26 56.5,419.26 57,419.25 57.5,419.25 58,419.24 58.5,419.24 59,419.23 59.5,419.23 60,419.22 60.5,419.22 61,419.21 61.5,419.21 62,419.2 62.5,419.19 63,419.18 63.5,419.16 64,419.14 64.5,419.12 65,419.09 65.5,419.05 66,419 66.5,418.89 67,418.67 67.5,418.37 68,418 68.5,417.3 69,416.21 69.5,415.01 70,414 70.5,413.14 71,412.24 71.5,411.39 72,410.68 72.5,410.18 73,410 73.5,410.22 74,410.75 74.5,411.41 75,412 75.5,412.54 76,413.13 76.5,413.72 77,414.26 77.5,414.7 78,415 78.5,415.19 79,415.37 79.5,415.52 80,415.65 80.5,415.76 81,415.86 81.5,415.94 82,416 82.5,416.05 83,416.1 83.5,416.13 84,416.16 84.5,416.19 85,416.22 85.5,416.26 86,416.3 86.5,416.35 87,416.4 87.5,416.45 88,416.51 88.5,416.57 89,416.63 89.5,416.69 90,416.76 90.5,416.83 91,416.89 91.5,416.96 92,417.03 92.5,417.1 93,417.18 93.5,417.25 94,417.32 94.5,417.38 95,417.45 95.5,417.52 96,417.58 96.5,417.65 97,417.71 97.5,417.76 98,417.82 98.5,417.87 99,417.92 99.5,417.96 100,418 100.5,418.04 101,418.08 101.5,418.11 102,418.15 102.5,418.19 103,418.23 103.5,418.26 104,418.3 104.5,418.34 105,418.37 105.5,418.41 106,418.44 106.5,418.48 107,418.51 107.5,418.54 108,418.57 108.5,418.6 109,418.63 109.5,418.65 110,418.68 110.5,418.7 111,418.72 111.5,418.74 112,418.75 112.5,418.77 113,418.78 113.5,418.79 114,418.79 114.5,418.8 115,418.8 115.5,418.8 116,418.8 116.5,418.8 117,418.79 117.5,418.79 118,418.78 118.5,418.78 119,418.77 119.5,418.77 120,418.76 120.5,418.75 121,418.74 121.5,418.73 122,418.72 122.5,418.71 123,418.7 123.5,418.69 124,418.67 124.5,418.66 125,418.65 125.5,418.64 126,418.62 126.5,418.61 127,418.59 127.5,418.58 128,418.56 128.5,418.55 129,418.53 129.5,418.52 130,418.5 130.5,418.49 131,418.47 131.5,418.45 132,418.44 132.5,418.42 133,418.41 133.5,418.39 134,418.37 134.5,418.36 135,418.34 135.5,418.33 136,418.31 136.5,418.3 137,418.28 137.5,418.27 138,418.25 138.5,418.24 139,418.23 139.5,418.21 140,418.2 140.5,418.19 141,418.17 141.5,418.16 142,418.15 142.5,418.13 143,418.12 143.5,418.1 144,418.09 144.5,418.07 145,418.05 145.5,418.04 146,418.02 146.5,418 147,417.99 147.5,417.97 148,417.95 148.5,417.94 149,417.92 149.5,417.9 150,417.88 150.5,417.87 151,417.85 151.5,417.83 152,417.82 152.5,417.8 153,417.78 153.5,417.77 154,417.75 154.5,417.73 155,417.72 155.5,417.7 156,417.69 156.5,417.67 157,417.66 157.5,417.65 158,417.63 158.5,417.62 159,417.61 159.5,417.59 160,417.58 160.5,417.57 161,417.56 161.5,417.55 162,417.54 162.5,417.54 163,417.53 163.5,417.52 164,417.52 164.5,417.51 165,417.51 165.5,417.5 166,417.5 166.5,417.5 167,417.5 167.5,417.5 168,417.5 168.5,417.5 169,417.51 169.5,417.51 170,417.52 170.5,417.52 171,417.53 171.5,417.53 172,417.54 172.5,417.55 173,417.56 173.5,417.57 174,417.58 174.5,417.59 175,417.6 175.5,417.61 176,417.63 176.5,417.64 177,417.65 177.5,417.67 178,417.68 178.5,417.69 179,417.71 179.5,417.72 180,417.74 180.5,417.76 181,417.77 181.5,417.79 182,417.8 182.5,417.82 183,417.84 183.5,417.85 184,417.87 184.5,417.89 185,417.9 185.5,417.92 186,417.94 186.5,417.95 187,417.97 187.5,417.99 188,418 188.5,418.02 189,418.03 189.5,418.05 190,418.06 190.5,418.08 191,418.09 191.5,418.11 192,418.12 192.5,418.14 193,418.15 193.5,418.16 194,418.18 194.5,418.19 195,418.2 195.5,418.21 196,418.22 196.5,418.23 197,418.24 197.5,418.26 198,418.27 198.5,418.28 199,418.29 199.5,418.3 200,418.31 200.5,418.32 201,418.33 201.5,418.34 202,418.36 202.5,418.37 203,418.38 203.5,418.39 204,418.4 204.5,418.41 205,418.42 205.5,418.43 206,418.44 206.5,418.45 207,418.46 207.5,418.47 208,418.48 208.5,418.5 209,418.51 209.5,418.52 210,418.53 210.5,418.54 211,418.55 211.5,418.56 212,418.57 212.5,418.58 213,418.59 213.5,418.6 214,418.61 214.5,418.62 215,418.63 215.5,418.64 216,418.65 216.5,418.66 217,418.67 217.5,418.68 218,418.69 218.5,418.7 219,418.71 219.5,418.72 220,418.73 220.5,418.74 221,418.75 221.5,418.76 222,418.77 222.5,418.78 223,418.79 223.5,418.8 224,418.81 224.5,418.82 225,418.83 225.5,418.84 226,418.85 226.5,418.86 227,418.87 227.5,418.88 228,418.88 228.5,418.89 229,418.9 229.5,418.91 230,418.92 230.5,418.93 231,418.94 231.5,418.95 232,418.96 232.5,418.97 233,418.98 233.5,418.98 234,418.99" fill="none" stroke="#0c0cff" stroke-width="1.1" stroke-linejoin="round" clip-path="url(#cc)"/>
<polyline points="45.5,419.2 46,419.2 46.5,419.2 47,419.2 47.5,419.2 48,419.2 48.5,419.19 49,419.19 49.5,419.19 50,419.19 50.5,419.18 51,419.18 51.5,419.18 52,419.17 52.5,419.17 53,419.16 53.5,419.16 54,419.15 54.5,419.15 55,419.14 55.5,419.13 56,419.12 56.5,419.12 57,419.11 57.5,419.1 58,419.09 58.5,419.08 59,419.07 59.5,419.06 60,419.05 60.5,419.04 61,419.03 61.5,419.01 62,419 62.5,418.98 63,418.96 63.5,418.92 64,418.87 64.5,418.8 65,418.72 65.5,418.62 66,418.5 66.5,418 67,416.93 67.5,415.51 68,414 68.5,412.31 69,410 69.5,406.01 70,400.41 70.5,394.61 71,390 71.5,386.29 72,382.73 72.5,380.05 73,379 73.5,380 74,382.33 74.5,385 75,388.19 75.5,391.94 76,395 76.5,397.23 77,399.29 77.5,401.13 78,402.72 78.5,404.02 79,405 79.5,405.76 80,406.43 80.5,407.02 81,407.54 81.5,408.02 82,408.45 82.5,408.85 83,409.24 83.5,409.62 84,410 84.5,410.39 85,410.77 85.5,411.15 86,411.52 86.5,411.88 87,412.23 87.5,412.57 88,412.9 88.5,413.22 89,413.52 89.5,413.81 90,414.08 90.5,414.34 91,414.58 91.5,414.8 92,415 92.5,415.19 93,415.37 93.5,415.55 94,415.72 94.5,415.89 95,416.04 95.5,416.2 96,416.34 96.5,416.48 97,416.61 97.5,416.73 98,416.84 98.5,416.94 99,417.04 99.5,417.12 100,417.2 100.5,417.27 101,417.34 101.5,417.41 102,417.48 102.5,417.55 103,417.61 103.5,417.68 104,417.74 104.5,417.8 105,417.86 105.5,417.91 106,417.96 106.5,418.01 107,418.06 107.5,418.1 108,418.14 108.5,418.18 109,418.21 109.5,418.24 110,418.26 110.5,418.28 111,418.29 111.5,418.3 112,418.3 112.5,418.3 113,418.29 113.5,418.29 114,418.27 114.5,418.26 115,418.25 115.5,418.23 116,418.21 116.5,418.18 117,418.16 117.5,418.13 118,418.1 118.5,418.07 119,418.04 119.5,418.01 120,417.98 120.5,417.94 121,417.9 121.5,417.87 122,417.83 122.5,417.8 123,417.76 123.5,417.72 124,417.68 124.5,417.65 125,417.61 125.5,417.57 126,417.54 126.5,417.5 127,417.47 127.5,417.44 128,417.41 128.5,417.38 129,417.35 129.5,417.32 130,417.3 130.5,417.28 131,417.25 131.5,417.23 132,417.21 132.5,417.18 133,417.16 133.5,417.13 134,417.11 134.5,417.08 135,417.06 135.5,417.04 136,417.01 136.5,416.99 137,416.97 137.5,416.94 138,416.92 138.5,416.9 139,416.87 139.5,416.85 140,416.83 140.5,416.81 141,416.79 141.5,416.76 142,416.74 142.5,416.72 143,416.7 143.5,416.69 144,416.67 144.5,416.65 145,416.63 145.5,416.62 146,416.6 146.5,416.58 147,416.57 147.5,416.56 148,416.54 148.5,416.53 149,416.52 149.5,416.51 150,416.5 150.5,416.49 151,416.48 151.5,416.47 152,416.46 152.5,416.46 153,416.45 153.5,416.44 154,416.43 154.5,416.42 155,416.41 155.5,416.41 156,416.4 156.5,416.39 157,416.38 157.5,416.38 158,416.37 158.5,416.36 159,416.36 159.5,416.35 160,416.34 160.5,416.34 161,416.33 161.5,416.33 162,416.32 162.5,416.32 163,416.32 163.5,416.31 164,416.31 164.5,416.31 165,416.3 165.5,416.3 166,416.3 166.5,416.3 167,416.3 167.5,416.3 168,416.3 168.5,416.31 169,416.31 169.5,416.31 170,416.32 170.5,416.33 171,416.34 171.5,416.35 172,416.36 172.5,416.37 173,416.38 173.5,416.39 174,416.4 174.5,416.42 175,416.43 175.5,416.45 176,416.46 176.5,416.48 177,416.5 177.5,416.51 178,416.53 178.5,416.55 179,416.57 179.5,416.59 180,416.61 180.5,416.63 181,416.65 181.5,416.67 182,416.69 182.5,416.71 183,416.73 183.5,416.75 184,416.77 184.5,416.79 185,416.81 185.5,416.83 186,416.85 186.5,416.87 187,416.89 187.5,416.91 188,416.93 188.5,416.95 189,416.96 189.5,416.98 190,417 190.5,417.02 191,417.04 191.5,417.05 192,417.07 192.5,417.09 193,417.11 193.5,417.13 194,417.15 194.5,417.17 195,417.19 195.5,417.21 196,417.23 196.5,417.25 197,417.27 197.5,417.3 198,417.32 198.5,417.34 199,417.36 199.5,417.38 200,417.4 200.5,417.42 201,417.45 201.5,417.47 202,417.49 202.5,417.51 203,417.53 203.5,417.55 204,417.57 204.5,417.59 205,417.61 205.5,417.63 206,417.65 206.5,417.67 207,417.69 207.5,417.71 208,417.73 208.5,417.75 209,417.77 209.5,417.78 210,417.8 210.5,417.82 211,417.83 211.5,417.85 212,417.87 212.5,417.88 213,417.9 213.5,417.92 214,417.93 214.5,417.95 215,417.96 215.5,417.98 216,418 216.5,418.01 217,418.03 217.5,418.04 218,418.06 218.5,418.07 219,418.09 219.5,418.1 220,418.12 220.5,418.13 221,418.15 221.5,418.16 222,418.18 222.5,418.19 223,418.21 223.5,418.22 224,418.24 224.5,418.25 225,418.26 225.5,418.28 226,418.29 226.5,418.3 227,418.32 227.5,418.33 228,418.34 228.5,418.36 229,418.37 229.5,418.38 230,418.4 230.5,418.41 231,418.42 231.5,418.43 232,418.44 232.5,418.46 233,418.47 233.5,418.48 234,418.49" fill="none" stroke="#0cf6f6" stroke-width="1.1" stroke-linejoin="round" clip-path="url(#cc)"/>
<text x="46.1" y="429.2" font-size="8.0" font-weight="bold" text-anchor="middle" fill="#111">300</text>
<text x="83.76" y="429.2" font-size="8.0" font-weight="bold" text-anchor="middle" fill="#111">400</text>
<text x="121.42" y="429.2" font-size="8.0" font-weight="bold" text-anchor="middle" fill="#111">500</text>
<text x="159.08" y="429.2" font-size="8.0" font-weight="bold" text-anchor="middle" fill="#111">600</text>
<text x="196.74" y="429.2" font-size="8.0" font-weight="bold" text-anchor="middle" fill="#111">700</text>
<text x="234.4" y="429.2" font-size="8.0" font-weight="bold" text-anchor="middle" fill="#111">800</text>
<text x="43" y="421" font-size="7.9" font-weight="bold" text-anchor="end" fill="#111">0.0</text>
<text x="38.4" y="406.04" font-size="7.9" font-weight="bold" text-anchor="end" fill="#111">2.0x10</text>
<text x="40.2" y="402.44" font-size="4.8" font-weight="normal" text-anchor="start" fill="#111">3</text>
<text x="38.4" y="389.67" font-size="7.9" font-weight="bold" text-anchor="end" fill="#111">4.0x10</text>
<text x="40.2" y="386.07" font-size="4.8" font-weight="normal" text-anchor="start" fill="#111">3</text>
<text x="38.4" y="373.31" font-size="7.9" font-weight="bold" text-anchor="end" fill="#111">6.0x10</text>
<text x="40.2" y="369.71" font-size="4.8" font-weight="normal" text-anchor="start" fill="#111">3</text>
<text x="38.4" y="356.94" font-size="7.9" font-weight="bold" text-anchor="end" fill="#111">8.0x10</text>
<text x="40.2" y="353.34" font-size="4.8" font-weight="normal" text-anchor="start" fill="#111">3</text>
<text x="38.4" y="340.58" font-size="7.9" font-weight="bold" text-anchor="end" fill="#111">1.0x10</text>
<text x="40.2" y="336.98" font-size="4.8" font-weight="normal" text-anchor="start" fill="#111">4</text>
<text x="38.4" y="324.21" font-size="7.9" font-weight="bold" text-anchor="end" fill="#111">1.2x10</text>
<text x="40.2" y="320.61" font-size="4.8" font-weight="normal" text-anchor="start" fill="#111">4</text>
<text x="38.4" y="307.85" font-size="7.9" font-weight="bold" text-anchor="end" fill="#111">1.4x10</text>
<text x="40.2" y="304.25" font-size="4.8" font-weight="normal" text-anchor="start" fill="#111">4</text>
<text x="38.4" y="291.48" font-size="7.9" font-weight="bold" text-anchor="end" fill="#111">1.6x10</text>
<text x="40.2" y="287.88" font-size="4.8" font-weight="normal" text-anchor="start" fill="#111">4</text>
<text x="136.8" y="441.5" font-size="10.3" font-weight="bold" text-anchor="middle" fill="#111">Wavelength (nm)</text>
<text x="9.9" y="346.8" font-size="11.27" font-weight="bold" text-anchor="middle" fill="#111" transform="rotate(-90 9.9 346.8)">Intensity (arb. unit)</text>
<text x="10.8" y="274.5" font-size="10.7" font-weight="bold" text-anchor="start" fill="#111">(c)</text>
<rect x="112.9" y="399.7" width="89.2" height="22.5" fill="none" stroke="#16303f" stroke-width="2.2" stroke-dasharray="9.7 8.4"/>
<line x1="202" y1="398.5" x2="244.2" y2="289" stroke="#222" stroke-width="0.8"/>
<line x1="203" y1="421.6" x2="244.5" y2="445.6" stroke="#222" stroke-width="0.8"/>
<clipPath id="cic"><rect x="244.4" y="287.4" width="98" height="158.6"/></clipPath>
<polyline points="243,414.32 243.6,414.43 244.2,414.38 244.8,413.45 245.4,413.97 246,413.48 246.6,413.44 247.2,412.92 247.8,413.02 248.4,411.75 249,412.62 249.6,412 250.2,410.79 250.8,410.94 251.4,410.39 252,408.92 252.6,409.45 253.2,408.34 253.8,407.8 254.4,406.85 255,406.03 255.6,405.27 256.2,404.23 256.8,402.36 257.4,401.76 258,400.06 258.6,398.84 259.2,397.93 259.8,397.01 260.4,395.32 261,393.07 261.6,391.23 262.2,389.31 262.8,387.83 263.4,386.22 264,383.82 264.6,382.14 265.2,379.99 265.8,378.58 266.4,375.11 267,373.2 267.6,372.18 268.2,370.67 268.8,368.3 269.4,366.76 270,364.12 270.6,362.13 271.2,360.36 271.8,359.02 272.4,356.91 273,354.26 273.6,352.72 274.2,350.5 274.8,349.05 275.4,346.82 276,345.61 276.6,343.65 277.2,342.33 277.8,340.46 278.4,338.82 279,337.71 279.6,336.01 280.2,334.7 280.8,333.06 281.4,332.11 282,330.09 282.6,329.44 283.2,328.34 283.8,326.27 284.4,325.83 285,324.63 285.6,322.61 286.2,320.51 286.8,319.12 287.4,318.54 288,318.21 288.6,316.5 289.2,315.46 289.8,313.92 290.4,312.66 291,312.18 291.6,310.59 292.2,310.13 292.8,309.58 293.4,308.52 294,307.9 294.6,306.65 295.2,306.34 295.8,305.52 296.4,303.91 297,303.56 297.6,303.15 298.2,303.29 298.8,302.74 299.4,302.42 300,302.07 300.6,301.99 301.2,301.85 301.8,300.92 302.4,300.22 303,301.04 303.6,300.47 304.2,300.46 304.8,300.27 305.4,299.8 306,299.65 306.6,300.93 307.2,301.28 307.8,301.59 308.4,301.72 309,302.27 309.6,302.51 310.2,303.29 310.8,303.64 311.4,304.13 312,305.08 312.6,306.43 313.2,305.55 313.8,307.45 314.4,308.3 315,308.3 315.6,309.86 316.2,310.65 316.8,311.29 317.4,312.18 318,312.67 318.6,314.99 319.2,316.11 319.8,316.83 320.4,316.97 321,318.24 321.6,319.32 322.2,319.85 322.8,321.2 323.4,322.69 324,323.44 324.6,324.05 325.2,325.53 325.8,327.6 326.4,328.91 327,330.62 327.6,333.14 328.2,334.38 328.8,335.79 329.4,337.79 330,340.35 330.6,340.3 331.2,342.78 331.8,343.59 332.4,343.7 333,344.41 333.6,346.02 334.2,346.44 334.8,347.14 335.4,349.31 336,349.72 336.6,350.97 337.2,352.01 337.8,353.03 338.4,354.41 339,355.39 339.6,357 340.2,358.47 340.8,359.72 341.4,361.03 342,362.43 342.6,363.39 343.2,364.07" fill="none" stroke="#000000" stroke-width="1.2" stroke-linejoin="round" clip-path="url(#cic)"/>
<polyline points="243,415.91 243.6,415.64 244.2,415.09 244.8,415.17 245.4,414.35 246,413.58 246.6,414.93 247.2,414.15 247.8,412.77 248.4,412.97 249,412.92 249.6,413.08 250.2,413.25 250.8,412.5 251.4,411.86 252,411.94 252.6,411.29 253.2,411.11 253.8,410.33 254.4,409.67 255,410.35 255.6,409.11 256.2,408.71 256.8,407.74 257.4,407.04 258,406.36 258.6,405.99 259.2,405.37 259.8,404.15 260.4,402.7 261,402.91 261.6,401.32 262.2,400.33 262.8,398.59 263.4,397.55 264,396.63 264.6,394.16 265.2,393.1 265.8,392.06 266.4,391.21 267,388.81 267.6,386.49 268.2,384.76 268.8,384.12 269.4,381.73 270,380.42 270.6,380.01 271.2,377.76 271.8,376.2 272.4,374.67 273,374.29 273.6,372.98 274.2,370.77 274.8,369.13 275.4,368.39 276,367.73 276.6,365.96 277.2,363.83 277.8,363.12 278.4,361.85 279,359.9 279.6,358.31 280.2,356.53 280.8,354.65 281.4,353.04 282,351.38 282.6,350.31 283.2,348.96 283.8,348.87 284.4,347.85 285,346.66 285.6,345.88 286.2,344.81 286.8,343.6 287.4,343.24 288,342.28 288.6,341.66 289.2,340.23 289.8,340.4 290.4,340.37 291,339.6 291.6,338.96 292.2,338.24 292.8,338.31 293.4,338.93 294,337.72 294.6,338.22 295.2,337.31 295.8,337.81 296.4,336.94 297,337.19 297.6,337.17 298.2,337.01 298.8,336.19 299.4,336.35 300,336.02 300.6,336.28 301.2,336.16 301.8,336.18 302.4,336.62 303,335.98 303.6,336.25 304.2,336.54 304.8,336.93 305.4,336.93 306,337.78 306.6,337.33 307.2,338.88 307.8,338.39 308.4,339.2 309,338.51 309.6,339.2 310.2,339.77 310.8,340.9 311.4,340.57 312,341.63 312.6,341.1 313.2,342.57 313.8,342.08 314.4,342.1 315,342.54 315.6,344.06 316.2,344.44 316.8,345.23 317.4,345.68 318,346.58 318.6,347.81 319.2,347.76 319.8,348.82 320.4,349.41 321,349.73 321.6,351.34 322.2,353.13 322.8,353.08 323.4,355.38 324,355.71 324.6,356.66 325.2,357.85 325.8,358.4 326.4,359.39 327,360.97 327.6,361.06 328.2,362.36 328.8,362.96 329.4,364.63 330,366.65 330.6,367.47 331.2,367.74 331.8,368.61 332.4,370.9 333,372.2 333.6,372.82 334.2,374.87 334.8,375.57 335.4,376.76 336,377.83 336.6,379.01 337.2,379.33 337.8,380.21 338.4,382.12 339,382.4 339.6,382.86 340.2,384.5 340.8,385.03 341.4,386.27 342,387.89 342.6,388.64 343.2,388.45" fill="none" stroke="#ff0d0d" stroke-width="1.2" stroke-linejoin="round" clip-path="url(#cic)"/>
<polyline points="243,436.24 243.6,435.48 244.2,435.99 244.8,435.48 245.4,434.34 246,435.71 246.6,434.88 247.2,435.13 247.8,435.69 248.4,434.58 249,433.6 249.6,433.67 250.2,434.51 250.8,432.86 251.4,433.72 252,433.62 252.6,432.54 253.2,433.16 253.8,433.22 254.4,432.26 255,432.27 255.6,432.72 256.2,431.45 256.8,431.53 257.4,432.47 258,431.79 258.6,430.72 259.2,431.42 259.8,432.41 260.4,430.18 261,431.42 261.6,431.22 262.2,430.5 262.8,430.81 263.4,429.88 264,431.06 264.6,431 265.2,429.28 265.8,429.52 266.4,429.57 267,428.96 267.6,429.38 268.2,428.39 268.8,429.2 269.4,428.52 270,428.52 270.6,428.67 271.2,428.79 271.8,427.49 272.4,428.41 273,428.31 273.6,427.57 274.2,428.41 274.8,426.88 275.4,426.87 276,427.29 276.6,426.51 277.2,427.62 277.8,426.76 278.4,427.54 279,425.73 279.6,425.65 280.2,426.86 280.8,425.27 281.4,426.39 282,425.1 282.6,425.58 283.2,425.97 283.8,425.08 284.4,424.28 285,424.54 285.6,425.39 286.2,424.7 286.8,424.91 287.4,424.44 288,424.49 288.6,424.15 289.2,423.61 289.8,424.53 290.4,424.31 291,423.03 291.6,424.25 292.2,424.86 292.8,425.49 293.4,423.57 294,424.51 294.6,424.85 295.2,425.04 295.8,424.25 296.4,425.06 297,424.6 297.6,424.91 298.2,424.72 298.8,425.32 299.4,425 300,425.51 300.6,425.38 301.2,426.07 301.8,426.63 302.4,425.67 303,425.37 303.6,425.78 304.2,425.71 304.8,425.15 305.4,426.28 306,426.09 306.6,427.06 307.2,426.57 307.8,427.33 308.4,427.37 309,426.75 309.6,426.99 310.2,427.02 310.8,427.2 311.4,428.11 312,427.45 312.6,427.66 313.2,427.58 313.8,429.04 314.4,428.14 315,428.4 315.6,428.13 316.2,428.93 316.8,428.47 317.4,428.69 318,428.02 318.6,428.41 319.2,429.66 319.8,430.16 320.4,428.87 321,430.12 321.6,430.3 322.2,431.63 322.8,429.93 323.4,430.29 324,430.23 324.6,431.53 325.2,431.84 325.8,431.23 326.4,432.48 327,433.02 327.6,431.66 328.2,432.46 328.8,432.21 329.4,432.14 330,432.44 330.6,432.78 331.2,432.35 331.8,433.28 332.4,434.02 333,433.2 333.6,433.67 334.2,433.66 334.8,434.65 335.4,434.59 336,435.44 336.6,434.93 337.2,434.47 337.8,435.93 338.4,435.66 339,436.77 339.6,436.76 340.2,435.32 340.8,435.64 341.4,437.1 342,436.89 342.6,436.35 343.2,437.54" fill="none" stroke="#12ee12" stroke-width="1.2" stroke-linejoin="round" clip-path="url(#cic)"/>
<polyline points="243,434.98 243.6,434.07 244.2,435.9 244.8,434.75 245.4,434.66 246,433.96 246.6,433.92 247.2,433.89 247.8,433.61 248.4,432.92 249,433.45 249.6,433.17 250.2,432.59 250.8,432.02 251.4,431.71 252,431.42 252.6,431.98 253.2,431.39 253.8,431.91 254.4,430.65 255,431.4 255.6,430.78 256.2,430.21 256.8,430.97 257.4,430.23 258,430.41 258.6,430.39 259.2,429.84 259.8,429.06 260.4,429.27 261,429.58 261.6,428.42 262.2,428.94 262.8,428.33 263.4,427.98 264,427.77 264.6,427.29 265.2,427.62 265.8,427.84 266.4,426.26 267,427.05 267.6,427.26 268.2,426.74 268.8,427.26 269.4,426.18 270,426.94 270.6,426.84 271.2,426.44 271.8,425.62 272.4,426.97 273,425.63 273.6,425.93 274.2,424.91 274.8,424.93 275.4,425.44 276,424.25 276.6,425.2 277.2,425.84 277.8,423.83 278.4,424.37 279,424.91 279.6,424.05 280.2,424.6 280.8,424.05 281.4,422.8 282,422.4 282.6,423.33 283.2,423.87 283.8,422.67 284.4,423.77 285,421.95 285.6,423.16 286.2,422.54 286.8,422.48 287.4,422.25 288,421.99 288.6,422.28 289.2,421.63 289.8,422.82 290.4,421.58 291,422.64 291.6,421.66 292.2,421.52 292.8,422.71 293.4,422.58 294,422.44 294.6,423.5 295.2,422.02 295.8,423.08 296.4,422.76 297,423.64 297.6,422.02 298.2,422.49 298.8,422.44 299.4,422.28 300,421.95 300.6,422.76 301.2,422.78 301.8,422.45 302.4,422.9 303,422.06 303.6,423.98 304.2,423.49 304.8,423.36 305.4,423.72 306,423.14 306.6,423.01 307.2,423.13 307.8,423.07 308.4,423.32 309,424.29 309.6,423.43 310.2,424.63 310.8,424.12 311.4,425.09 312,423.73 312.6,423.7 313.2,423.84 313.8,423.06 314.4,424.86 315,424.79 315.6,424.7 316.2,424.82 316.8,425.48 317.4,424.56 318,425.5 318.6,425.73 319.2,426.22 319.8,426.88 320.4,426.54 321,426.07 321.6,427.14 322.2,426.96 322.8,427.46 323.4,427.11 324,427.86 324.6,428.31 325.2,428.48 325.8,429.26 326.4,430.36 327,429.55 327.6,429.33 328.2,429.97 328.8,431.09 329.4,430.74 330,431.55 330.6,431.34 331.2,432.08 331.8,431.5 332.4,432.8 333,432.43 333.6,432.91 334.2,433.66 334.8,431.81 335.4,434.19 336,434.87 336.6,433.77 337.2,433.84 337.8,434.33 338.4,435.11 339,434.91 339.6,434.52 340.2,434.9 340.8,434.77 341.4,435.61 342,435.73 342.6,435.58 343.2,437.04" fill="none" stroke="#0c0cff" stroke-width="1.2" stroke-linejoin="round" clip-path="url(#cic)"/>
<polyline points="243,430.32 243.6,431.33 244.2,431.42 244.8,431 245.4,431.23 246,430.14 246.6,429.02 247.2,429.56 247.8,429.57 248.4,429.2 249,428.24 249.6,426.99 250.2,429.09 250.8,427.43 251.4,427.29 252,426.2 252.6,425.64 253.2,426.07 253.8,425.79 254.4,424.19 255,423.95 255.6,423.39 256.2,422.69 256.8,422.37 257.4,422.33 258,420.89 258.6,422.73 259.2,420.16 259.8,420.35 260.4,421.22 261,419.48 261.6,419.36 262.2,419.32 262.8,419.6 263.4,417.67 264,418.74 264.6,416.77 265.2,418.19 265.8,417.35 266.4,416.6 267,415.69 267.6,416.43 268.2,415.64 268.8,415.46 269.4,413.53 270,413.94 270.6,413.76 271.2,413.56 271.8,411.85 272.4,411.53 273,412.48 273.6,411.61 274.2,411.69 274.8,410.59 275.4,411.06 276,410.2 276.6,409.8 277.2,409.59 277.8,410.32 278.4,408.95 279,408.71 279.6,409.1 280.2,409.65 280.8,409.7 281.4,409.57 282,409.59 282.6,408.55 283.2,408.46 283.8,409.55 284.4,408.4 285,408.54 285.6,407.68 286.2,408.41 286.8,407.28 287.4,407.66 288,407.7 288.6,407.65 289.2,408.07 289.8,408.13 290.4,408.16 291,407.61 291.6,407.19 292.2,407.51 292.8,407.31 293.4,407.09 294,408.64 294.6,406.97 295.2,408.19 295.8,407.55 296.4,406.85 297,409.25 297.6,407.88 298.2,407.56 298.8,409.66 299.4,408.28 300,408.66 300.6,409.67 301.2,408.24 301.8,408.37 302.4,409.54 303,409.52 303.6,408.92 304.2,408.72 304.8,408.99 305.4,410.37 306,411.08 306.6,411.29 307.2,411.07 307.8,411.32 308.4,410.1 309,411.61 309.6,411.59 310.2,413.04 310.8,412.37 311.4,412.87 312,413.21 312.6,413.67 313.2,414.04 313.8,415.27 314.4,415.22 315,414.87 315.6,414.45 316.2,416.27 316.8,416.05 317.4,415.89 318,415.82 318.6,415.87 319.2,417.45 319.8,417.8 320.4,417.52 321,417.83 321.6,419.29 322.2,418.86 322.8,418.8 323.4,418.82 324,420.19 324.6,420.47 325.2,419.67 325.8,419.4 326.4,421.44 327,421.8 327.6,422.4 328.2,422.53 328.8,421.37 329.4,423.47 330,422.9 330.6,424.4 331.2,424.03 331.8,423.97 332.4,423.84 333,424.56 333.6,425.45 334.2,425.47 334.8,426.67 335.4,426.25 336,426.82 336.6,426.55 337.2,426.89 337.8,427.31 338.4,427.43 339,429 339.6,429.64 340.2,428.71 340.8,429.2 341.4,430.55 342,430.49 342.6,430.96 343.2,430.19" fill="none" stroke="#0cf6f6" stroke-width="1.2" stroke-linejoin="round" clip-path="url(#cic)"/>
<line x1="305.6" y1="408" x2="305.6" y2="418.7" stroke="#0cf6f6" stroke-width="0.9"/>
<line x1="330.7" y1="431" x2="330.7" y2="441.2" stroke="#12ee12" stroke-width="0.9"/>
<text x="252.1" y="458.2" font-size="8.6" font-weight="bold" text-anchor="middle" fill="#111">500</text>
<text x="272.55" y="458.2" font-size="8.6" font-weight="bold" text-anchor="middle" fill="#111">550</text>
<text x="293" y="458.2" font-size="8.6" font-weight="bold" text-anchor="middle" fill="#111">600</text>
<text x="313.45" y="458.2" font-size="8.6" font-weight="bold" text-anchor="middle" fill="#111">650</text>
<text x="333.9" y="458.2" font-size="8.6" font-weight="bold" text-anchor="middle" fill="#111">700</text>
<text x="287.3" y="277.1" font-size="9.0" font-weight="normal" text-anchor="middle" fill="#333">Defect peak</text>
<text x="350.4" y="300.8" font-size="10.5" font-weight="normal" text-anchor="start" fill="#222">P</text>
<text x="357.4" y="303.4" font-size="6.8" font-weight="normal" text-anchor="start" fill="#222">ECWR</text>
<text x="350.4" y="368" font-size="11" font-weight="normal" text-anchor="start" fill="#111">0W</text>
<text x="346" y="390.4" font-size="11" font-weight="normal" text-anchor="start" fill="#c8202a">100W</text>
<text x="343.8" y="418" font-size="11" font-weight="normal" text-anchor="start" fill="#3cb4ee">380W</text>
<text x="344.9" y="438.7" font-size="11" font-weight="normal" text-anchor="start" fill="#2f7dcc">300W</text>
<text x="346" y="450.7" font-size="11" font-weight="normal" text-anchor="start" fill="#27ae55">200W</text>
<text x="489.88" y="207.4" font-size="8.2" font-weight="bold" text-anchor="middle" fill="#111">0</text>
<text x="512.85" y="207.4" font-size="8.2" font-weight="bold" text-anchor="middle" fill="#111">50</text>
<text x="535.81" y="207.4" font-size="8.2" font-weight="bold" text-anchor="middle" fill="#111">100</text>
<text x="558.78" y="207.4" font-size="8.2" font-weight="bold" text-anchor="middle" fill="#111">150</text>
<text x="581.74" y="207.4" font-size="8.2" font-weight="bold" text-anchor="middle" fill="#111">200</text>
<text x="604.71" y="207.4" font-size="8.2" font-weight="bold" text-anchor="middle" fill="#111">250</text>
<text x="627.67" y="207.4" font-size="8.2" font-weight="bold" text-anchor="middle" fill="#111">300</text>
<text x="650.64" y="207.4" font-size="8.2" font-weight="bold" text-anchor="middle" fill="#111">350</text>
<text x="673.6" y="207.4" font-size="8.2" font-weight="bold" text-anchor="middle" fill="#111">400</text>
<text x="473" y="199.7" font-size="8.2" font-weight="bold" text-anchor="end" fill="#111">0</text>
<text x="473" y="181.65" font-size="8.2" font-weight="bold" text-anchor="end" fill="#111">200</text>
<text x="473" y="163.6" font-size="8.2" font-weight="bold" text-anchor="end" fill="#111">400</text>
<text x="473" y="145.55" font-size="8.2" font-weight="bold" text-anchor="end" fill="#111">600</text>
<text x="473" y="127.5" font-size="8.2" font-weight="bold" text-anchor="end" fill="#111">800</text>
<text x="473" y="109.45" font-size="8.2" font-weight="bold" text-anchor="end" fill="#111">1000</text>
<text x="473" y="91.4" font-size="8.2" font-weight="bold" text-anchor="end" fill="#111">1200</text>
<text x="473" y="73.35" font-size="8.2" font-weight="bold" text-anchor="end" fill="#111">1400</text>
<text x="473" y="55.3" font-size="8.2" font-weight="bold" text-anchor="end" fill="#111">1600</text>
<rect x="487.4" y="63.9" width="5.2" height="5.0" fill="#000"/>
<rect x="533" y="63.8" width="5.2" height="5.0" fill="#000"/>
<rect x="578.9" y="178" width="5.2" height="5.0" fill="#000"/>
<rect x="624.7" y="169.4" width="5.2" height="5.0" fill="#000"/>
<rect x="661.5" y="152.4" width="5.2" height="5.0" fill="#000"/>
<text x="556.8" y="218.6" font-size="10.7" font-weight="bold" text-anchor="start" fill="#111">P</text>
<text x="563.6" y="222.9" font-size="6.3" font-weight="bold" text-anchor="start" fill="#111">ECWR</text>
<text x="587.4" y="218.4" font-size="10.7" font-weight="bold" text-anchor="start" fill="#111">(W)</text>
<text x="452.1" y="119.6" font-size="11.8" font-weight="bold" text-anchor="middle" fill="#111" transform="rotate(-90 452.1 119.6)">PL Intensity (arb. unit)</text>
<text x="446.9" y="39.6" font-size="10.4" font-weight="bold" text-anchor="start" fill="#111">(b)</text>
<text x="491.14" y="435" font-size="8.2" font-weight="bold" text-anchor="middle" fill="#111">0</text>
<text x="514.42" y="435" font-size="8.2" font-weight="bold" text-anchor="middle" fill="#111">50</text>
<text x="537.71" y="435" font-size="8.2" font-weight="bold" text-anchor="middle" fill="#111">100</text>
<text x="560.99" y="435" font-size="8.2" font-weight="bold" text-anchor="middle" fill="#111">150</text>
<text x="584.27" y="435" font-size="8.2" font-weight="bold" text-anchor="middle" fill="#111">200</text>
<text x="607.55" y="435" font-size="8.2" font-weight="bold" text-anchor="middle" fill="#111">250</text>
<text x="630.84" y="435" font-size="8.2" font-weight="bold" text-anchor="middle" fill="#111">300</text>
<text x="654.12" y="435" font-size="8.2" font-weight="bold" text-anchor="middle" fill="#111">350</text>
<text x="677.4" y="435" font-size="8.2" font-weight="bold" text-anchor="middle" fill="#111">400</text>
<text x="473" y="427.6" font-size="8.2" font-weight="bold" text-anchor="end" fill="#111">0</text>
<text x="473" y="408.01" font-size="8.2" font-weight="bold" text-anchor="end" fill="#111">200</text>
<text x="473" y="388.43" font-size="8.2" font-weight="bold" text-anchor="end" fill="#111">400</text>
<text x="473" y="368.84" font-size="8.2" font-weight="bold" text-anchor="end" fill="#111">600</text>
<text x="473" y="349.25" font-size="8.2" font-weight="bold" text-anchor="end" fill="#111">800</text>
<text x="473" y="329.67" font-size="8.2" font-weight="bold" text-anchor="end" fill="#111">1000</text>
<text x="473" y="310.08" font-size="8.2" font-weight="bold" text-anchor="end" fill="#111">1200</text>
<text x="473" y="290.49" font-size="8.2" font-weight="bold" text-anchor="end" fill="#111">1400</text>
<rect x="488.1" y="285.2" width="5.4" height="5.2" fill="#000"/>
<rect x="534.8" y="319" width="5.4" height="5.2" fill="#000"/>
<rect x="581.2" y="399.9" width="5.4" height="5.2" fill="#000"/>
<rect x="627.7" y="397.5" width="5.4" height="5.2" fill="#000"/>
<rect x="664.8" y="384.4" width="5.4" height="5.2" fill="#000"/>
<text x="559" y="446.4" font-size="10.7" font-weight="bold" text-anchor="start" fill="#111">P</text>
<text x="567" y="451.3" font-size="6.3" font-weight="bold" text-anchor="start" fill="#111">ECWR</text>
<text x="590.8" y="446.4" font-size="10.7" font-weight="bold" text-anchor="start" fill="#111">(W)</text>
<text x="452.5" y="357.5" font-size="11.95" font-weight="bold" text-anchor="middle" fill="#111" transform="rotate(-90 452.5 357.5)">CL Intensity (arb. unit)</text>
<text x="452.6" y="274.3" font-size="10.6" font-weight="bold" text-anchor="start" fill="#111">(d)</text>
</svg></body></html>
